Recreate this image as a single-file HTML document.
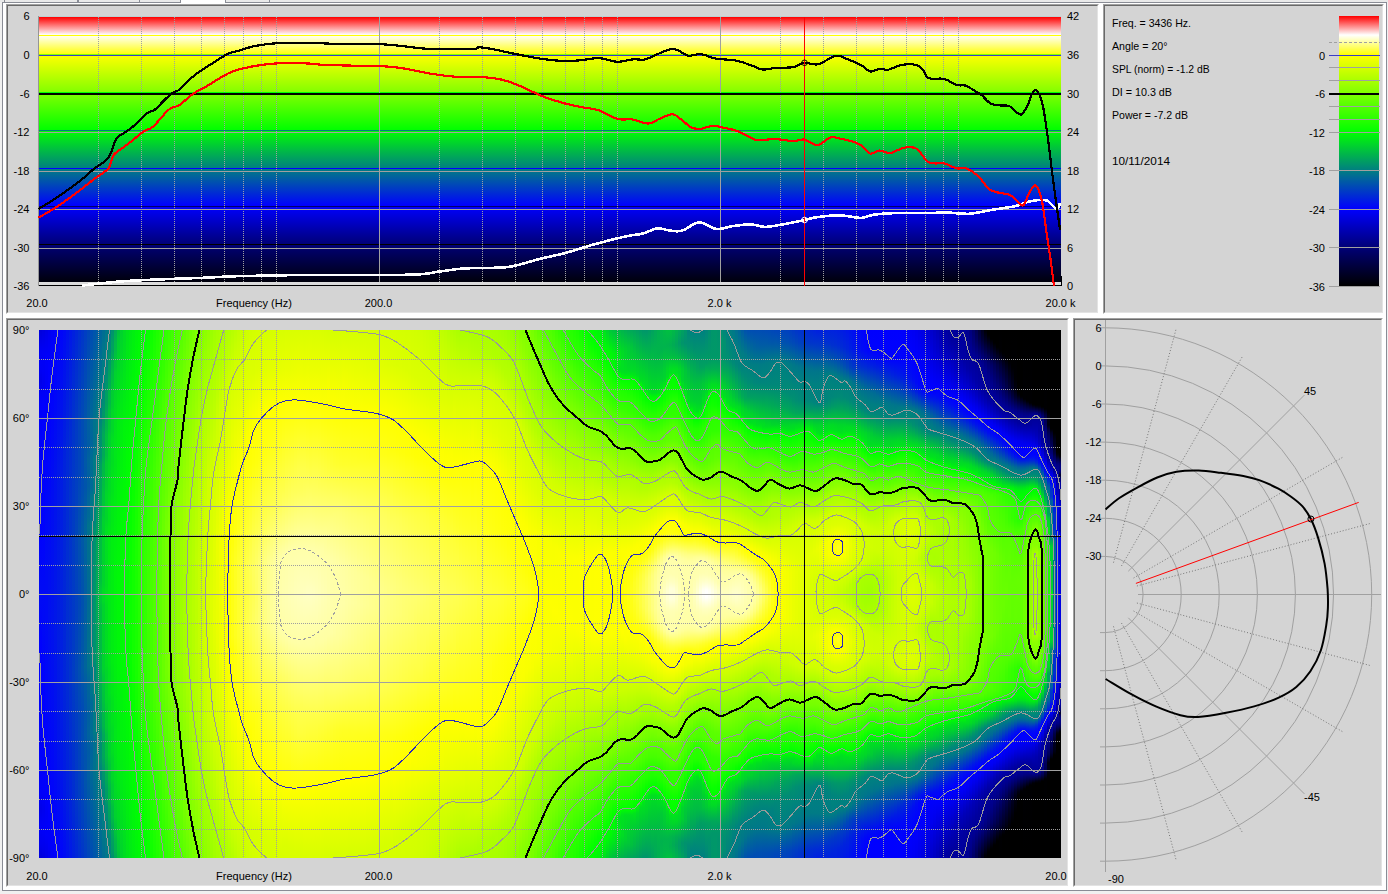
<!DOCTYPE html><html><head><meta charset="utf-8"><style>
*{margin:0;padding:0;box-sizing:border-box}
body{width:1388px;height:894px;background:#f0f0f0;position:relative;overflow:hidden;font-family:"Liberation Sans",sans-serif;font-size:11px;color:#000}
.a{position:absolute}
.pn{position:absolute;background:#d4d4d4;border-style:solid;border-width:1px;border-color:#a0a0a0 #ffffff #ffffff #a0a0a0}
.pn>.in{position:absolute;left:0;top:0;right:0;bottom:0;border-style:solid;border-width:1px;border-color:#696969 #e3e3e3 #e3e3e3 #696969}
.hc{position:absolute;top:330px;height:528px}
svg{position:absolute;left:0;top:0;overflow:visible}
svg text{font-family:"Liberation Sans",sans-serif;font-size:11px;fill:#000}

</style></head><body>
<div class="a" style="left:0;top:0;width:1388px;height:2px;background:#e9e9e9"></div>
<div class="a" style="left:4px;top:0;width:1px;height:2px;background:#898c95"></div>
<div class="a" style="left:77px;top:0;width:1px;height:2px;background:#898c95"></div>
<div class="a" style="left:78px;top:0;width:1px;height:2px;background:#898c95"></div>
<div class="a" style="left:139px;top:0;width:1px;height:2px;background:#898c95"></div>
<div class="a" style="left:269px;top:0;width:1px;height:2px;background:#898c95"></div>
<div class="a" style="left:2px;top:2px;width:1385px;height:889px;border:1px solid #898c95;background:#fff"></div>
<div class="a" style="left:180px;top:0;width:46px;height:3px;background:#fff;border-left:1px solid #898c95;border-right:1px solid #898c95"></div>
<div class="pn" style="left:6px;top:4px;width:1093px;height:310px"><div class="in"></div></div>
<div class="pn" style="left:1103px;top:4px;width:281px;height:310px"><div class="in"></div></div>
<div class="pn" style="left:6px;top:318px;width:1063px;height:569px"><div class="in"></div></div>
<div class="pn" style="left:1073px;top:318px;width:310px;height:569px"><div class="in"></div></div>
<div class="a" style="left:39px;top:17px;width:1022px;height:269px;background:linear-gradient(to bottom,#ff0000 0px,#ffffff 18px,#ffffff 18px,#ffff00 38px,#ffff00 38px,#80ff00 76px,#80ff00 76px,#00ff00 113px,#00ff00 113px,#008080 151px,#008080 151px,#0000ff 189px,#0000ff 189px,#000078 227px,#000078 227px,#000000 269px)"></div>
<div class="hc" style="left:39px;width:3px;background:linear-gradient(#0000dc 0px,#0000f5 21px,#0000f6 37px,#0000e9 51px,#0000fb 69px,#0000fc 115px,#0000f5 121px,#0000ff 135px,#0003fc 211px,#000af5 255px,#000af5 273px,#0005fa 295px,#0001fe 321px,#0000fc 401px,#0000f5 407px,#0000fe 419px,#0000f9 463px,#0000ea 479px,#0000f8 497px,#0000ee 515px,#0000dc 527px)"></div>
<div class="hc" style="left:42px;width:3px;background:linear-gradient(#0000e1 0px,#0000f7 23px,#0000f5 41px,#0000f0 53px,#0000fd 73px,#0004fb 209px,#000af5 257px,#0009f6 291px,#0001fe 365px,#0000fa 463px,#0000ef 479px,#0000f9 499px,#0000ed 517px,#0000e1 527px)"></div>
<div class="hc" style="left:45px;width:3px;background:linear-gradient(#0000e8 0px,#0000fa 27px,#0000f7 53px,#0000fe 85px,#000bf4 235px,#000bf4 293px,#0004fb 403px,#0000fd 461px,#0000f6 483px,#0000f9 505px,#0000e8 527px)"></div>
<div class="hc" style="left:48px;width:3px;background:linear-gradient(#0000f0 0px,#0000fd 35px,#0004fb 107px,#0007f8 133px,#0010ef 285px,#0008f7 401px,#0000fe 473px,#0000f7 515px,#0000f0 527px)"></div>
<div class="hc" style="left:51px;width:3px;background:linear-gradient(#0000f6 0px,#0000ff 41px,#000cf3 141px,#0013ec 289px,#0009f6 417px,#0000fe 499px,#0000f6 527px)"></div>
<div class="hc" style="left:54px;width:3px;background:linear-gradient(#0000fc 0px,#0003fc 39px,#0011ee 139px,#0017e8 295px,#000df2 421px,#0000fe 521px,#0000fc 527px)"></div>
<div class="hc" style="left:57px;width:3px;background:linear-gradient(#0001fe 0px,#0017e9 139px,#001ce3 313px,#0012ed 427px,#0001fe 527px)"></div>
<div class="hc" style="left:60px;width:3px;background:linear-gradient(#0005fa 0px,#001ce3 139px,#0021de 261px,#001ee2 365px,#0016e9 443px,#0005fa 527px)"></div>
<div class="hc" style="left:63px;width:3px;background:linear-gradient(#000af5 0px,#0023dc 131px,#0027d8 241px,#0025da 357px,#0019e6 463px,#000af5 527px)"></div>
<div class="hc" style="left:66px;width:3px;background:linear-gradient(#0011ee 0px,#0029d7 121px,#002ed2 221px,#002fd1 317px,#0020df 465px,#0011ee 527px)"></div>
<div class="hc" style="left:69px;width:3px;background:linear-gradient(#0018e8 0px,#002cd3 101px,#0035ca 185px,#0033cc 291px,#0034cb 347px,#0024db 479px,#0018e8 527px)"></div>
<div class="hc" style="left:72px;width:3px;background:linear-gradient(#001fe0 0px,#0034cc 95px,#003bc5 177px,#003dc2 209px,#0039c7 281px,#003dc3 343px,#0036c9 391px,#002cd3 477px,#001fe0 527px)"></div>
<div class="hc" style="left:75px;width:3px;background:linear-gradient(#0026d9 0px,#003bc4 93px,#0040c0 167px,#0046b9 203px,#0040c0 277px,#0046b9 339px,#003dc3 387px,#0037c9 467px,#0026d9 527px)"></div>
<div class="hc" style="left:78px;width:3px;background:linear-gradient(#002ed2 0px,#0044bc 93px,#0044bc 143px,#0050b0 201px,#0047b8 275px,#004fb1 339px,#0044bc 385px,#0043bc 413px,#003fc1 467px,#002ed2 527px)"></div>
<div class="hc" style="left:81px;width:3px;background:linear-gradient(#0035ca 0px,#004cb4 93px,#004cb3 119px,#004cb4 141px,#0050b0 165px,#005aa5 199px,#0050af 273px,#005aa6 337px,#004bb5 379px,#004db2 407px,#004cb4 433px,#0040c0 491px,#0035ca 527px)"></div>
<div class="hc" style="left:84px;width:3px;background:linear-gradient(#003dc3 0px,#0055ab 93px,#0054ac 117px,#0058a8 133px,#0054ab 157px,#00629e 189px,#00659b 199px,#005ca4 273px,#00649b 337px,#005ba5 353px,#0054ac 385px,#0057a9 405px,#0052ad 427px,#0053ad 453px,#003dc3 527px)"></div>
<div class="hc" style="left:87px;width:3px;background:linear-gradient(#0045bb 0px,#005fa1 93px,#005ba5 115px,#00639d 131px,#005da3 155px,#00669a 171px,#006a96 187px,#00728d 195px,#006996 267px,#00728e 335px,#00669a 349px,#00639c 365px,#005da3 381px,#00629e 403px,#005aa6 423px,#005ea2 445px,#0045bb 527px)"></div>
<div class="hc" style="left:90px;width:3px;background:linear-gradient(#004cb3 0px,#006997 93px,#00649c 113px,#006e92 131px,#006997 157px,#00748c 167px,#007789 189px,#007e82 195px,#007e82 335px,#00748c 343px,#00738d 363px,#006898 373px,#006d93 403px,#00639d 419px,#006997 441px,#004cb3 527px)"></div>
<div class="hc" style="left:93px;width:3px;background:linear-gradient(#0054ac 0px,#006e92 79px,#00738c 93px,#007090 117px,#007b85 129px,#007987 161px,#00837d 167px,#00847c 193px,#008f71 201px,#00946c 275px,#008e72 329px,#00837d 337px,#00827e 363px,#007987 367px,#007b85 401px,#006f91 413px,#00728d 441px,#0054ac 527px)"></div>
<div class="hc" style="left:96px;width:3px;background:linear-gradient(#005ca4 0px,#007090 59px,#007888 75px,#007b85 87px,#007d83 103px,#008080 127px,#008a76 137px,#008c74 163px,#009768 171px,#009f61 195px,#00a758 209px,#00ab55 251px,#00b24e 265px,#00a858 293px,#00a45c 329px,#009c64 339px,#00946b 361px,#008c74 367px,#008779 397px,#007e82 405px,#007e82 439px,#007789 449px,#00768a 459px,#00718f 471px,#005ca4 527px)"></div>
<div class="hc" style="left:99px;width:3px;background:linear-gradient(#00649c 0px,#00748c 43px,#007b85 57px,#007d83 69px,#00837d 89px,#009070 101px,#00916f 127px,#009f61 135px,#00aa56 165px,#00bd42 203px,#00c13e 251px,#00cb35 259px,#00ca35 271px,#00bf40 281px,#00b947 339px,#00af51 355px,#00a15f 387px,#009a66 397px,#009070 403px,#008e72 431px,#00837d 441px,#007d83 459px,#007987 477px,#00649c 527px)"></div>
<div class="hc" style="left:102px;width:3px;background:linear-gradient(#006c94 0px,#00758b 19px,#007b85 35px,#00847c 55px,#008878 67px,#008c74 73px,#00956a 83px,#009867 91px,#00a858 105px,#00a857 125px,#00b748 135px,#00bd42 155px,#00c43c 163px,#00ca36 185px,#00d12e 191px,#00d32c 255px,#00db24 261px,#00d927 271px,#00d22d 275px,#00d12e 339px,#00c739 347px,#00c03f 371px,#00b848 383px,#00b34c 397px,#00a759 405px,#00a55a 427px,#00956b 441px,#009070 453px,#008878 459px,#00867a 471px,#007f81 479px,#007b85 493px,#00758b 509px,#006c94 527px)"></div>
<div class="hc" style="left:105px;width:3px;background:linear-gradient(#00758b 0px,#007a86 9px,#00837d 35px,#008f71 47px,#00946c 55px,#009e62 63px,#00a15e 73px,#00ad53 83px,#00b34d 95px,#00bf41 107px,#00c03f 125px,#00cc33 133px,#00cf30 155px,#00d729 165px,#00d629 189px,#00e020 199px,#00de21 255px,#00e51a 265px,#00de21 277px,#00dd22 335px,#00d629 341px,#00d52b 369px,#00cc33 381px,#00cb34 397px,#00bf41 405px,#00be42 425px,#00ad53 441px,#00a857 451px,#009e62 459px,#009c64 469px,#008f71 477px,#008c74 487px,#00837d 493px,#007d83 509px,#00768a 525px,#00758b 527px)"></div>
<div class="hc" style="left:108px;width:3px;background:linear-gradient(#007e82 0px,#008977 11px,#008a76 21px,#00966a 29px,#009d62 39px,#00a65a 47px,#00ad53 55px,#00b749 63px,#00b947 73px,#00c43b 81px,#00ca35 99px,#00d22e 105px,#00d52b 131px,#00db24 147px,#00dc23 161px,#00e31d 175px,#00e21e 191px,#00e916 205px,#00ea15 259px,#00e619 333px,#00e020 343px,#00e11f 363px,#00d927 371px,#00d926 393px,#00d22e 409px,#00d22e 425px,#00c63a 435px,#00c33c 449px,#00b64a 459px,#00b44b 469px,#00a659 479px,#00a15e 487px,#009769 495px,#00926e 503px,#008977 509px,#00857b 523px,#007e82 527px)"></div>
<div class="hc" style="left:111px;width:3px;background:linear-gradient(#00916f 0px,#009f61 13px,#00a25d 21px,#00af51 31px,#00b848 39px,#00be41 47px,#00c33c 55px,#00cc33 61px,#00d02f 77px,#00d729 81px,#00d729 101px,#00df21 109px,#00de21 133px,#00e41b 147px,#00e31c 161px,#00ea15 175px,#00e916 191px,#00ef10 211px,#00ed12 331px,#00e817 345px,#00e718 363px,#00e11e 373px,#00e21d 391px,#00dc24 399px,#00de21 421px,#00d629 429px,#00d629 449px,#00cd33 455px,#00cc34 469px,#00bf41 477px,#00bc44 487px,#00af50 495px,#00a65a 505px,#009f60 513px,#009a65 521px,#00916f 527px)"></div>
<div class="hc" style="left:114px;width:3px;background:linear-gradient(#00a957 0px,#00b848 13px,#00bc44 21px,#00c53a 27px,#00c936 37px,#00d22e 43px,#00d728 61px,#00de21 79px,#00e21d 93px,#00e51a 105px,#00e719 123px,#00e619 135px,#00ea16 151px,#00ec13 165px,#00f50a 243px,#00f10e 333px,#00ec13 363px,#00ea16 377px,#00e619 393px,#00e719 405px,#00e51a 423px,#00e21d 435px,#00de21 449px,#00db25 461px,#00d22e 481px,#00d22e 487px,#00c639 495px,#00c43b 503px,#00b847 511px,#00b24d 521px,#00a957 527px)"></div>
<div class="hc" style="left:117px;width:3px;background:linear-gradient(#00c03f 0px,#00cd33 11px,#00d12e 23px,#00d629 37px,#00dd22 53px,#00de21 61px,#00ea15 91px,#00ec13 125px,#00f10e 165px,#00f807 247px,#00f60a 333px,#00f010 365px,#00ec13 393px,#00ec13 421px,#00e619 449px,#00de21 467px,#00d926 485px,#00d12e 505px,#00c837 521px,#00c03f 527px)"></div>
<div class="hc" style="left:120px;width:3px;background:linear-gradient(#00d22d 0px,#00d926 21px,#00de21 39px,#00e41b 55px,#00ef10 97px,#00f10e 125px,#00f609 167px,#00fb04 261px,#00f807 341px,#00f30c 367px,#00f20d 407px,#00ea16 459px,#00e41b 475px,#00df20 493px,#00d926 507px,#00d22d 527px)"></div>
<div class="hc" style="left:123px;width:3px;background:linear-gradient(#00dd22 0px,#00dd22 11px,#00f40b 97px,#00f906 167px,#01ff00 285px,#00f807 363px,#00ef10 455px,#00dd22 517px,#00dd22 527px)"></div>
<div class="hc" style="left:126px;width:3px;background:linear-gradient(#00e41b 0px,#00fa05 121px,#00fb04 141px,#05ff00 287px,#00fb04 363px,#00f20d 459px,#00e41b 527px)"></div>
<div class="hc" style="left:129px;width:3px;background:linear-gradient(#00ea15 0px,#00fd02 125px,#04ff00 177px,#09ff00 227px,#0bff00 287px,#04ff00 351px,#00f708 453px,#00ea15 527px)"></div>
<div class="hc" style="left:132px;width:3px;background:linear-gradient(#00ef10 0px,#00ff00 119px,#08ff00 149px,#0cff00 179px,#11ff00 225px,#11ff00 333px,#09ff00 365px,#05ff00 383px,#00fb04 453px,#00ef10 527px)"></div>
<div class="hc" style="left:135px;width:3px;background:linear-gradient(#00f40b 0px,#01ff00 91px,#0aff00 125px,#10ff00 149px,#16ff00 181px,#1aff00 221px,#17ff00 345px,#12ff00 365px,#0fff00 381px,#07ff00 407px,#00fd02 461px,#00f40b 527px)"></div>
<div class="hc" style="left:138px;width:3px;background:linear-gradient(#00f807 0px,#03ff00 71px,#13ff00 125px,#1aff00 149px,#1cff00 163px,#21ff00 183px,#24ff00 209px,#22ff00 343px,#1cff00 363px,#1cff00 377px,#16ff00 391px,#10ff00 407px,#00fe01 481px,#00f807 527px)"></div>
<div class="hc" style="left:141px;width:3px;background:linear-gradient(#00fb04 0px,#06ff00 57px,#1fff00 127px,#23ff00 149px,#26ff00 161px,#2cff00 237px,#29ff00 343px,#25ff00 377px,#20ff00 393px,#01ff00 495px,#00fb04 527px)"></div>
<div class="hc" style="left:144px;width:3px;background:linear-gradient(#00fe01 0px,#16ff00 79px,#29ff00 137px,#2eff00 183px,#34ff00 225px,#32ff00 335px,#2fff00 351px,#27ff00 401px,#03ff00 513px,#00fe01 527px)"></div>
<div class="hc" style="left:147px;width:3px;background:linear-gradient(#05ff00 0px,#27ff00 107px,#32ff00 147px,#37ff00 181px,#3fff00 283px,#38ff00 349px,#32ff00 373px,#2eff00 397px,#1bff00 459px,#05ff00 527px)"></div>
<div class="hc" style="left:150px;width:3px;background:linear-gradient(#0dff00 0px,#29ff00 91px,#3bff00 149px,#40ff00 181px,#48ff00 245px,#45ff00 289px,#41ff00 351px,#37ff00 395px,#2aff00 443px,#0dff00 527px)"></div>
<div class="hc" style="left:153px;width:3px;background:linear-gradient(#16ff00 0px,#27ff00 63px,#3aff00 115px,#45ff00 151px,#4aff00 183px,#4fff00 243px,#4fff00 285px,#4bff00 351px,#40ff00 395px,#2cff00 453px,#16ff00 527px)"></div>
<div class="hc" style="left:156px;width:3px;background:linear-gradient(#1eff00 0px,#32ff00 69px,#49ff00 131px,#4eff00 151px,#51ff00 171px,#55ff00 243px,#5aff00 261px,#58ff00 283px,#54ff00 319px,#51ff00 357px,#4bff00 389px,#3eff00 427px,#2aff00 485px,#1eff00 527px)"></div>
<div class="hc" style="left:159px;width:3px;background:linear-gradient(#25ff00 0px,#34ff00 55px,#4cff00 111px,#51ff00 133px,#5aff00 173px,#5eff00 209px,#5fff00 245px,#62ff00 277px,#5eff00 297px,#5cff00 353px,#57ff00 365px,#4eff00 409px,#35ff00 471px,#2cff00 501px,#25ff00 527px)"></div>
<div class="hc" style="left:162px;width:3px;background:linear-gradient(#2aff00 0px,#36ff00 39px,#4eff00 91px,#54ff00 119px,#5cff00 149px,#6aff00 199px,#6bff00 249px,#68ff00 345px,#59ff00 389px,#52ff00 427px,#40ff00 471px,#2eff00 511px,#2aff00 527px)"></div>
<div class="hc" style="left:165px;width:3px;background:linear-gradient(#30ff00 0px,#56ff00 89px,#5eff00 127px,#63ff00 149px,#75ff00 197px,#73ff00 341px,#60ff00 389px,#4eff00 459px,#30ff00 527px)"></div>
<div class="hc" style="left:168px;width:3px;background:linear-gradient(#37ff00 0px,#54ff00 63px,#68ff00 141px,#79ff00 177px,#7eff00 203px,#7dff00 339px,#6fff00 375px,#69ff00 389px,#4dff00 483px,#37ff00 527px)"></div>
<div class="hc" style="left:171px;width:3px;background:linear-gradient(#3fff00 0px,#56ff00 49px,#63ff00 89px,#71ff00 139px,#7aff00 159px,#81ff00 179px,#85ff00 195px,#86ff00 331px,#81ff00 347px,#7cff00 367px,#71ff00 387px,#6eff00 403px,#5cff00 453px,#4bff00 505px,#3fff00 527px)"></div>
<div class="hc" style="left:174px;width:3px;background:linear-gradient(#47ff00 0px,#55ff00 33px,#74ff00 119px,#79ff00 139px,#84ff00 167px,#88ff00 183px,#8fff00 221px,#8dff00 331px,#89ff00 347px,#82ff00 367px,#79ff00 389px,#76ff00 403px,#65ff00 451px,#4bff00 519px,#47ff00 527px)"></div>
<div class="hc" style="left:177px;width:3px;background:linear-gradient(#4eff00 0px,#77ff00 103px,#86ff00 159px,#90ff00 179px,#96ff00 229px,#96ff00 327px,#90ff00 351px,#81ff00 383px,#72ff00 441px,#4eff00 527px)"></div>
<div class="hc" style="left:180px;width:3px;background:linear-gradient(#54ff00 0px,#75ff00 71px,#7fff00 107px,#91ff00 163px,#97ff00 183px,#9dff00 217px,#9fff00 285px,#99ff00 337px,#93ff00 363px,#84ff00 403px,#77ff00 449px,#64ff00 493px,#54ff00 527px)"></div>
<div class="hc" style="left:183px;width:3px;background:linear-gradient(#5cff00 0px,#7dff00 67px,#86ff00 103px,#9cff00 167px,#a3ff00 213px,#a6ff00 283px,#a1ff00 337px,#99ff00 365px,#81ff00 439px,#73ff00 485px,#5cff00 527px)"></div>
<div class="hc" style="left:186px;width:3px;background:linear-gradient(#65ff00 0px,#7fff00 55px,#91ff00 113px,#a5ff00 177px,#adff00 279px,#a6ff00 339px,#a2ff00 363px,#8aff00 429px,#79ff00 489px,#65ff00 527px)"></div>
<div class="hc" style="left:189px;width:3px;background:linear-gradient(#6eff00 0px,#81ff00 45px,#9bff00 115px,#a7ff00 157px,#b0ff00 235px,#b2ff00 279px,#a4ff00 385px,#80ff00 485px,#6eff00 527px)"></div>
<div class="hc" style="left:192px;width:3px;background:linear-gradient(#76ff00 0px,#90ff00 69px,#a9ff00 135px,#b7ff00 237px,#b8ff00 279px,#b0ff00 355px,#a2ff00 415px,#80ff00 501px,#76ff00 527px)"></div>
<div class="hc" style="left:195px;width:3px;background:linear-gradient(#7cff00 0px,#91ff00 55px,#a8ff00 109px,#bfff00 229px,#bcff00 321px,#adff00 395px,#9dff00 451px,#84ff00 503px,#7cff00 527px)"></div>
<div class="hc" style="left:198px;width:3px;background:linear-gradient(#80ff00 0px,#a9ff00 93px,#baff00 153px,#c6ff00 235px,#c4ff00 313px,#b4ff00 393px,#a0ff00 459px,#80ff00 527px)"></div>
<div class="hc" style="left:201px;width:3px;background:linear-gradient(#85ff00 0px,#abff00 81px,#c6ff00 183px,#cdff00 235px,#cbff00 311px,#baff00 393px,#9eff00 477px,#85ff00 527px)"></div>
<div class="hc" style="left:204px;width:3px;background:linear-gradient(#8cff00 0px,#aaff00 65px,#ccff00 173px,#d4ff00 249px,#d1ff00 311px,#c6ff00 381px,#9fff00 489px,#8cff00 527px)"></div>
<div class="hc" style="left:207px;width:3px;background:linear-gradient(#93ff00 0px,#cfff00 151px,#daff00 267px,#ccff00 383px,#99ff00 511px,#93ff00 527px)"></div>
<div class="hc" style="left:210px;width:3px;background:linear-gradient(#9aff00 0px,#d4ff00 151px,#e0ff00 269px,#d9ff00 333px,#ceff00 397px,#a7ff00 495px,#9aff00 527px)"></div>
<div class="hc" style="left:213px;width:3px;background:linear-gradient(#a1ff00 0px,#b3ff00 55px,#d3ff00 131px,#e2ff00 219px,#e6ff00 287px,#ceff00 415px,#aaff00 499px,#a1ff00 527px)"></div>
<div class="hc" style="left:216px;width:3px;background:linear-gradient(#a6ff00 0px,#b2ff00 43px,#caff00 87px,#eaff00 213px,#eaff00 301px,#e1ff00 357px,#c5ff00 455px,#acff00 501px,#a6ff00 527px)"></div>
<div class="hc" style="left:219px;width:3px;background:linear-gradient(#a9ff00 0px,#b2ff00 33px,#ccff00 75px,#e1ff00 151px,#f1ff00 217px,#efff00 327px,#d9ff00 399px,#c6ff00 467px,#abff00 511px,#a9ff00 527px)"></div>
<div class="hc" style="left:222px;width:3px;background:linear-gradient(#aaff00 0px,#b7ff00 31px,#d1ff00 71px,#deff00 129px,#f4ff00 191px,#f8ff00 271px,#f3ff00 343px,#d6ff00 427px,#cbff00 471px,#acff00 517px,#aaff00 527px)"></div>
<div class="hc" style="left:225px;width:3px;background:linear-gradient(#adff00 0px,#bfff00 33px,#d3ff00 63px,#e1ff00 125px,#faff00 187px,#fcff00 319px,#edff00 379px,#daff00 427px,#cdff00 477px,#aeff00 521px,#adff00 527px)"></div>
<div class="hc" style="left:228px;width:3px;background:linear-gradient(#b1ff00 0px,#c3ff00 31px,#d4ff00 57px,#e7ff00 125px,#fcff00 179px,#ffff03 213px,#ffff08 237px,#ffff05 313px,#feff00 323px,#f6ff00 373px,#dcff00 435px,#ceff00 485px,#b2ff00 523px,#b1ff00 527px)"></div>
<div class="hc" style="left:231px;width:3px;background:linear-gradient(#b6ff00 0px,#c9ff00 31px,#d6ff00 55px,#f0ff00 129px,#ffff02 177px,#ffff05 189px,#ffff09 203px,#ffff0b 213px,#ffff16 227px,#ffff14 307px,#ffff08 319px,#ffff07 337px,#ffff01 345px,#f5ff00 389px,#d8ff00 459px,#cfff00 491px,#b6ff00 525px,#b6ff00 527px)"></div>
<div class="hc" style="left:234px;width:3px;background:linear-gradient(#bbff00 0px,#d0ff00 33px,#f4ff00 127px,#ffff03 167px,#ffff0a 183px,#ffff13 203px,#ffff18 215px,#ffff23 231px,#ffff20 305px,#ffff13 321px,#ffff0e 337px,#ffff0a 347px,#ffff00 371px,#d5ff00 481px,#cbff00 501px,#bbff00 527px)"></div>
<div class="hc" style="left:237px;width:3px;background:linear-gradient(#c1ff00 0px,#d6ff00 45px,#ffff01 147px,#ffff0b 171px,#ffff1d 207px,#ffff2e 233px,#ffff2d 279px,#ffff2a 305px,#ffff1c 323px,#ffff06 363px,#fcff00 395px,#d5ff00 487px,#c1ff00 527px)"></div>
<div class="hc" style="left:240px;width:3px;background:linear-gradient(#c6ff00 0px,#ffff00 137px,#ffff14 175px,#ffff31 221px,#ffff38 243px,#ffff35 273px,#ffff36 301px,#ffff18 347px,#ffff00 391px,#e3ff00 455px,#c9ff00 517px,#c6ff00 527px)"></div>
<div class="hc" style="left:243px;width:3px;background:linear-gradient(#caff00 0px,#e8ff00 75px,#feff00 123px,#ffff07 145px,#ffff42 235px,#ffff3d 271px,#ffff41 297px,#ffff02 391px,#f4ff00 433px,#d5ff00 495px,#caff00 527px)"></div>
<div class="hc" style="left:246px;width:3px;background:linear-gradient(#ceff00 0px,#e2ff00 59px,#fdff00 109px,#ffff06 139px,#ffff4b 235px,#ffff44 269px,#ffff4b 295px,#ffff02 397px,#f7ff00 435px,#d5ff00 497px,#ceff00 527px)"></div>
<div class="hc" style="left:249px;width:3px;background:linear-gradient(#d1ff00 0px,#dfff00 49px,#feff00 103px,#ffff07 135px,#ffff54 235px,#ffff4d 259px,#ffff4f 273px,#ffff54 295px,#ffff03 401px,#f9ff00 437px,#d6ff00 499px,#d1ff00 527px)"></div>
<div class="hc" style="left:252px;width:3px;background:linear-gradient(#d3ff00 0px,#ddff00 43px,#ffff00 99px,#ffff0a 133px,#ffff52 217px,#ffff5e 239px,#ffff55 267px,#ffff5e 289px,#ffff52 311px,#ffff0a 395px,#feff00 431px,#d6ff00 503px,#d3ff00 527px)"></div>
<div class="hc" style="left:255px;width:3px;background:linear-gradient(#d4ff00 0px,#deff00 41px,#ffff00 95px,#ffff0e 133px,#ffff50 207px,#ffff67 235px,#ffff62 257px,#ffff60 269px,#ffff68 291px,#ffff56 315px,#ffff14 387px,#ffff03 421px,#f9ff00 447px,#d7ff00 501px,#d4ff00 527px)"></div>
<div class="hc" style="left:258px;width:3px;background:linear-gradient(#d5ff00 0px,#deff00 39px,#ffff00 89px,#ffff10 131px,#ffff4c 197px,#ffff70 233px,#ffff6e 255px,#ffff6d 271px,#ffff71 293px,#ffff5a 319px,#ffff1d 381px,#ffff05 419px,#faff00 449px,#d8ff00 503px,#d5ff00 527px)"></div>
<div class="hc" style="left:261px;width:3px;background:linear-gradient(#d5ff00 0px,#e0ff00 39px,#ffff00 87px,#ffff16 133px,#ffff50 195px,#ffff79 231px,#ffff7b 253px,#ffff7a 273px,#ffff7a 295px,#ffff58 327px,#ffff1e 385px,#ffff01 433px,#f9ff00 455px,#d9ff00 503px,#d5ff00 527px)"></div>
<div class="hc" style="left:264px;width:3px;background:linear-gradient(#d5ff00 0px,#e2ff00 41px,#ffff00 83px,#ffff13 123px,#ffff4b 185px,#ffff83 231px,#ffff85 255px,#ffff84 295px,#ffff64 323px,#ffff2d 373px,#ffff06 427px,#fbff00 455px,#d9ff00 505px,#d5ff00 527px)"></div>
<div class="hc" style="left:267px;width:3px;background:linear-gradient(#d5ff00 0px,#e4ff00 41px,#ffff00 81px,#ffff17 123px,#ffff4c 181px,#ffff8c 231px,#ffff90 257px,#ffff8d 295px,#ffff70 319px,#ffff3b 363px,#ffff0a 425px,#feff00 451px,#daff00 507px,#d5ff00 527px)"></div>
<div class="hc" style="left:270px;width:3px;background:linear-gradient(#d6ff00 0px,#e5ff00 41px,#ffff00 77px,#ffff11 109px,#ffff46 171px,#ffff7b 211px,#ffff96 233px,#ffff9a 281px,#ffff92 301px,#ffff4a 353px,#ffff15 413px,#ffff00 449px,#e9ff00 481px,#d6ff00 521px,#d6ff00 527px)"></div>
<div class="hc" style="left:273px;width:3px;background:linear-gradient(#d7ff00 0px,#e6ff00 41px,#ffff00 77px,#ffff1c 119px,#ffff4f 175px,#ffff82 211px,#ffff9d 231px,#ffffa2 265px,#ffff9d 297px,#ffff7b 321px,#ffff48 359px,#ffff08 435px,#fcff00 459px,#dbff00 507px,#d7ff00 527px)"></div>
<div class="hc" style="left:276px;width:3px;background:linear-gradient(#d7ff00 0px,#e6ff00 39px,#ffff00 75px,#ffff21 121px,#ffff54 175px,#ffff85 209px,#ffffa3 229px,#ffffa9 271px,#ffffa3 299px,#ffff56 351px,#ffff26 401px,#ffff01 451px,#f2ff00 473px,#d9ff00 515px,#d7ff00 527px)"></div>
<div class="hc" style="left:279px;width:3px;background:linear-gradient(#d8ff00 0px,#e7ff00 39px,#ffff00 73px,#ffff23 119px,#ffff56 173px,#ffff87 207px,#ffffa7 227px,#ffffac 273px,#ffffa5 303px,#ffff60 347px,#ffff34 389px,#ffff01 453px,#edff00 481px,#d9ff00 521px,#d8ff00 527px)"></div>
<div class="hc" style="left:282px;width:3px;background:linear-gradient(#d8ff00 0px,#e8ff00 39px,#ffff01 73px,#ffff4a 159px,#ffff81 201px,#ffffa8 225px,#ffffb0 271px,#ffffa6 305px,#ffff64 347px,#ffff3b 385px,#ffff01 455px,#dbff00 515px,#d8ff00 527px)"></div>
<div class="hc" style="left:285px;width:3px;background:linear-gradient(#d9ff00 0px,#e9ff00 39px,#ffff02 73px,#ffff57 167px,#ffff8c 205px,#ffffa9 223px,#ffffb2 271px,#ffffa7 307px,#ffff68 347px,#ffff40 383px,#ffff00 457px,#dbff00 515px,#d9ff00 527px)"></div>
<div class="hc" style="left:288px;width:3px;background:linear-gradient(#d9ff00 0px,#e9ff00 39px,#ffff02 73px,#ffff5a 167px,#ffff90 205px,#ffffaa 221px,#ffffb5 269px,#ffffa5 311px,#ffff6f 345px,#ffff45 381px,#ffff17 431px,#feff00 459px,#dbff00 517px,#d9ff00 527px)"></div>
<div class="hc" style="left:291px;width:3px;background:linear-gradient(#d9ff00 0px,#ebff00 41px,#ffff02 73px,#ffff44 141px,#ffff60 169px,#ffff93 205px,#ffffa9 219px,#ffffb7 269px,#ffffa7 311px,#ffff73 345px,#ffff48 381px,#ffff30 409px,#feff00 459px,#daff00 519px,#d9ff00 527px)"></div>
<div class="hc" style="left:294px;width:3px;background:linear-gradient(#d9ff00 0px,#edff00 43px,#ffff03 73px,#ffff44 137px,#ffff5b 163px,#ffff99 207px,#ffffaa 219px,#ffffba 267px,#ffffa6 313px,#ffff76 345px,#ffff4b 381px,#ffff37 405px,#feff00 459px,#dbff00 519px,#d9ff00 527px)"></div>
<div class="hc" style="left:297px;width:3px;background:linear-gradient(#d9ff00 0px,#efff00 45px,#ffff03 73px,#ffff47 137px,#ffff5a 161px,#ffff9e 209px,#ffffab 221px,#ffffbc 267px,#ffffa7 313px,#ffff76 347px,#ffff4e 379px,#ffff3c 403px,#feff00 459px,#daff00 521px,#d9ff00 527px)"></div>
<div class="hc" style="left:300px;width:3px;background:linear-gradient(#d9ff00 0px,#efff00 45px,#ffff02 73px,#ffff48 137px,#ffff5c 161px,#ffffaa 219px,#ffffba 253px,#ffffbe 269px,#ffffab 305px,#ffffa2 317px,#ffff53 375px,#ffff3c 403px,#feff00 459px,#daff00 521px,#d9ff00 527px)"></div>
<div class="hc" style="left:303px;width:3px;background:linear-gradient(#d9ff00 0px,#edff00 43px,#ffff02 73px,#ffff48 137px,#ffff60 163px,#ffffaa 219px,#ffffb9 251px,#ffffc1 267px,#ffffab 303px,#ffffa2 317px,#ffff50 379px,#ffff39 405px,#ffff00 457px,#daff00 523px,#d9ff00 527px)"></div>
<div class="hc" style="left:306px;width:3px;background:linear-gradient(#d9ff00 0px,#eeff00 43px,#ffff03 75px,#ffff4a 141px,#ffff69 169px,#ffffaa 219px,#ffffb8 249px,#ffffc3 265px,#ffffab 301px,#ffffa4 315px,#ffff4e 381px,#ffff31 411px,#ffff00 457px,#daff00 523px,#d9ff00 527px)"></div>
<div class="hc" style="left:309px;width:3px;background:linear-gradient(#daff00 0px,#ecff00 41px,#ffff02 75px,#ffff4e 147px,#ffffa9 219px,#ffffb7 249px,#ffffc3 265px,#ffffab 299px,#ffffa4 315px,#ffff4c 383px,#ffff00 457px,#daff00 523px,#daff00 527px)"></div>
<div class="hc" style="left:312px;width:3px;background:linear-gradient(#d9ff00 0px,#ecff00 41px,#ffff02 75px,#ffff63 165px,#ffffa9 219px,#ffffb6 249px,#ffffc1 265px,#ffffab 299px,#ffffa3 315px,#ffff49 385px,#ffff00 457px,#daff00 523px,#d9ff00 527px)"></div>
<div class="hc" style="left:315px;width:3px;background:linear-gradient(#d9ff00 0px,#ecff00 41px,#ffff02 75px,#ffff60 163px,#ffffa9 221px,#ffffb6 251px,#ffffbd 267px,#ffffaa 301px,#ffff9f 317px,#ffff42 391px,#feff00 457px,#daff00 523px,#d9ff00 527px)"></div>
<div class="hc" style="left:318px;width:3px;background:linear-gradient(#d9ff00 0px,#edff00 43px,#ffff02 75px,#ffff55 155px,#ffffa8 221px,#ffffba 267px,#ffffa2 313px,#ffff37 399px,#ffff00 455px,#d9ff00 525px,#d9ff00 527px)"></div>
<div class="hc" style="left:321px;width:3px;background:linear-gradient(#d8ff00 0px,#efff00 45px,#ffff02 77px,#ffff4c 149px,#ffffa5 219px,#ffffb6 267px,#ffffa3 311px,#ffff2f 405px,#ffff00 455px,#d8ff00 525px,#d8ff00 527px)"></div>
<div class="hc" style="left:324px;width:3px;background:linear-gradient(#d7ff00 0px,#f1ff00 49px,#ffff03 79px,#ffff43 143px,#ffff96 207px,#ffffa9 229px,#ffffb3 269px,#ffffa3 309px,#ffff5b 367px,#ffff2a 407px,#ffff00 455px,#d7ff00 525px,#d7ff00 527px)"></div>
<div class="hc" style="left:327px;width:3px;background:linear-gradient(#d6ff00 0px,#f8ff00 59px,#ffff04 81px,#ffff3e 141px,#ffff84 193px,#ffffa8 229px,#ffffaf 271px,#ffffa4 305px,#ffff63 361px,#ffff2c 403px,#ffff00 455px,#d6ff00 527px)"></div>
<div class="hc" style="left:330px;width:3px;background:linear-gradient(#d5ff00 0px,#ffff00 77px,#ffff36 137px,#ffff7e 189px,#ffffa8 231px,#ffffac 275px,#ffffa4 303px,#ffff65 359px,#ffff2b 401px,#ffff00 453px,#d5ff00 527px)"></div>
<div class="hc" style="left:333px;width:3px;background:linear-gradient(#d5ff00 0px,#ffff00 77px,#ffff31 135px,#ffff79 185px,#ffffa7 233px,#ffffaa 279px,#ffffa1 303px,#ffff68 357px,#ffff28 401px,#ffff00 453px,#d5ff00 527px)"></div>
<div class="hc" style="left:336px;width:3px;background:linear-gradient(#d5ff00 0px,#ffff01 79px,#ffff2f 135px,#ffff76 183px,#ffffa6 235px,#ffffa9 281px,#ffff9a 309px,#ffff67 357px,#ffff26 401px,#ffff00 453px,#d5ff00 527px)"></div>
<div class="hc" style="left:339px;width:3px;background:linear-gradient(#d5ff00 0px,#ffff01 79px,#ffff2d 135px,#ffff75 183px,#ffffa4 237px,#ffffa9 275px,#ffff9b 305px,#ffff66 357px,#ffff24 401px,#feff00 453px,#d5ff00 527px)"></div>
<div class="hc" style="left:342px;width:3px;background:linear-gradient(#d5ff00 0px,#f5ff00 57px,#ffff03 83px,#ffff2c 135px,#ffff73 183px,#ffffa2 237px,#ffffa8 273px,#ffff98 305px,#ffff64 357px,#ffff23 401px,#feff00 453px,#d5ff00 527px)"></div>
<div class="hc" style="left:345px;width:3px;background:linear-gradient(#d5ff00 0px,#f2ff00 53px,#ffff02 83px,#ffff2c 135px,#ffff71 183px,#ffffa0 239px,#ffffa5 273px,#ffff94 307px,#ffff62 357px,#ffff23 401px,#ffff00 451px,#d5ff00 527px)"></div>
<div class="hc" style="left:348px;width:3px;background:linear-gradient(#d5ff00 0px,#efff00 49px,#ffff01 81px,#ffff2b 135px,#ffff6f 183px,#ffff9d 239px,#ffffa3 271px,#ffff91 307px,#ffff63 355px,#ffff22 401px,#ffff00 451px,#d5ff00 525px,#d5ff00 527px)"></div>
<div class="hc" style="left:351px;width:3px;background:linear-gradient(#d5ff00 0px,#edff00 47px,#ffff00 81px,#ffff28 133px,#ffff6f 185px,#ffff9b 241px,#ffffa0 273px,#ffff8b 311px,#ffff5f 357px,#ffff22 401px,#ffff00 449px,#d5ff00 525px,#d5ff00 527px)"></div>
<div class="hc" style="left:354px;width:3px;background:linear-gradient(#d5ff00 0px,#ebff00 45px,#ffff01 83px,#ffff28 133px,#ffff6e 185px,#ffff99 241px,#ffff9e 273px,#ffff87 313px,#ffff5d 357px,#ffff20 403px,#ffff00 449px,#d5ff00 525px,#d5ff00 527px)"></div>
<div class="hc" style="left:357px;width:3px;background:linear-gradient(#d5ff00 0px,#ebff00 45px,#ffff01 83px,#ffff25 131px,#ffff6e 187px,#ffff98 245px,#ffff9b 275px,#ffff7f 321px,#ffff59 359px,#ffff1f 403px,#ffff00 449px,#d5ff00 525px,#d5ff00 527px)"></div>
<div class="hc" style="left:360px;width:3px;background:linear-gradient(#d5ff00 0px,#e9ff00 43px,#ffff01 83px,#ffff25 131px,#ffff6c 187px,#ffff95 245px,#ffff98 275px,#ffff79 325px,#ffff55 361px,#ffff1e 403px,#ffff00 449px,#d5ff00 523px,#d5ff00 527px)"></div>
<div class="hc" style="left:363px;width:3px;background:linear-gradient(#d5ff00 0px,#e8ff00 43px,#ffff00 83px,#ffff24 131px,#ffff6a 187px,#ffff93 247px,#ffff95 275px,#ffff74 329px,#ffff54 361px,#ffff1c 405px,#ffff00 449px,#d5ff00 523px,#d5ff00 527px)"></div>
<div class="hc" style="left:366px;width:3px;background:linear-gradient(#d5ff00 0px,#e6ff00 41px,#ffff00 83px,#ffff21 129px,#ffff68 187px,#ffff92 249px,#ffff93 275px,#ffff6d 335px,#ffff4d 365px,#ffff1b 405px,#ffff00 447px,#d5ff00 521px,#d5ff00 527px)"></div>
<div class="hc" style="left:369px;width:3px;background:linear-gradient(#d5ff00 0px,#e5ff00 39px,#ffff00 83px,#ffff1e 127px,#ffff65 185px,#ffff90 251px,#ffff90 277px,#ffff63 345px,#ffff1a 405px,#ffff00 447px,#d5ff00 521px,#d5ff00 527px)"></div>
<div class="hc" style="left:372px;width:3px;background:linear-gradient(#d5ff00 0px,#e4ff00 39px,#ffff01 85px,#ffff1d 127px,#ffff63 185px,#ffff8f 255px,#ffff8d 279px,#ffff5c 351px,#ffff1b 403px,#ffff00 445px,#d5ff00 519px,#d5ff00 527px)"></div>
<div class="hc" style="left:375px;width:3px;background:linear-gradient(#d5ff00 0px,#e2ff00 37px,#ffff00 85px,#ffff1b 127px,#ffff60 183px,#ffff8d 257px,#ffff89 281px,#ffff59 353px,#ffff1a 403px,#ffff00 445px,#d6ff00 517px,#d5ff00 527px)"></div>
<div class="hc" style="left:378px;width:3px;background:linear-gradient(#d5ff00 0px,#e2ff00 37px,#ffff00 85px,#ffff18 125px,#ffff5e 183px,#ffff8c 259px,#ffff84 287px,#ffff57 353px,#ffff18 403px,#ffff00 443px,#d6ff00 517px,#d5ff00 527px)"></div>
<div class="hc" style="left:381px;width:3px;background:linear-gradient(#d5ff00 0px,#e1ff00 37px,#ffff00 87px,#ffff17 125px,#ffff5c 183px,#ffff89 259px,#ffff81 287px,#ffff55 353px,#ffff17 403px,#ffff00 441px,#d5ff00 517px,#d5ff00 527px)"></div>
<div class="hc" style="left:384px;width:3px;background:linear-gradient(#d5ff00 0px,#dfff00 35px,#ffff00 87px,#ffff16 125px,#ffff5c 185px,#ffff86 259px,#ffff7e 289px,#ffff53 353px,#ffff16 403px,#ffff00 441px,#d5ff00 515px,#d5ff00 527px)"></div>
<div class="hc" style="left:387px;width:3px;background:linear-gradient(#d5ff00 0px,#deff00 35px,#ffff00 89px,#ffff14 125px,#ffff59 185px,#ffff83 257px,#ffff7e 283px,#ffff50 353px,#ffff13 405px,#ffff00 439px,#d6ff00 513px,#d5ff00 527px)"></div>
<div class="hc" style="left:390px;width:3px;background:linear-gradient(#d5ff00 0px,#ddff00 35px,#ffff00 89px,#ffff0f 121px,#ffff44 167px,#ffff60 199px,#ffff81 259px,#ffff79 289px,#ffff4e 353px,#ffff11 405px,#ffff01 437px,#e8ff00 475px,#d5ff00 517px,#d5ff00 527px)"></div>
<div class="hc" style="left:393px;width:3px;background:linear-gradient(#d5ff00 0px,#dcff00 35px,#ffff00 91px,#ffff0e 121px,#ffff57 189px,#ffff7e 257px,#ffff78 285px,#ffff4d 351px,#ffff0e 407px,#ffff00 437px,#d6ff00 509px,#d5ff00 527px)"></div>
<div class="hc" style="left:396px;width:3px;background:linear-gradient(#d4ff00 0px,#dbff00 35px,#ffff00 93px,#ffff0c 121px,#ffff55 189px,#ffff7b 257px,#ffff76 285px,#ffff4b 351px,#ffff0c 407px,#ffff00 435px,#d6ff00 507px,#d4ff00 527px)"></div>
<div class="hc" style="left:399px;width:3px;background:linear-gradient(#d4ff00 0px,#dcff00 37px,#ffff00 95px,#ffff0c 123px,#ffff53 189px,#ffff79 257px,#ffff74 285px,#ffff48 351px,#ffff0b 407px,#ffff00 433px,#d5ff00 507px,#d4ff00 527px)"></div>
<div class="hc" style="left:402px;width:3px;background:linear-gradient(#d4ff00 0px,#dbff00 37px,#ffff00 97px,#ffff0b 123px,#ffff50 189px,#ffff77 259px,#ffff6f 289px,#ffff44 353px,#ffff09 407px,#ffff00 433px,#d6ff00 503px,#d4ff00 527px)"></div>
<div class="hc" style="left:405px;width:3px;background:linear-gradient(#d3ff00 0px,#dbff00 39px,#ffff00 99px,#ffff0a 125px,#ffff4e 189px,#ffff75 259px,#ffff6d 289px,#ffff42 353px,#ffff09 405px,#feff00 431px,#d5ff00 503px,#d3ff00 527px)"></div>
<div class="hc" style="left:408px;width:3px;background:linear-gradient(#d3ff00 0px,#dcff00 43px,#ffff00 101px,#ffff09 125px,#ffff4a 187px,#ffff74 261px,#ffff67 295px,#ffff3e 355px,#ffff07 405px,#feff00 431px,#d5ff00 501px,#d3ff00 527px)"></div>
<div class="hc" style="left:411px;width:3px;background:linear-gradient(#d2ff00 0px,#dbff00 45px,#feff00 101px,#ffff07 125px,#ffff48 187px,#ffff72 261px,#ffff65 295px,#ffff3c 355px,#ffff07 403px,#feff00 427px,#d5ff00 499px,#d2ff00 527px)"></div>
<div class="hc" style="left:414px;width:3px;background:linear-gradient(#d1ff00 0px,#dbff00 47px,#feff00 103px,#ffff06 127px,#ffff46 187px,#ffff71 263px,#ffff53 321px,#ffff36 359px,#ffff05 403px,#fbff00 433px,#d6ff00 495px,#d1ff00 527px)"></div>
<div class="hc" style="left:417px;width:3px;background:linear-gradient(#d0ff00 0px,#dbff00 49px,#feff00 105px,#ffff06 129px,#ffff43 185px,#ffff6f 263px,#ffff45 339px,#ffff2a 367px,#ffff03 403px,#f9ff00 435px,#d5ff00 493px,#d0ff00 527px)"></div>
<div class="hc" style="left:420px;width:3px;background:linear-gradient(#cfff00 0px,#dcff00 53px,#fdff00 107px,#ffff06 131px,#ffff40 185px,#ffff6d 263px,#ffff43 339px,#ffff28 367px,#ffff03 401px,#f7ff00 435px,#d5ff00 491px,#cfff00 527px)"></div>
<div class="hc" style="left:423px;width:3px;background:linear-gradient(#cdff00 0px,#dcff00 55px,#fdff00 109px,#ffff04 131px,#ffff3e 185px,#ffff6a 263px,#ffff4c 321px,#ffff2f 359px,#ffff03 399px,#f7ff00 433px,#d5ff00 489px,#cdff00 527px)"></div>
<div class="hc" style="left:426px;width:3px;background:linear-gradient(#cbff00 0px,#dcff00 57px,#fdff00 111px,#ffff04 133px,#ffff3d 187px,#ffff67 261px,#ffff5b 293px,#ffff2f 357px,#ffff01 399px,#f6ff00 433px,#d5ff00 487px,#cbff00 527px)"></div>
<div class="hc" style="left:429px;width:3px;background:linear-gradient(#c9ff00 0px,#dcff00 59px,#fdff00 113px,#ffff04 135px,#ffff3a 187px,#ffff64 261px,#ffff58 293px,#ffff2c 357px,#ffff01 397px,#f5ff00 433px,#d5ff00 485px,#c9ff00 527px)"></div>
<div class="hc" style="left:432px;width:3px;background:linear-gradient(#c7ff00 0px,#deff00 63px,#fdff00 115px,#ffff04 137px,#ffff38 187px,#ffff61 259px,#ffff59 287px,#ffff2c 355px,#ffff02 395px,#f4ff00 433px,#d5ff00 483px,#c7ff00 527px)"></div>
<div class="hc" style="left:435px;width:3px;background:linear-gradient(#c4ff00 0px,#deff00 65px,#fdff00 117px,#ffff04 139px,#ffff35 187px,#ffff5f 259px,#ffff57 287px,#ffff28 357px,#ffff01 395px,#f3ff00 433px,#d5ff00 483px,#c4ff00 527px)"></div>
<div class="hc" style="left:438px;width:3px;background:linear-gradient(#c1ff00 0px,#e0ff00 69px,#fdff00 119px,#ffff03 139px,#ffff34 189px,#ffff5c 259px,#ffff55 287px,#ffff26 357px,#ffff00 393px,#f2ff00 433px,#d4ff00 481px,#c1ff00 527px)"></div>
<div class="hc" style="left:441px;width:3px;background:linear-gradient(#beff00 0px,#dfff00 69px,#fdff00 121px,#ffff04 141px,#ffff32 189px,#ffff5a 259px,#ffff53 287px,#ffff23 357px,#ffff00 393px,#f0ff00 435px,#d3ff00 481px,#beff00 527px)"></div>
<div class="hc" style="left:444px;width:3px;background:linear-gradient(#bbff00 0px,#e1ff00 73px,#fdff00 125px,#ffff05 143px,#ffff31 191px,#ffff59 261px,#ffff4d 293px,#ffff1e 361px,#ffff00 393px,#edff00 437px,#d3ff00 481px,#bbff00 527px)"></div>
<div class="hc" style="left:447px;width:3px;background:linear-gradient(#b7ff00 0px,#fdff00 125px,#ffff04 143px,#ffff30 193px,#ffff57 261px,#ffff4a 293px,#ffff1c 361px,#ffff00 393px,#ecff00 437px,#b7ff00 527px)"></div>
<div class="hc" style="left:450px;width:3px;background:linear-gradient(#b3ff00 0px,#fcff00 123px,#ffff04 143px,#ffff31 197px,#ffff55 263px,#ffff3f 307px,#ffff15 367px,#ffff00 393px,#eaff00 439px,#b3ff00 527px)"></div>
<div class="hc" style="left:453px;width:3px;background:linear-gradient(#b0ff00 0px,#e5ff00 81px,#ffff00 133px,#ffff0c 153px,#ffff33 205px,#ffff54 263px,#ffff36 319px,#ffff0e 373px,#ffff00 393px,#e8ff00 441px,#bbff00 511px,#b0ff00 527px)"></div>
<div class="hc" style="left:456px;width:3px;background:linear-gradient(#acff00 0px,#d8ff00 61px,#ffff00 133px,#ffff0f 157px,#ffff40 229px,#ffff52 265px,#ffff16 363px,#ffff00 393px,#e5ff00 445px,#bcff00 507px,#acff00 527px)"></div>
<div class="hc" style="left:459px;width:3px;background:linear-gradient(#aaff00 0px,#d8ff00 61px,#ffff00 133px,#ffff11 161px,#ffff50 263px,#ffff17 359px,#ffff00 393px,#e2ff00 449px,#beff00 503px,#aaff00 527px)"></div>
<div class="hc" style="left:462px;width:3px;background:linear-gradient(#aaff00 0px,#daff00 65px,#ffff00 135px,#ffff4d 263px,#ffff1c 351px,#ffff00 393px,#deff00 455px,#c0ff00 499px,#aaff00 527px)"></div>
<div class="hc" style="left:465px;width:3px;background:linear-gradient(#aaff00 0px,#bfff00 29px,#daff00 65px,#ffff00 135px,#ffff4a 263px,#ffff30 313px,#ffff00 395px,#c8ff00 489px,#aaff00 525px,#aaff00 527px)"></div>
<div class="hc" style="left:468px;width:3px;background:linear-gradient(#aaff00 0px,#baff00 25px,#d8ff00 61px,#ffff01 135px,#ffff47 263px,#ffff34 303px,#ffff00 395px,#caff00 487px,#abff00 523px,#aaff00 527px)"></div>
<div class="hc" style="left:471px;width:3px;background:linear-gradient(#aaff00 0px,#b7ff00 23px,#d6ff00 59px,#f9ff00 119px,#ffff03 143px,#ffff45 263px,#ffff32 301px,#ffff00 395px,#cbff00 485px,#abff00 523px,#aaff00 527px)"></div>
<div class="hc" style="left:474px;width:3px;background:linear-gradient(#aaff00 0px,#b6ff00 23px,#d5ff00 57px,#f2ff00 111px,#ffff01 135px,#ffff37 239px,#ffff42 267px,#ffff01 393px,#efff00 421px,#cdff00 483px,#abff00 521px,#aaff00 527px)"></div>
<div class="hc" style="left:477px;width:3px;background:linear-gradient(#aaff00 0px,#b5ff00 23px,#d5ff00 57px,#eeff00 107px,#ffff00 133px,#ffff24 211px,#ffff3f 263px,#ffff30 297px,#ffff02 389px,#f9ff00 407px,#d9ff00 459px,#ceff00 481px,#acff00 517px,#aaff00 527px)"></div>
<div class="hc" style="left:480px;width:3px;background:linear-gradient(#aaff00 0px,#b4ff00 23px,#d5ff00 57px,#ecff00 105px,#ffff00 133px,#ffff20 209px,#ffff3d 263px,#ffff2d 297px,#ffff03 383px,#fcff00 403px,#dbff00 453px,#d0ff00 479px,#adff00 515px,#aaff00 527px)"></div>
<div class="hc" style="left:483px;width:3px;background:linear-gradient(#aaff00 0px,#b3ff00 23px,#d5ff00 57px,#e9ff00 103px,#ffff00 135px,#ffff1d 207px,#ffff3b 263px,#ffff2b 297px,#ffff05 375px,#fcff00 401px,#dbff00 449px,#cfff00 479px,#adff00 513px,#aaff00 527px)"></div>
<div class="hc" style="left:486px;width:3px;background:linear-gradient(#aaff00 0px,#b1ff00 23px,#d5ff00 59px,#e8ff00 103px,#ffff00 137px,#ffff1b 209px,#ffff39 263px,#ffff28 297px,#ffff06 369px,#fcff00 399px,#dbff00 447px,#d0ff00 477px,#adff00 511px,#aaff00 527px)"></div>
<div class="hc" style="left:489px;width:3px;background:linear-gradient(#aaff00 0px,#b2ff00 25px,#d5ff00 59px,#e5ff00 101px,#ffff00 139px,#ffff17 207px,#ffff38 263px,#ffff23 301px,#ffff05 369px,#fbff00 399px,#dbff00 445px,#d0ff00 475px,#adff00 509px,#aaff00 527px)"></div>
<div class="hc" style="left:492px;width:3px;background:linear-gradient(#a9ff00 0px,#b0ff00 25px,#d5ff00 61px,#e4ff00 103px,#ffff00 141px,#ffff14 205px,#ffff36 265px,#ffff0b 343px,#fcff00 395px,#dbff00 443px,#d0ff00 473px,#adff00 507px,#a9ff00 527px)"></div>
<div class="hc" style="left:495px;width:3px;background:linear-gradient(#a8ff00 0px,#b1ff00 29px,#d4ff00 63px,#e4ff00 105px,#ffff00 145px,#ffff12 207px,#ffff35 265px,#ffff0c 335px,#fcff00 391px,#daff00 441px,#d0ff00 471px,#afff00 503px,#a8ff00 527px)"></div>
<div class="hc" style="left:498px;width:3px;background:linear-gradient(#a6ff00 0px,#b3ff00 33px,#d5ff00 67px,#e3ff00 107px,#ffff00 149px,#ffff10 207px,#ffff33 265px,#ffff0c 329px,#feff00 383px,#d9ff00 441px,#cfff00 469px,#aeff00 501px,#a6ff00 527px)"></div>
<div class="hc" style="left:501px;width:3px;background:linear-gradient(#a4ff00 0px,#b5ff00 39px,#d4ff00 69px,#e2ff00 109px,#feff00 153px,#ffff0d 207px,#ffff31 265px,#ffff0b 327px,#fdff00 379px,#d8ff00 441px,#d0ff00 465px,#afff00 497px,#a4ff00 527px)"></div>
<div class="hc" style="left:504px;width:3px;background:linear-gradient(#a1ff00 0px,#b7ff00 45px,#d4ff00 73px,#e3ff00 115px,#feff00 157px,#ffff0b 207px,#ffff2d 265px,#ffff09 325px,#fcff00 375px,#d7ff00 439px,#ceff00 463px,#aeff00 495px,#a1ff00 527px)"></div>
<div class="hc" style="left:507px;width:3px;background:linear-gradient(#9dff00 0px,#b9ff00 51px,#d4ff00 79px,#e4ff00 121px,#fdff00 163px,#ffff0b 213px,#ffff2a 265px,#ffff07 323px,#fbff00 371px,#d7ff00 435px,#d0ff00 457px,#aeff00 491px,#9dff00 527px)"></div>
<div class="hc" style="left:510px;width:3px;background:linear-gradient(#98ff00 0px,#abff00 35px,#bfff00 61px,#d5ff00 83px,#e4ff00 125px,#feff00 171px,#ffff0a 217px,#ffff27 265px,#ffff07 319px,#faff00 367px,#d7ff00 431px,#cfff00 453px,#afff00 485px,#a2ff00 511px,#98ff00 527px)"></div>
<div class="hc" style="left:513px;width:3px;background:linear-gradient(#92ff00 0px,#a5ff00 25px,#b7ff00 59px,#d4ff00 87px,#e3ff00 129px,#feff00 177px,#ffff0a 223px,#ffff24 265px,#ffff06 315px,#faff00 361px,#d7ff00 425px,#d0ff00 447px,#afff00 479px,#a5ff00 503px,#92ff00 527px)"></div>
<div class="hc" style="left:516px;width:3px;background:linear-gradient(#8dff00 0px,#9cff00 21px,#aaff00 39px,#b7ff00 65px,#d4ff00 91px,#e2ff00 133px,#fdff00 183px,#ffff09 227px,#ffff21 265px,#ffff05 311px,#faff00 355px,#d7ff00 419px,#cfff00 443px,#afff00 473px,#a3ff00 501px,#8dff00 525px,#8dff00 527px)"></div>
<div class="hc" style="left:519px;width:3px;background:linear-gradient(#87ff00 0px,#96ff00 21px,#aaff00 45px,#b3ff00 67px,#d2ff00 95px,#e2ff00 139px,#fdff00 189px,#ffff08 231px,#ffff1f 265px,#ffff04 305px,#f9ff00 351px,#d6ff00 415px,#ceff00 439px,#aeff00 467px,#a1ff00 497px,#88ff00 523px,#87ff00 527px)"></div>
<div class="hc" style="left:522px;width:3px;background:linear-gradient(#83ff00 0px,#90ff00 21px,#a9ff00 51px,#b3ff00 73px,#d1ff00 101px,#e2ff00 145px,#fdff00 193px,#ffff07 235px,#ffff1d 265px,#ffff04 299px,#faff00 345px,#d6ff00 409px,#cdff00 433px,#adff00 463px,#a2ff00 489px,#83ff00 523px,#83ff00 527px)"></div>
<div class="hc" style="left:525px;width:3px;background:linear-gradient(#80ff00 0px,#8cff00 23px,#a8ff00 57px,#b3ff00 79px,#d2ff00 109px,#e1ff00 149px,#fdff00 197px,#ffff06 239px,#ffff1a 265px,#ffff03 295px,#f9ff00 341px,#d5ff00 405px,#cbff00 427px,#abff00 459px,#a0ff00 485px,#81ff00 521px,#80ff00 527px)"></div>
<div class="hc" style="left:528px;width:3px;background:linear-gradient(#7eff00 0px,#89ff00 27px,#a9ff00 65px,#b3ff00 85px,#d3ff00 117px,#e2ff00 155px,#fcff00 201px,#ffff05 243px,#ffff16 265px,#ffff03 289px,#f9ff00 337px,#d5ff00 399px,#cdff00 419px,#abff00 453px,#9fff00 479px,#80ff00 515px,#7eff00 527px)"></div>
<div class="hc" style="left:531px;width:3px;background:linear-gradient(#77ff00 0px,#8eff00 39px,#a9ff00 73px,#b4ff00 93px,#d3ff00 123px,#e0ff00 157px,#fbff00 203px,#ffff04 249px,#ffff0e 265px,#ffff01 291px,#f7ff00 337px,#d5ff00 393px,#cdff00 413px,#abff00 447px,#9cff00 475px,#81ff00 507px,#77ff00 527px)"></div>
<div class="hc" style="left:534px;width:3px;background:linear-gradient(#6eff00 0px,#80ff00 25px,#95ff00 53px,#aaff00 83px,#b6ff00 101px,#d2ff00 127px,#e1ff00 163px,#fbff00 205px,#ffff04 257px,#faff00 325px,#d5ff00 389px,#ccff00 409px,#acff00 439px,#9eff00 465px,#80ff00 501px,#75ff00 519px,#6eff00 527px)"></div>
<div class="hc" style="left:537px;width:3px;background:linear-gradient(#64ff00 0px,#7fff00 29px,#8dff00 51px,#a9ff00 85px,#b3ff00 103px,#d2ff00 131px,#dfff00 165px,#f9ff00 205px,#ffff00 273px,#f8ff00 327px,#d6ff00 381px,#cbff00 405px,#acff00 433px,#a0ff00 457px,#81ff00 493px,#78ff00 509px,#64ff00 527px)"></div>
<div class="hc" style="left:540px;width:3px;background:linear-gradient(#5bff00 0px,#70ff00 19px,#80ff00 39px,#9aff00 71px,#aaff00 95px,#b5ff00 109px,#d1ff00 135px,#deff00 167px,#f9ff00 207px,#ffff00 269px,#f8ff00 323px,#d5ff00 377px,#cbff00 401px,#abff00 429px,#a0ff00 451px,#80ff00 487px,#76ff00 505px,#5bff00 525px,#5bff00 527px)"></div>
<div class="hc" style="left:543px;width:3px;background:linear-gradient(#55ff00 0px,#60ff00 13px,#7fff00 41px,#8eff00 65px,#a9ff00 95px,#b3ff00 111px,#d1ff00 139px,#dbff00 167px,#f8ff00 209px,#feff00 269px,#f7ff00 321px,#d5ff00 375px,#cbff00 397px,#aaff00 427px,#9dff00 449px,#81ff00 479px,#77ff00 497px,#55ff00 525px,#55ff00 527px)"></div>
<div class="hc" style="left:546px;width:3px;background:linear-gradient(#53ff00 0px,#60ff00 19px,#7eff00 45px,#8dff00 69px,#a9ff00 99px,#b3ff00 115px,#d1ff00 143px,#ddff00 171px,#f8ff00 211px,#feff00 271px,#f6ff00 321px,#d5ff00 371px,#c9ff00 395px,#abff00 423px,#9cff00 445px,#82ff00 473px,#77ff00 491px,#56ff00 519px,#53ff00 527px)"></div>
<div class="hc" style="left:549px;width:3px;background:linear-gradient(#4fff00 0px,#61ff00 27px,#7dff00 51px,#8cff00 73px,#aaff00 103px,#b4ff00 119px,#d1ff00 147px,#ddff00 173px,#f8ff00 213px,#feff00 273px,#f5ff00 321px,#d4ff00 371px,#c5ff00 395px,#abff00 419px,#9eff00 439px,#81ff00 469px,#6fff00 491px,#57ff00 513px,#4fff00 527px)"></div>
<div class="hc" style="left:552px;width:3px;background:linear-gradient(#48ff00 0px,#62ff00 33px,#7fff00 59px,#8bff00 77px,#a9ff00 105px,#b3ff00 121px,#d1ff00 151px,#dfff00 177px,#f8ff00 217px,#feff00 281px,#f2ff00 325px,#d5ff00 367px,#c6ff00 391px,#abff00 417px,#9eff00 435px,#81ff00 463px,#76ff00 479px,#56ff00 507px,#48ff00 527px)"></div>
<div class="hc" style="left:555px;width:3px;background:linear-gradient(#3eff00 0px,#55ff00 23px,#62ff00 39px,#7fff00 63px,#8eff00 83px,#aaff00 109px,#b4ff00 125px,#d2ff00 155px,#dfff00 179px,#f9ff00 219px,#feff00 283px,#f1ff00 325px,#d5ff00 367px,#c0ff00 393px,#aaff00 415px,#9dff00 433px,#81ff00 459px,#76ff00 475px,#56ff00 501px,#4fff00 513px,#3eff00 527px)"></div>
<div class="hc" style="left:558px;width:3px;background:linear-gradient(#35ff00 0px,#4aff00 17px,#57ff00 33px,#6cff00 51px,#80ff00 69px,#8cff00 85px,#a9ff00 111px,#b4ff00 127px,#d2ff00 157px,#e0ff00 181px,#faff00 223px,#fdff00 289px,#eeff00 329px,#d5ff00 365px,#c2ff00 389px,#aaff00 413px,#9cff00 431px,#82ff00 453px,#75ff00 471px,#58ff00 493px,#4dff00 509px,#36ff00 525px,#35ff00 527px)"></div>
<div class="hc" style="left:561px;width:3px;background:linear-gradient(#2dff00 0px,#41ff00 17px,#55ff00 33px,#60ff00 47px,#7eff00 69px,#88ff00 85px,#a9ff00 113px,#b3ff00 129px,#d3ff00 159px,#e2ff00 185px,#fbff00 227px,#fcff00 293px,#eaff00 333px,#d4ff00 365px,#bdff00 391px,#aaff00 411px,#9bff00 429px,#81ff00 451px,#75ff00 467px,#57ff00 489px,#4bff00 505px,#2eff00 525px,#2dff00 527px)"></div>
<div class="hc" style="left:564px;width:3px;background:linear-gradient(#2aff00 0px,#35ff00 15px,#55ff00 37px,#5aff00 47px,#7fff00 75px,#8aff00 89px,#a9ff00 115px,#b3ff00 131px,#d3ff00 161px,#faff00 227px,#fcff00 293px,#e9ff00 333px,#c4ff00 383px,#abff00 407px,#9fff00 423px,#80ff00 449px,#75ff00 463px,#56ff00 485px,#4fff00 497px,#2dff00 521px,#2aff00 527px)"></div>
<div class="hc" style="left:567px;width:3px;background:linear-gradient(#29ff00 0px,#31ff00 17px,#52ff00 39px,#61ff00 55px,#80ff00 79px,#94ff00 99px,#aaff00 119px,#b6ff00 135px,#d3ff00 163px,#fbff00 227px,#fdff00 293px,#e9ff00 333px,#c5ff00 381px,#abff00 405px,#a1ff00 419px,#80ff00 447px,#72ff00 461px,#55ff00 483px,#48ff00 497px,#2dff00 515px,#29ff00 527px)"></div>
<div class="hc" style="left:570px;width:3px;background:linear-gradient(#25ff00 0px,#30ff00 21px,#4fff00 41px,#66ff00 63px,#7fff00 81px,#93ff00 101px,#aaff00 121px,#b7ff00 137px,#d4ff00 165px,#fbff00 227px,#fdff00 293px,#eaff00 331px,#c6ff00 379px,#abff00 403px,#a1ff00 417px,#82ff00 443px,#70ff00 459px,#56ff00 479px,#41ff00 497px,#2bff00 511px,#25ff00 527px)"></div>
<div class="hc" style="left:573px;width:3px;background:linear-gradient(#20ff00 0px,#2fff00 25px,#50ff00 47px,#64ff00 65px,#7eff00 83px,#90ff00 101px,#a9ff00 121px,#b5ff00 137px,#d3ff00 165px,#fcff00 229px,#fcff00 297px,#e3ff00 339px,#c7ff00 377px,#aaff00 403px,#9fff00 417px,#82ff00 439px,#72ff00 455px,#57ff00 473px,#3eff00 495px,#2cff00 507px,#20ff00 527px)"></div>
<div class="hc" style="left:576px;width:3px;background:linear-gradient(#1aff00 0px,#31ff00 29px,#55ff00 55px,#62ff00 67px,#80ff00 87px,#8cff00 101px,#a9ff00 123px,#b6ff00 139px,#d4ff00 167px,#fcff00 229px,#fcff00 299px,#dcff00 347px,#c5ff00 377px,#aaff00 401px,#9fff00 415px,#81ff00 437px,#77ff00 449px,#56ff00 471px,#47ff00 485px,#2bff00 505px,#1aff00 527px)"></div>
<div class="hc" style="left:579px;width:3px;background:linear-gradient(#12ff00 0px,#35ff00 35px,#55ff00 57px,#61ff00 69px,#80ff00 89px,#8cff00 103px,#aaff00 125px,#bdff00 145px,#d5ff00 169px,#fdff00 229px,#fcff00 301px,#c7ff00 375px,#aaff00 401px,#96ff00 419px,#80ff00 437px,#73ff00 449px,#56ff00 467px,#4fff00 477px,#28ff00 503px,#12ff00 527px)"></div>
<div class="hc" style="left:582px;width:3px;background:linear-gradient(#0aff00 0px,#3cff00 43px,#55ff00 59px,#63ff00 73px,#7fff00 91px,#90ff00 107px,#aaff00 127px,#d5ff00 169px,#fdff00 229px,#fcff00 303px,#c8ff00 373px,#aaff00 401px,#80ff00 435px,#72ff00 447px,#56ff00 465px,#4aff00 477px,#29ff00 499px,#0aff00 527px)"></div>
<div class="hc" style="left:585px;width:3px;background:linear-gradient(#03ff00 0px,#3dff00 47px,#54ff00 61px,#63ff00 75px,#7fff00 93px,#90ff00 109px,#aaff00 129px,#d5ff00 169px,#feff00 229px,#fcff00 305px,#caff00 371px,#aaff00 399px,#80ff00 433px,#6eff00 447px,#56ff00 463px,#49ff00 475px,#2cff00 493px,#03ff00 527px)"></div>
<div class="hc" style="left:588px;width:3px;background:linear-gradient(#00ff00 0px,#0cff00 15px,#2bff00 35px,#3bff00 49px,#55ff00 65px,#62ff00 77px,#7fff00 95px,#90ff00 111px,#abff00 131px,#d4ff00 167px,#f0ff00 207px,#ffff00 231px,#fcff00 305px,#d5ff00 359px,#c2ff00 377px,#97ff00 413px,#80ff00 431px,#69ff00 447px,#56ff00 461px,#4eff00 469px,#2dff00 489px,#23ff00 499px,#03ff00 521px,#00ff00 527px)"></div>
<div class="hc" style="left:591px;width:3px;background:linear-gradient(#00fe01 0px,#05ff00 13px,#29ff00 37px,#39ff00 51px,#55ff00 67px,#65ff00 81px,#80ff00 97px,#91ff00 113px,#acff00 133px,#d5ff00 167px,#e9ff00 199px,#feff00 227px,#fcff00 307px,#d6ff00 357px,#c9ff00 371px,#aaff00 397px,#80ff00 429px,#70ff00 441px,#57ff00 457px,#4dff00 467px,#2eff00 485px,#1dff00 499px,#01ff00 519px,#00fe01 527px)"></div>
<div class="hc" style="left:594px;width:3px;background:linear-gradient(#00fa05 0px,#05ff00 17px,#2bff00 41px,#37ff00 53px,#54ff00 69px,#64ff00 83px,#80ff00 99px,#91ff00 115px,#acff00 133px,#c2ff00 153px,#d5ff00 169px,#e9ff00 199px,#ffff00 227px,#fdff00 307px,#d7ff00 353px,#ceff00 367px,#afff00 391px,#9cff00 407px,#82ff00 425px,#78ff00 435px,#58ff00 453px,#4cff00 465px,#2cff00 483px,#1fff00 495px,#05ff00 511px,#00fa05 527px)"></div>
<div class="hc" style="left:597px;width:3px;background:linear-gradient(#00f40b 0px,#01ff00 15px,#0dff00 27px,#2aff00 43px,#35ff00 55px,#55ff00 71px,#60ff00 83px,#80ff00 99px,#8bff00 113px,#acff00 133px,#bdff00 151px,#d5ff00 167px,#e4ff00 195px,#ffff00 225px,#fdff00 307px,#d8ff00 351px,#d1ff00 365px,#afff00 389px,#a5ff00 401px,#84ff00 421px,#7dff00 431px,#57ff00 451px,#52ff00 459px,#2fff00 477px,#24ff00 489px,#04ff00 507px,#00fa05 521px,#00f40b 527px)"></div>
<div class="hc" style="left:600px;width:3px;background:linear-gradient(#00eb14 0px,#00ff00 17px,#09ff00 29px,#2bff00 47px,#32ff00 57px,#54ff00 73px,#5fff00 85px,#7fff00 101px,#8bff00 115px,#a9ff00 131px,#b5ff00 147px,#d5ff00 167px,#e2ff00 193px,#ffff00 225px,#fdff00 307px,#d8ff00 349px,#d0ff00 365px,#afff00 387px,#a7ff00 399px,#84ff00 419px,#79ff00 431px,#59ff00 447px,#51ff00 457px,#2fff00 473px,#26ff00 485px,#04ff00 503px,#00fb04 515px,#00eb14 527px)"></div>
<div class="hc" style="left:603px;width:3px;background:linear-gradient(#00df20 0px,#00fd02 19px,#06ff00 31px,#28ff00 49px,#32ff00 61px,#55ff00 77px,#61ff00 89px,#80ff00 103px,#88ff00 115px,#aaff00 133px,#b3ff00 147px,#d4ff00 167px,#dfff00 191px,#ffff00 225px,#fdff00 307px,#d7ff00 349px,#cfff00 365px,#aeff00 385px,#a4ff00 399px,#83ff00 417px,#7dff00 427px,#5bff00 443px,#4fff00 455px,#2fff00 469px,#23ff00 483px,#03ff00 499px,#00fc03 511px,#00df20 527px)"></div>
<div class="hc" style="left:606px;width:3px;background:linear-gradient(#00d22d 0px,#00f807 19px,#03ff00 33px,#29ff00 55px,#32ff00 65px,#53ff00 79px,#5fff00 91px,#7fff00 105px,#88ff00 117px,#aaff00 135px,#b3ff00 149px,#d4ff00 169px,#deff00 191px,#feff00 225px,#fcff00 307px,#d6ff00 349px,#d0ff00 363px,#acff00 385px,#a5ff00 397px,#83ff00 415px,#7cff00 425px,#59ff00 441px,#4cff00 453px,#2fff00 465px,#21ff00 479px,#01ff00 497px,#00f807 509px,#00d22d 527px)"></div>
<div class="hc" style="left:609px;width:3px;background:linear-gradient(#00c739 0px,#00f50a 21px,#01ff00 35px,#18ff00 49px,#29ff00 59px,#2fff00 67px,#50ff00 81px,#5dff00 93px,#7eff00 107px,#88ff00 119px,#a7ff00 135px,#b1ff00 149px,#d3ff00 169px,#ddff00 191px,#fdff00 223px,#fdff00 305px,#d5ff00 349px,#ceff00 363px,#acff00 383px,#a5ff00 395px,#82ff00 413px,#7bff00 423px,#59ff00 437px,#4dff00 449px,#2cff00 463px,#20ff00 475px,#02ff00 491px,#00f807 505px,#00e01f 517px,#00c739 527px)"></div>
<div class="hc" style="left:612px;width:3px;background:linear-gradient(#00c23e 0px,#00f20d 23px,#01ff00 41px,#14ff00 51px,#28ff00 61px,#31ff00 71px,#52ff00 85px,#5bff00 95px,#7dff00 109px,#88ff00 121px,#a7ff00 137px,#b2ff00 151px,#d3ff00 171px,#ddff00 191px,#fcff00 223px,#fcff00 305px,#d5ff00 347px,#cfff00 361px,#abff00 383px,#a2ff00 395px,#82ff00 411px,#7aff00 421px,#58ff00 435px,#4fff00 445px,#2bff00 461px,#22ff00 471px,#06ff00 483px,#00fc03 495px,#00e818 511px,#00c23e 527px)"></div>
<div class="hc" style="left:615px;width:3px;background:linear-gradient(#00bd42 0px,#00d22d 11px,#00ed12 25px,#00ef10 37px,#00ef10 39px,#00fa05 41px,#02ff00 47px,#25ff00 61px,#30ff00 73px,#52ff00 87px,#5bff00 97px,#7aff00 109px,#89ff00 123px,#a7ff00 139px,#b0ff00 151px,#d1ff00 171px,#dcff00 191px,#fbff00 221px,#ffff00 297px,#f1ff00 319px,#d5ff00 347px,#cdff00 361px,#abff00 381px,#a2ff00 393px,#80ff00 411px,#76ff00 421px,#57ff00 433px,#4eff00 443px,#2cff00 457px,#22ff00 469px,#00ff00 483px,#00fa05 487px,#00ef10 489px,#00ef10 501px,#00dc23 513px,#00bf40 525px,#00bd42 527px)"></div>
<div class="hc" style="left:618px;width:3px;background:linear-gradient(#00b946 0px,#00cd33 11px,#00e31c 23px,#00e619 33px,#00df20 39px,#00e21d 41px,#00f906 45px,#04ff00 49px,#22ff00 61px,#32ff00 75px,#51ff00 89px,#59ff00 97px,#7dff00 113px,#87ff00 123px,#a7ff00 141px,#b3ff00 153px,#d2ff00 173px,#dcff00 191px,#fbff00 221px,#feff00 299px,#efff00 321px,#d5ff00 347px,#cbff00 361px,#aaff00 381px,#9fff00 393px,#80ff00 409px,#76ff00 419px,#55ff00 433px,#4aff00 443px,#2bff00 457px,#1eff00 469px,#00ff00 481px,#00ee12 485px,#00e21d 487px,#00e11e 491px,#00e719 501px,#00d629 513px,#00bb44 525px,#00b946 527px)"></div>
<div class="hc" style="left:621px;width:3px;background:linear-gradient(#00b44b 0px,#00da25 21px,#00df21 33px,#00df20 41px,#00e31c 43px,#00ff00 49px,#1fff00 61px,#38ff00 79px,#53ff00 93px,#72ff00 109px,#95ff00 131px,#aaff00 145px,#bcff00 159px,#d3ff00 175px,#dfff00 193px,#fcff00 221px,#feff00 303px,#e6ff00 329px,#d5ff00 347px,#caff00 361px,#abff00 381px,#9dff00 393px,#80ff00 409px,#6eff00 421px,#53ff00 435px,#2bff00 457px,#1bff00 469px,#00ff00 479px,#00e31c 485px,#00de22 493px,#00dd23 505px,#00c837 517px,#00b44b 527px)"></div>
<div class="hc" style="left:624px;width:3px;background:linear-gradient(#00af51 0px,#00d22d 19px,#00df20 43px,#00ff00 49px,#20ff00 63px,#39ff00 81px,#58ff00 97px,#80ff00 119px,#acff00 147px,#d4ff00 177px,#dfff00 193px,#fcff00 221px,#ffff07 257px,#ffff03 281px,#fbff00 309px,#d5ff00 347px,#ccff00 359px,#acff00 381px,#96ff00 395px,#6bff00 421px,#3eff00 445px,#2bff00 457px,#0cff00 475px,#00ff00 479px,#00df20 485px,#00d22d 509px,#00ba45 521px,#00af51 527px)"></div>
<div class="hc" style="left:627px;width:3px;background:linear-gradient(#00aa56 0px,#00cb35 17px,#00db24 41px,#00e916 45px,#00ff00 49px,#2bff00 71px,#35ff00 81px,#55ff00 95px,#67ff00 107px,#80ff00 119px,#94ff00 133px,#acff00 147px,#c1ff00 163px,#d5ff00 177px,#e0ff00 193px,#fdff00 221px,#ffff05 241px,#ffff10 267px,#ffff00 301px,#efff00 323px,#d5ff00 347px,#cbff00 359px,#adff00 379px,#9cff00 391px,#82ff00 407px,#6cff00 419px,#57ff00 431px,#43ff00 441px,#2dff00 453px,#21ff00 463px,#00ff00 479px,#00df20 485px,#00d62a 495px,#00c837 513px,#00aa56 527px)"></div>
<div class="hc" style="left:630px;width:3px;background:linear-gradient(#00a759 0px,#00c63a 17px,#00db25 41px,#00e817 45px,#00ff00 49px,#2bff00 73px,#35ff00 83px,#55ff00 95px,#5fff00 105px,#80ff00 119px,#8dff00 131px,#aaff00 145px,#b8ff00 159px,#d4ff00 177px,#e1ff00 193px,#fcff00 219px,#ffff05 235px,#ffff1a 259px,#ffff14 279px,#ffff00 301px,#f0ff00 323px,#d5ff00 347px,#caff00 359px,#aeff00 377px,#a3ff00 387px,#84ff00 403px,#7dff00 411px,#5bff00 425px,#51ff00 435px,#31ff00 447px,#26ff00 459px,#00ff00 479px,#00df20 485px,#00d22d 495px,#00c03f 515px,#00a759 527px)"></div>
<div class="hc" style="left:633px;width:3px;background:linear-gradient(#00a45c 0px,#00c53b 21px,#00db24 41px,#00e41b 45px,#00fd02 49px,#07ff00 57px,#28ff00 73px,#31ff00 83px,#55ff00 97px,#5fff00 107px,#7fff00 119px,#8aff00 131px,#a9ff00 145px,#b7ff00 159px,#d3ff00 177px,#e2ff00 193px,#fcff00 217px,#ffff05 231px,#ffff23 253px,#ffff25 271px,#ffff12 289px,#ffff00 303px,#efff00 325px,#d5ff00 347px,#c9ff00 359px,#acff00 377px,#a5ff00 385px,#84ff00 401px,#7bff00 411px,#5bff00 423px,#52ff00 433px,#2eff00 447px,#22ff00 459px,#01ff00 475px,#00fd02 479px,#00e41b 483px,#00d030 495px,#00ba45 515px,#00a45c 527px)"></div>
<div class="hc" style="left:636px;width:3px;background:linear-gradient(#00a060 0px,#00c43b 25px,#00dc24 45px,#00ff00 53px,#0bff00 61px,#29ff00 77px,#30ff00 85px,#54ff00 99px,#5aff00 107px,#7fff00 121px,#86ff00 131px,#aaff00 147px,#b2ff00 157px,#d3ff00 177px,#e3ff00 193px,#fcff00 215px,#ffff02 227px,#ffff2c 249px,#ffff34 267px,#ffff27 283px,#ffff00 303px,#f1ff00 325px,#d5ff00 347px,#c8ff00 359px,#acff00 375px,#a3ff00 385px,#83ff00 399px,#7cff00 409px,#57ff00 423px,#51ff00 431px,#2dff00 445px,#23ff00 455px,#00ff00 473px,#00ff00 475px,#00dc24 483px,#00b14f 517px,#00a060 527px)"></div>
<div class="hc" style="left:639px;width:3px;background:linear-gradient(#009b65 0px,#00c33d 27px,#00df20 51px,#00fb04 55px,#09ff00 63px,#2aff00 81px,#34ff00 89px,#53ff00 101px,#5aff00 109px,#7eff00 123px,#86ff00 133px,#a8ff00 147px,#b0ff00 157px,#d0ff00 175px,#e2ff00 191px,#faff00 211px,#ffff01 225px,#ffff35 245px,#ffff42 259px,#ffff3d 277px,#ffff28 289px,#ffff01 303px,#f5ff00 323px,#d3ff00 349px,#c1ff00 363px,#abff00 375px,#a5ff00 383px,#83ff00 397px,#7bff00 407px,#57ff00 421px,#50ff00 429px,#2cff00 443px,#25ff00 451px,#09ff00 465px,#00fb04 473px,#00df20 477px,#00af50 515px,#009b65 527px)"></div>
<div class="hc" style="left:642px;width:3px;background:linear-gradient(#009769 0px,#00bf40 27px,#00e31c 55px,#00f00f 57px,#01ff00 61px,#0aff00 69px,#2aff00 83px,#32ff00 91px,#52ff00 103px,#60ff00 113px,#7dff00 125px,#84ff00 133px,#a6ff00 147px,#b4ff00 159px,#d1ff00 175px,#e0ff00 189px,#f9ff00 207px,#ffff00 223px,#ffff22 233px,#ffff44 245px,#ffff52 259px,#ffff4d 277px,#ffff36 289px,#ffff00 305px,#f5ff00 325px,#d3ff00 349px,#c5ff00 361px,#aaff00 375px,#9eff00 385px,#80ff00 397px,#76ff00 407px,#57ff00 419px,#4aff00 429px,#2bff00 441px,#23ff00 449px,#04ff00 463px,#01ff00 467px,#00f00f 471px,#00e31c 473px,#00a858 517px,#009769 527px)"></div>
<div class="hc" style="left:645px;width:3px;background:linear-gradient(#00966a 0px,#00bf41 29px,#00df21 55px,#00df20 59px,#00fb04 63px,#03ff00 69px,#27ff00 83px,#32ff00 93px,#52ff00 105px,#5bff00 113px,#7aff00 125px,#88ff00 135px,#a4ff00 147px,#b4ff00 159px,#d2ff00 175px,#dbff00 185px,#faff00 205px,#ffff01 221px,#ffff15 227px,#ffff46 239px,#ffff5c 249px,#ffff62 267px,#ffff59 281px,#ffff40 291px,#ffff05 305px,#ffff00 313px,#f3ff00 329px,#d4ff00 349px,#c6ff00 361px,#aaff00 375px,#9dff00 385px,#80ff00 397px,#72ff00 407px,#57ff00 417px,#4aff00 427px,#2dff00 437px,#23ff00 447px,#03ff00 459px,#00fb04 465px,#00df20 469px,#00d827 479px,#00a35d 519px,#00966a 527px)"></div>
<div class="hc" style="left:648px;width:3px;background:linear-gradient(#009b65 0px,#00de21 59px,#00e31c 63px,#00f40b 65px,#00ff00 69px,#14ff00 77px,#27ff00 85px,#2fff00 93px,#4fff00 105px,#5eff00 115px,#7bff00 127px,#8dff00 137px,#a7ff00 149px,#b6ff00 159px,#d1ff00 173px,#ddff00 185px,#faff00 203px,#ffff02 217px,#ffff11 223px,#ffff52 237px,#ffff6b 247px,#ffff73 261px,#ffff6d 279px,#ffff59 289px,#ffff2f 299px,#ffff0a 307px,#ffff00 313px,#f6ff00 329px,#d5ff00 349px,#cbff00 359px,#aaff00 375px,#9cff00 385px,#80ff00 397px,#6fff00 407px,#55ff00 417px,#46ff00 427px,#2bff00 437px,#1fff00 447px,#02ff00 457px,#00fb04 461px,#00f40b 463px,#00e31c 465px,#009b65 527px)"></div>
<div class="hc" style="left:651px;width:3px;background:linear-gradient(#00a25e 0px,#00c040 33px,#00df20 63px,#00f807 67px,#00ff00 69px,#04ff00 73px,#26ff00 85px,#2eff00 93px,#4eff00 105px,#5eff00 115px,#7bff00 127px,#8dff00 137px,#a8ff00 149px,#b8ff00 159px,#d3ff00 173px,#dcff00 183px,#fbff00 201px,#ffff01 213px,#ffff19 221px,#ffff5f 235px,#ffff7a 245px,#ffff83 257px,#ffff7f 279px,#ffff6d 289px,#ffff4e 297px,#ffff11 309px,#ffff01 315px,#f7ff00 331px,#d6ff00 349px,#caff00 361px,#aaff00 377px,#93ff00 389px,#7dff00 399px,#69ff00 409px,#55ff00 417px,#45ff00 427px,#2bff00 437px,#1dff00 447px,#00ff00 457px,#00ff00 459px,#00ec13 463px,#00df20 465px,#00a45c 523px,#00a25e 527px)"></div>
<div class="hc" style="left:654px;width:3px;background:linear-gradient(#00a957 0px,#00b848 27px,#00df20 63px,#00f906 67px,#00ff00 71px,#26ff00 85px,#2fff00 93px,#4eff00 105px,#5eff00 115px,#7cff00 127px,#89ff00 135px,#a7ff00 147px,#b5ff00 157px,#d2ff00 171px,#dbff00 181px,#fcff00 199px,#ffff03 209px,#ffff11 215px,#ffff44 225px,#ffff75 235px,#ffff8c 245px,#ffff93 257px,#ffff90 279px,#ffff81 289px,#ffff64 297px,#ffff19 311px,#ffff06 317px,#feff00 327px,#e8ff00 341px,#d6ff00 351px,#ccff00 361px,#aaff00 377px,#9aff00 387px,#80ff00 397px,#6fff00 407px,#55ff00 417px,#46ff00 427px,#2bff00 437px,#23ff00 445px,#00ff00 457px,#00f906 461px,#00df20 465px,#00af50 511px,#00a957 527px)"></div>
<div class="hc" style="left:657px;width:3px;background:linear-gradient(#00b050 0px,#00b44b 23px,#00c838 41px,#00d32d 51px,#00dc23 57px,#00e41b 63px,#00f609 65px,#00ff00 67px,#09ff00 73px,#26ff00 83px,#31ff00 93px,#51ff00 105px,#59ff00 113px,#7bff00 125px,#85ff00 133px,#a6ff00 145px,#b3ff00 155px,#d2ff00 169px,#dfff00 181px,#fdff00 197px,#ffff03 205px,#ffff17 213px,#ffff42 221px,#ffff7b 231px,#ffff93 239px,#ffffa3 255px,#ffffa0 277px,#ffff8f 291px,#ffff72 299px,#ffff20 313px,#ffff0a 319px,#ffff00 327px,#f0ff00 339px,#d6ff00 353px,#cbff00 363px,#acff00 377px,#a2ff00 385px,#80ff00 397px,#77ff00 405px,#55ff00 417px,#49ff00 427px,#2dff00 437px,#21ff00 447px,#01ff00 459px,#00ff00 461px,#00f609 463px,#00e41b 465px,#00c937 485px,#00b947 501px,#00af51 519px,#00b050 527px)"></div>
<div class="hc" style="left:660px;width:3px;background:linear-gradient(#00b64a 0px,#00b34d 19px,#00ca35 41px,#00d030 49px,#00df21 55px,#00df20 57px,#00fc03 63px,#06ff00 69px,#29ff00 83px,#30ff00 91px,#51ff00 103px,#5cff00 113px,#7dff00 125px,#88ff00 133px,#a5ff00 143px,#b6ff00 155px,#d1ff00 167px,#deff00 179px,#fbff00 193px,#ffff04 203px,#ffff1b 211px,#ffff49 219px,#ffff7e 227px,#ffff97 233px,#ffffa4 241px,#ffffa9 251px,#ffffb3 261px,#ffffae 275px,#ffffa8 281px,#ffff9c 293px,#ffff88 299px,#ffff57 307px,#ffff25 315px,#ffff08 323px,#ffff00 331px,#f0ff00 341px,#d7ff00 353px,#caff00 365px,#abff00 379px,#a1ff00 387px,#83ff00 397px,#75ff00 407px,#57ff00 417px,#4dff00 427px,#2cff00 439px,#21ff00 449px,#02ff00 461px,#00fc03 465px,#00df20 471px,#00da25 475px,#00cb34 483px,#00c43b 495px,#00b24d 511px,#00b64a 527px)"></div>
<div class="hc" style="left:663px;width:3px;background:linear-gradient(#00bb44 0px,#00b34d 17px,#00c53a 31px,#00d030 41px,#00d22e 47px,#00d927 51px,#00e31c 53px,#00e718 55px,#00ff00 59px,#0eff00 69px,#27ff00 79px,#30ff00 89px,#52ff00 101px,#5bff00 111px,#7dff00 123px,#86ff00 131px,#a8ff00 143px,#b3ff00 153px,#d4ff00 167px,#ddff00 177px,#feff00 193px,#ffff08 203px,#ffff1c 209px,#ffff4c 217px,#ffff93 227px,#ffffa6 233px,#ffffb3 251px,#ffffc4 261px,#ffffbf 271px,#ffffaf 281px,#ffffa6 295px,#ffff93 301px,#ffff31 315px,#ffff14 321px,#ffff05 327px,#fcff00 337px,#d7ff00 355px,#cdff00 365px,#acff00 379px,#a4ff00 387px,#82ff00 399px,#79ff00 407px,#57ff00 419px,#4dff00 429px,#2dff00 441px,#24ff00 451px,#07ff00 463px,#00ff00 469px,#00e718 473px,#00e31c 475px,#00d927 477px,#00d030 485px,#00c937 495px,#00b44c 509px,#00b749 521px,#00bb44 527px)"></div>
<div class="hc" style="left:666px;width:3px;background:linear-gradient(#00bf41 0px,#00b24d 15px,#00bc44 25px,#00d728 39px,#00dd22 47px,#00f708 51px,#02ff00 57px,#12ff00 67px,#2aff00 77px,#30ff00 87px,#55ff00 101px,#5aff00 109px,#7dff00 121px,#89ff00 131px,#a8ff00 141px,#b5ff00 153px,#d3ff00 165px,#deff00 177px,#ffff00 191px,#ffff0c 203px,#ffff22 209px,#ffff48 215px,#ffff97 225px,#ffffa8 229px,#ffffb3 247px,#ffffd3 261px,#ffffd1 269px,#ffffb3 281px,#ffffa8 299px,#ffff97 303px,#ffff3a 315px,#ffff19 321px,#ffff09 327px,#fbff00 339px,#dbff00 353px,#cfff00 365px,#aeff00 379px,#a3ff00 389px,#85ff00 399px,#78ff00 409px,#5aff00 419px,#52ff00 429px,#2dff00 443px,#27ff00 453px,#03ff00 469px,#00fb04 475px,#00f708 477px,#00dd22 481px,#00d12e 493px,#00b44c 509px,#00b64a 519px,#00bf41 527px)"></div>
<div class="hc" style="left:669px;width:3px;background:linear-gradient(#00bf41 0px,#00b050 15px,#00bc44 25px,#00de22 39px,#00e01f 43px,#00ff00 47px,#0aff00 61px,#2bff00 75px,#2fff00 85px,#54ff00 99px,#5cff00 109px,#80ff00 121px,#86ff00 129px,#aaff00 141px,#b2ff00 151px,#d5ff00 165px,#dfff00 177px,#ffff00 191px,#ffff0e 203px,#ffff26 209px,#ffff4e 215px,#ffffa0 225px,#ffffaa 227px,#ffffaf 243px,#ffffbf 251px,#ffffdb 259px,#ffffdb 269px,#ffffb5 281px,#ffffab 293px,#ffffaa 301px,#ffff92 305px,#ffff3f 315px,#ffff1c 321px,#ffff0a 327px,#fcff00 339px,#dbff00 353px,#d1ff00 365px,#b2ff00 377px,#a5ff00 389px,#86ff00 399px,#7bff00 409px,#5cff00 419px,#52ff00 431px,#2fff00 443px,#28ff00 455px,#07ff00 469px,#00ff00 481px,#00e01f 485px,#00d62a 493px,#00b54b 507px,#00b14e 517px,#00bf41 527px)"></div>
<div class="hc" style="left:672px;width:3px;background:linear-gradient(#00b947 0px,#00ab54 15px,#00ba45 25px,#00df20 39px,#00e41b 43px,#00ff00 47px,#0cff00 61px,#2aff00 73px,#30ff00 85px,#47ff00 93px,#55ff00 97px,#5dff00 109px,#80ff00 121px,#8aff00 131px,#a9ff00 141px,#b4ff00 153px,#d5ff00 165px,#deff00 177px,#ffff00 191px,#ffff0d 203px,#ffff25 209px,#ffff61 217px,#ffffa1 225px,#ffffaa 227px,#ffffb1 245px,#ffffc4 253px,#ffffd9 259px,#ffffd9 269px,#ffffb4 281px,#ffffab 293px,#ffffaa 301px,#ffff94 305px,#ffff32 317px,#ffff13 323px,#ffff04 331px,#fcff00 339px,#dbff00 353px,#d1ff00 365px,#b1ff00 377px,#a4ff00 389px,#86ff00 399px,#7cff00 409px,#5dff00 419px,#55ff00 431px,#33ff00 441px,#2bff00 451px,#26ff00 457px,#09ff00 469px,#00ff00 481px,#00e41b 485px,#00d728 493px,#00b24e 507px,#00ab54 515px,#00b947 527px)"></div>
<div class="hc" style="left:675px;width:3px;background:linear-gradient(#00b14f 0px,#00a55b 15px,#00b749 25px,#00de21 39px,#00df20 43px,#00ff00 49px,#0bff00 61px,#2aff00 73px,#31ff00 87px,#55ff00 99px,#5bff00 109px,#72ff00 117px,#80ff00 121px,#87ff00 131px,#a9ff00 143px,#b1ff00 153px,#d4ff00 165px,#dbff00 177px,#ffff00 191px,#ffff05 201px,#ffff17 207px,#ffff3e 213px,#ffff90 223px,#ffffa6 227px,#ffffb1 247px,#ffffce 261px,#ffffcc 269px,#ffffae 283px,#ffffa6 301px,#ffff90 305px,#ffff2f 317px,#ffff0f 323px,#ffff01 331px,#faff00 339px,#dbff00 351px,#d4ff00 363px,#b1ff00 375px,#a5ff00 387px,#84ff00 399px,#80ff00 407px,#5eff00 417px,#56ff00 427px,#52ff00 431px,#31ff00 441px,#2aff00 455px,#07ff00 469px,#00ff00 479px,#00df20 485px,#00da25 491px,#00ad52 507px,#00a45b 515px,#00b14f 527px)"></div>
<div class="hc" style="left:678px;width:3px;background:linear-gradient(#00a957 0px,#009c64 13px,#00ad53 23px,#00d827 39px,#00df20 47px,#00e718 49px,#00e718 51px,#00ff00 55px,#08ff00 63px,#28ff00 77px,#2fff00 89px,#53ff00 101px,#5eff00 113px,#7aff00 121px,#8aff00 135px,#aaff00 147px,#b0ff00 155px,#d3ff00 167px,#dbff00 179px,#fdff00 193px,#ffff04 203px,#ffff11 207px,#ffff3a 213px,#ffff8a 223px,#ffff9f 227px,#ffffa9 233px,#ffffae 249px,#ffffbe 263px,#ffffb7 273px,#ffffaa 285px,#ffffa4 299px,#ffff96 303px,#ffff6c 309px,#ffff1c 319px,#ffff09 323px,#ffff00 331px,#f6ff00 339px,#d8ff00 351px,#cfff00 363px,#b0ff00 373px,#a8ff00 383px,#86ff00 395px,#7aff00 407px,#5eff00 415px,#50ff00 429px,#2fff00 439px,#21ff00 455px,#01ff00 469px,#00ff00 473px,#00e718 477px,#00e718 479px,#00dd22 483px,#00d42b 491px,#00a060 511px,#009d63 517px,#00a957 527px)"></div>
<div class="hc" style="left:681px;width:3px;background:linear-gradient(#00a15f 0px,#00946b 13px,#00ac53 25px,#00cf31 39px,#00d42c 51px,#00dd23 53px,#00df20 57px,#00f708 59px,#00f708 61px,#00ff00 63px,#0fff00 71px,#23ff00 81px,#34ff00 95px,#53ff00 107px,#5fff00 117px,#7bff00 127px,#8bff00 139px,#a7ff00 149px,#b3ff00 159px,#d0ff00 169px,#daff00 181px,#f9ff00 193px,#ffff02 205px,#ffff17 209px,#ffff83 223px,#ffffa0 229px,#ffffaa 237px,#ffffad 273px,#ffffa7 295px,#ffff99 301px,#ffff75 307px,#ffff17 319px,#ffff02 323px,#f9ff00 335px,#d8ff00 349px,#ccff00 361px,#aeff00 371px,#a3ff00 381px,#86ff00 391px,#77ff00 403px,#5aff00 413px,#4fff00 423px,#2dff00 437px,#23ff00 447px,#0fff00 457px,#08ff00 461px,#00ff00 465px,#00f708 467px,#00f708 469px,#00df20 471px,#00dd23 475px,#00d42c 477px,#00cf31 489px,#009669 513px,#009a66 521px,#00a15f 527px)"></div>
<div class="hc" style="left:684px;width:3px;background:linear-gradient(#009769 0px,#009070 13px,#00ab54 27px,#00c738 41px,#00cc33 51px,#00df20 61px,#00e718 63px,#00e718 67px,#00ff00 69px,#03ff00 73px,#0dff00 75px,#14ff00 81px,#27ff00 89px,#31ff00 99px,#53ff00 113px,#5cff00 121px,#7eff00 133px,#85ff00 141px,#a6ff00 153px,#b2ff00 161px,#d1ff00 173px,#daff00 183px,#f9ff00 195px,#ffff00 205px,#ffff13 209px,#ffff7e 223px,#ffff9c 229px,#ffffa9 237px,#ffffa8 293px,#ffff9c 299px,#ffff7e 305px,#ffff13 319px,#ffff00 323px,#f5ff00 335px,#d5ff00 347px,#cdff00 357px,#aaff00 371px,#98ff00 381px,#81ff00 389px,#79ff00 397px,#57ff00 409px,#4bff00 419px,#2dff00 431px,#23ff00 441px,#0fff00 449px,#0dff00 453px,#03ff00 455px,#00ff00 459px,#00e718 461px,#00e718 465px,#00db24 469px,#00ca36 479px,#00c23e 491px,#00926e 513px,#00936d 523px,#009769 527px)"></div>
<div class="hc" style="left:687px;width:3px;background:linear-gradient(#008779 0px,#00926e 17px,#00be42 41px,#00cd32 55px,#00d728 65px,#00dd22 67px,#00dd22 71px,#00f708 75px,#00ff00 79px,#1cff00 89px,#2aff00 99px,#36ff00 107px,#52ff00 117px,#5dff00 125px,#7aff00 135px,#88ff00 145px,#a8ff00 157px,#b6ff00 165px,#cfff00 175px,#ddff00 185px,#f9ff00 197px,#ffff00 205px,#ffff12 209px,#ffff87 225px,#ffffa0 231px,#ffffaa 239px,#ffffa7 293px,#ffff9a 299px,#ffff7b 305px,#ffff12 319px,#ffff00 323px,#f6ff00 333px,#d5ff00 347px,#c7ff00 357px,#acff00 367px,#9aff00 377px,#80ff00 387px,#76ff00 395px,#58ff00 405px,#49ff00 415px,#2dff00 425px,#24ff00 435px,#0dff00 445px,#00ff00 449px,#00f708 453px,#00dd22 457px,#00dd22 461px,#00d52b 465px,#00ca36 475px,#00b14e 495px,#008d73 515px,#008779 527px)"></div>
<div class="hc" style="left:690px;width:3px;background:linear-gradient(#008080 0px,#00966a 21px,#00c738 55px,#00d42c 71px,#00e31c 77px,#00f00f 79px,#02ff00 83px,#27ff00 99px,#30ff00 109px,#54ff00 121px,#5aff00 127px,#7bff00 139px,#8cff00 149px,#a9ff00 159px,#b1ff00 165px,#d2ff00 179px,#fdff00 201px,#ffff02 205px,#ffff1f 211px,#ffff86 225px,#ffffa1 231px,#ffffaa 239px,#ffffb1 267px,#ffffa6 295px,#ffff91 301px,#ffff5b 309px,#ffff13 319px,#ffff02 323px,#f4ff00 333px,#b6ff00 361px,#aaff00 367px,#9fff00 373px,#83ff00 383px,#72ff00 393px,#56ff00 403px,#50ff00 409px,#2cff00 421px,#24ff00 431px,#0aff00 441px,#02ff00 445px,#00f00f 449px,#00e31c 451px,#00d12e 459px,#00c23e 477px,#00867a 519px,#008080 527px)"></div>
<div class="hc" style="left:693px;width:3px;background:linear-gradient(#008080 0px,#00906f 19px,#00c63a 57px,#00d12f 71px,#00df21 77px,#00e51a 81px,#00fe01 85px,#03ff00 89px,#24ff00 99px,#2dff00 111px,#50ff00 121px,#5dff00 131px,#7bff00 141px,#86ff00 149px,#aaff00 161px,#b7ff00 169px,#d7ff00 183px,#ffff00 203px,#ffff15 209px,#ffff4a 217px,#ffff93 227px,#ffffa8 233px,#ffffb2 251px,#ffffc1 265px,#ffffab 285px,#ffffa8 295px,#ffff93 301px,#ffff4a 311px,#ffff15 319px,#ffff00 325px,#c7ff00 353px,#aaff00 365px,#a1ff00 371px,#82ff00 381px,#76ff00 389px,#58ff00 399px,#50ff00 407px,#2dff00 417px,#24ff00 429px,#03ff00 439px,#00fe01 443px,#00e51a 447px,#00cb34 461px,#00bd43 479px,#008977 515px,#008080 527px)"></div>
<div class="hc" style="left:696px;width:3px;background:linear-gradient(#008080 0px,#00966a 25px,#00a759 39px,#00c13e 53px,#00d32d 73px,#00df20 79px,#00df20 81px,#00fa05 85px,#02ff00 89px,#23ff00 99px,#2bff00 111px,#4dff00 121px,#5dff00 133px,#7cff00 143px,#88ff00 151px,#a7ff00 161px,#b9ff00 171px,#d3ff00 181px,#ffff00 203px,#ffff13 209px,#ffff38 215px,#ffff95 227px,#ffffa7 231px,#ffffb2 247px,#ffffd4 263px,#ffffcf 269px,#ffffaf 283px,#ffffa7 297px,#ffff95 301px,#ffff2a 315px,#ffff0c 321px,#ffff00 325px,#c4ff00 353px,#acff00 363px,#9dff00 371px,#82ff00 379px,#77ff00 387px,#58ff00 397px,#4dff00 407px,#2bff00 417px,#23ff00 429px,#02ff00 439px,#00fa05 443px,#00df20 447px,#00d728 453px,#00c936 463px,#00bc44 479px,#009e62 495px,#008080 525px,#008080 527px)"></div>
<div class="hc" style="left:699px;width:3px;background:linear-gradient(#008080 0px,#00a060 37px,#00c33c 53px,#00d32c 73px,#00df20 79px,#00f20d 81px,#00ff00 85px,#06ff00 89px,#25ff00 99px,#2eff00 111px,#50ff00 123px,#5aff00 133px,#7dff00 145px,#85ff00 151px,#a5ff00 161px,#bbff00 173px,#d5ff00 183px,#eeff00 195px,#ffff00 203px,#ffff0f 209px,#ffff33 215px,#ffff96 227px,#ffffaa 231px,#ffffb0 243px,#ffffca 253px,#ffffe6 261px,#ffffe6 267px,#ffffb7 281px,#ffffab 291px,#ffffaa 297px,#ffff96 301px,#ffff25 315px,#ffff08 321px,#fcff00 327px,#d7ff00 343px,#c1ff00 353px,#aaff00 363px,#99ff00 371px,#80ff00 379px,#79ff00 385px,#55ff00 397px,#4dff00 407px,#2eff00 417px,#21ff00 431px,#01ff00 441px,#00f906 445px,#00f20d 447px,#00df20 449px,#00d12e 457px,#00bd43 479px,#009d62 493px,#008080 527px)"></div>
<div class="hc" style="left:702px;width:3px;background:linear-gradient(#008080 0px,#00a15f 37px,#00c837 53px,#00d42c 65px,#00dd22 69px,#00dd22 73px,#00f708 77px,#00f708 79px,#00ff00 81px,#0aff00 87px,#27ff00 97px,#2fff00 109px,#52ff00 123px,#59ff00 133px,#7bff00 145px,#8aff00 153px,#a7ff00 163px,#b2ff00 171px,#d3ff00 183px,#e6ff00 193px,#feff00 203px,#ffff03 207px,#ffff1f 213px,#ffff60 221px,#ffff94 227px,#ffffaa 231px,#ffffb1 243px,#ffffc8 251px,#fffff7 261px,#fffffa 265px,#ffffef 269px,#ffffc1 279px,#ffffae 287px,#ffffaa 297px,#ffff94 301px,#ffff2d 313px,#ffff0a 319px,#ffff00 323px,#f1ff00 331px,#d5ff00 343px,#c4ff00 351px,#abff00 361px,#a3ff00 367px,#80ff00 379px,#72ff00 387px,#55ff00 397px,#4fff00 407px,#2cff00 421px,#23ff00 433px,#05ff00 443px,#00ff00 447px,#00f708 449px,#00f708 451px,#00dd22 455px,#00dd22 459px,#00cd32 467px,#00c53b 477px,#009e62 493px,#008080 527px)"></div>
<div class="hc" style="left:705px;width:3px;background:linear-gradient(#00867a 0px,#009d63 33px,#00ba46 45px,#00d22d 55px,#00d827 63px,#00e41c 65px,#00e718 69px,#00ff00 71px,#02ff00 75px,#0bff00 77px,#13ff00 85px,#29ff00 95px,#31ff00 107px,#53ff00 121px,#5cff00 133px,#7bff00 145px,#89ff00 153px,#a9ff00 165px,#afff00 171px,#d2ff00 183px,#e3ff00 193px,#fcff00 203px,#ffff00 207px,#ffff0d 211px,#ffff36 217px,#ffff8e 227px,#ffffa6 231px,#ffffb5 245px,#ffffd3 253px,#fffffe 261px,#fffffe 267px,#ffffc1 279px,#ffffae 287px,#ffffa6 297px,#ffff8e 301px,#ffff26 313px,#ffff05 319px,#ffff00 323px,#e8ff00 333px,#d6ff00 341px,#c8ff00 349px,#abff00 359px,#a1ff00 367px,#80ff00 379px,#6eff00 389px,#58ff00 397px,#50ff00 409px,#2eff00 423px,#23ff00 437px,#0dff00 447px,#0bff00 451px,#02ff00 453px,#00ff00 457px,#00e718 459px,#00e41c 463px,#00d827 465px,#00cb34 477px,#00a060 493px,#008779 525px,#00867a 527px)"></div>
<div class="hc" style="left:708px;width:3px;background:linear-gradient(#008f71 0px,#009966 29px,#00ab55 39px,#00db24 55px,#00de22 59px,#00f708 63px,#03ff00 69px,#2aff00 91px,#33ff00 105px,#55ff00 119px,#5dff00 131px,#7dff00 145px,#8aff00 153px,#a8ff00 165px,#b3ff00 173px,#d4ff00 185px,#e0ff00 193px,#fdff00 205px,#ffff01 209px,#ffff11 213px,#ffff3e 219px,#ffff86 227px,#ffffa0 231px,#ffffaa 235px,#ffffb2 245px,#ffffcf 253px,#fffff5 261px,#fffff9 265px,#ffffee 269px,#ffffbe 279px,#ffffac 287px,#ffffa7 295px,#ffff95 299px,#ffff51 307px,#ffff1e 313px,#ffff07 317px,#ffff00 321px,#f1ff00 329px,#d7ff00 339px,#ccff00 347px,#aaff00 359px,#a0ff00 367px,#81ff00 379px,#71ff00 389px,#5aff00 399px,#52ff00 411px,#30ff00 425px,#29ff00 439px,#03ff00 459px,#00f708 465px,#00de22 469px,#00d728 475px,#00a25e 493px,#00936d 509px,#008f71 527px)"></div>
<div class="hc" style="left:711px;width:3px;background:linear-gradient(#00966a 0px,#009868 27px,#00ad53 39px,#00df20 55px,#00e01f 57px,#00e916 59px,#00f906 61px,#03ff00 65px,#10ff00 75px,#2bff00 89px,#31ff00 101px,#55ff00 117px,#5dff00 129px,#7fff00 145px,#8aff00 153px,#a7ff00 165px,#b2ff00 173px,#d2ff00 185px,#ddff00 193px,#feff00 207px,#ffff02 211px,#ffff16 215px,#ffff8b 229px,#ffffa0 233px,#ffffaa 239px,#ffffb2 247px,#ffffd8 257px,#ffffea 263px,#ffffe6 267px,#ffffb2 281px,#ffffaa 289px,#ffffa0 295px,#ffff7c 301px,#ffff16 313px,#ffff02 317px,#f7ff00 325px,#d6ff00 339px,#caff00 347px,#aaff00 359px,#9fff00 367px,#82ff00 379px,#74ff00 389px,#5bff00 401px,#52ff00 413px,#31ff00 427px,#26ff00 443px,#06ff00 459px,#01ff00 465px,#00f906 467px,#00e916 469px,#00e01f 471px,#00db25 475px,#00a858 491px,#009769 503px,#00966a 527px)"></div>
<div class="hc" style="left:714px;width:3px;background:linear-gradient(#009769 0px,#009868 27px,#00ad53 39px,#00df20 55px,#00e01f 57px,#00fa05 61px,#03ff00 65px,#0eff00 75px,#2bff00 87px,#32ff00 101px,#55ff00 115px,#61ff00 129px,#7fff00 143px,#8bff00 153px,#aaff00 167px,#b2ff00 173px,#d4ff00 187px,#e0ff00 195px,#fcff00 207px,#ffff04 213px,#ffff1d 217px,#ffff81 229px,#ffff9f 235px,#ffffaa 243px,#ffffb5 251px,#ffffd6 261px,#ffffd6 267px,#ffffb1 279px,#ffff9f 293px,#ffff81 299px,#ffff0f 313px,#ffff04 315px,#fcff00 321px,#d5ff00 339px,#c8ff00 347px,#aaff00 359px,#9fff00 367px,#81ff00 381px,#78ff00 389px,#5bff00 403px,#51ff00 415px,#32ff00 427px,#27ff00 443px,#08ff00 457px,#01ff00 465px,#00fa05 467px,#00e01f 471px,#00db25 475px,#00a858 491px,#009769 503px,#009769 527px)"></div>
<div class="hc" style="left:717px;width:3px;background:linear-gradient(#00946c 0px,#00966a 15px,#009967 29px,#00b14f 41px,#00db24 55px,#00eb14 61px,#00fb04 63px,#0aff00 75px,#2bff00 89px,#33ff00 101px,#55ff00 115px,#5fff00 127px,#7fff00 141px,#87ff00 151px,#aaff00 167px,#bcff00 177px,#d3ff00 187px,#e8ff00 199px,#ffff00 211px,#ffff00 213px,#ffff19 217px,#ffff78 229px,#ffff97 235px,#ffffa7 243px,#ffffb1 253px,#ffffc9 261px,#ffffc9 267px,#ffffad 277px,#ffffa2 289px,#ffff8e 295px,#ffff6a 301px,#ffff0b 313px,#ffff00 315px,#f6ff00 323px,#d5ff00 339px,#c2ff00 349px,#acff00 359px,#9aff00 369px,#82ff00 381px,#7bff00 389px,#5cff00 403px,#51ff00 415px,#30ff00 429px,#28ff00 441px,#07ff00 455px,#00fb04 465px,#00eb14 467px,#00b749 485px,#009b65 497px,#00946c 509px,#00956b 523px,#00946c 527px)"></div>
<div class="hc" style="left:720px;width:3px;background:linear-gradient(#008d73 0px,#00956a 11px,#00946b 27px,#00a857 39px,#00d926 57px,#00e718 65px,#00ff00 69px,#0bff00 79px,#29ff00 89px,#32ff00 101px,#53ff00 115px,#5fff00 127px,#7fff00 141px,#88ff00 151px,#adff00 169px,#d5ff00 189px,#e5ff00 199px,#fdff00 211px,#ffff00 213px,#ffff36 221px,#ffff7c 231px,#ffff97 237px,#ffffa7 245px,#ffffab 253px,#ffffc3 263px,#ffffbc 269px,#ffffab 275px,#ffffa2 287px,#ffff90 293px,#ffff63 301px,#ffff0b 313px,#ffff00 315px,#eaff00 327px,#d6ff00 337px,#c6ff00 347px,#adff00 359px,#90ff00 373px,#81ff00 383px,#7cff00 389px,#59ff00 405px,#50ff00 415px,#2fff00 429px,#29ff00 439px,#08ff00 451px,#00ff00 459px,#00e718 463px,#00cb34 477px,#009f60 493px,#00926e 505px,#00936d 521px,#008d73 527px)"></div>
<div class="hc" style="left:723px;width:3px;background:linear-gradient(#00847c 0px,#009070 11px,#00916f 27px,#00a45c 39px,#00d629 59px,#00de22 67px,#00f708 71px,#02ff00 77px,#0eff00 83px,#27ff00 91px,#34ff00 103px,#54ff00 117px,#5fff00 127px,#7eff00 141px,#8bff00 153px,#acff00 169px,#d4ff00 189px,#deff00 197px,#ffff00 213px,#ffff75 231px,#ffff99 239px,#ffffa8 247px,#ffffaf 255px,#ffffbf 263px,#ffffb9 269px,#ffffaa 277px,#ffff9f 287px,#ffff80 295px,#ffff34 307px,#ffff00 315px,#d5ff00 337px,#c9ff00 345px,#acff00 359px,#82ff00 381px,#7bff00 389px,#58ff00 405px,#4eff00 415px,#2dff00 429px,#27ff00 437px,#03ff00 449px,#00fb04 455px,#00f708 457px,#00de22 461px,#00d22d 471px,#009868 495px,#008e72 509px,#008c74 521px,#00847c 527px)"></div>
<div class="hc" style="left:726px;width:3px;background:linear-gradient(#008080 0px,#008977 17px,#00916f 31px,#00b24d 47px,#00d030 61px,#00e31c 73px,#00f10e 75px,#00ff00 79px,#06ff00 83px,#25ff00 93px,#36ff00 105px,#52ff00 117px,#62ff00 129px,#7fff00 143px,#8aff00 153px,#a9ff00 167px,#bdff00 179px,#d3ff00 189px,#e0ff00 199px,#ffff00 213px,#ffff7b 233px,#ffff9d 241px,#ffffaa 249px,#ffffb1 255px,#ffffc0 263px,#ffffbb 269px,#ffffaa 277px,#ffffa2 285px,#ffff85 293px,#ffff0d 313px,#ffff00 315px,#d6ff00 335px,#ccff00 343px,#abff00 359px,#98ff00 369px,#81ff00 381px,#7aff00 389px,#58ff00 405px,#4bff00 415px,#2bff00 429px,#20ff00 437px,#01ff00 447px,#00ff00 449px,#00f10e 453px,#00e31c 455px,#00bc43 477px,#00946c 495px,#008976 509px,#00837d 523px,#008080 527px)"></div>
<div class="hc" style="left:729px;width:3px;background:linear-gradient(#007d83 0px,#008c74 31px,#00b44c 51px,#00df21 73px,#00df20 75px,#00ff00 81px,#12ff00 89px,#28ff00 99px,#53ff00 119px,#65ff00 131px,#80ff00 145px,#8dff00 155px,#aaff00 169px,#c0ff00 181px,#d4ff00 191px,#deff00 199px,#ffff00 213px,#ffff8b 237px,#ffffa2 243px,#ffffb5 255px,#ffffc5 263px,#ffffbf 269px,#ffffaa 279px,#ffffa2 285px,#ffff81 293px,#ffff00 315px,#d7ff00 333px,#caff00 343px,#acff00 357px,#9bff00 367px,#82ff00 379px,#77ff00 389px,#57ff00 405px,#48ff00 415px,#28ff00 429px,#12ff00 439px,#00ff00 447px,#00df20 453px,#00d729 459px,#008c74 497px,#007d83 527px)"></div>
<div class="hc" style="left:732px;width:3px;background:linear-gradient(#007888 0px,#008a76 33px,#00ca35 67px,#00df20 75px,#00e11e 77px,#00fa05 81px,#03ff00 85px,#2eff00 103px,#54ff00 121px,#6cff00 135px,#80ff00 147px,#8fff00 157px,#aaff00 169px,#b4ff00 177px,#d3ff00 191px,#e0ff00 201px,#ffff00 213px,#ffff64 231px,#ffff9c 241px,#ffffaa 247px,#ffffb9 255px,#ffffcb 263px,#ffffc4 269px,#ffffab 279px,#ffffa3 285px,#ffff7c 293px,#ffff2b 307px,#ffff00 315px,#d8ff00 331px,#ccff00 341px,#adff00 355px,#a3ff00 363px,#84ff00 377px,#74ff00 389px,#56ff00 405px,#44ff00 415px,#17ff00 435px,#00ff00 445px,#00fa05 447px,#00e11e 451px,#00d02f 459px,#00936d 489px,#00837d 503px,#007a86 523px,#007888 527px)"></div>
<div class="hc" style="left:735px;width:3px;background:linear-gradient(#007090 0px,#008080 21px,#008779 35px,#00c13f 67px,#00df20 77px,#00e41b 79px,#00fd02 83px,#05ff00 89px,#2bff00 101px,#3bff00 111px,#55ff00 123px,#6cff00 137px,#80ff00 149px,#91ff00 159px,#a9ff00 169px,#b5ff00 179px,#d4ff00 193px,#deff00 201px,#ffff00 213px,#ffff43 227px,#ffff9b 241px,#ffffaa 245px,#ffffbb 255px,#ffffcd 263px,#ffffc7 269px,#ffffae 279px,#ffffa4 285px,#ffff77 293px,#ffff2e 305px,#ffff00 315px,#d6ff00 331px,#ceff00 339px,#adff00 353px,#a5ff00 361px,#82ff00 377px,#71ff00 389px,#57ff00 403px,#45ff00 413px,#2cff00 425px,#25ff00 429px,#05ff00 439px,#00fd02 445px,#00e41b 449px,#00c738 459px,#00ad53 471px,#00837d 497px,#007a86 517px,#007090 527px)"></div>
<div class="hc" style="left:738px;width:3px;background:linear-gradient(#00669a 0px,#007e82 21px,#00857b 37px,#00b64a 67px,#00dc23 77px,#00e21e 81px,#00ff00 87px,#0aff00 93px,#28ff00 101px,#37ff00 111px,#55ff00 123px,#60ff00 133px,#80ff00 149px,#89ff00 157px,#a9ff00 171px,#b2ff00 179px,#d3ff00 193px,#dbff00 201px,#fdff00 213px,#ffff02 215px,#ffff2e 225px,#ffff99 241px,#ffffaa 245px,#ffffc9 263px,#ffffc3 269px,#ffffa3 285px,#ffff71 293px,#ffff2e 303px,#ffff02 313px,#f3ff00 319px,#d7ff00 329px,#cbff00 339px,#acff00 353px,#a2ff00 361px,#82ff00 375px,#76ff00 385px,#57ff00 401px,#51ff00 407px,#2bff00 423px,#28ff00 427px,#04ff00 437px,#00ff00 441px,#00e21e 447px,#00d62a 453px,#00b64a 461px,#00817f 495px,#007987 513px,#00669a 527px)"></div>
<div class="hc" style="left:741px;width:3px;background:linear-gradient(#005ca4 0px,#007c84 23px,#00867a 41px,#00ab55 67px,#00d827 79px,#00df20 85px,#00fb04 89px,#03ff00 93px,#23ff00 103px,#45ff00 119px,#54ff00 125px,#64ff00 137px,#7eff00 149px,#89ff00 159px,#aaff00 173px,#b3ff00 181px,#d3ff00 195px,#ddff00 203px,#ffff00 215px,#ffff18 223px,#ffff49 231px,#ffffa2 243px,#ffffaa 245px,#ffffc1 263px,#ffffba 271px,#ffffaa 283px,#ffff95 287px,#ffff2e 301px,#ffff10 307px,#ffff00 313px,#d6ff00 329px,#ccff00 337px,#acff00 351px,#a4ff00 359px,#83ff00 373px,#77ff00 383px,#5aff00 397px,#51ff00 405px,#32ff00 417px,#17ff00 429px,#00ff00 437px,#00fb04 439px,#00df20 443px,#00d32c 451px,#00ab55 461px,#00817f 493px,#00768a 511px,#005ca4 527px)"></div>
<div class="hc" style="left:744px;width:3px;background:linear-gradient(#0052ad 0px,#007a86 25px,#008a76 47px,#00a858 69px,#00d02f 79px,#00e31c 89px,#00f00f 91px,#01ff00 95px,#2fff00 113px,#3bff00 119px,#50ff00 127px,#68ff00 141px,#7eff00 151px,#85ff00 159px,#a8ff00 173px,#b4ff00 183px,#d4ff00 197px,#daff00 203px,#fcff00 215px,#ffff05 221px,#ffff22 227px,#ffff6d 237px,#ffff9c 243px,#ffffa6 245px,#ffffb9 263px,#ffffaa 281px,#ffffa6 283px,#ffff7e 289px,#ffff2f 299px,#ffff0d 305px,#ffff01 309px,#f7ff00 315px,#d6ff00 327px,#cdff00 335px,#adff00 349px,#a5ff00 357px,#82ff00 371px,#77ff00 381px,#58ff00 395px,#48ff00 405px,#31ff00 413px,#1dff00 423px,#01ff00 433px,#00f00f 437px,#00e31c 439px,#00d02f 449px,#00a35d 461px,#008080 491px,#00758b 507px,#0052ad 527px)"></div>
<div class="hc" style="left:747px;width:3px;background:linear-gradient(#004eb1 0px,#007d83 31px,#008b75 51px,#00a060 67px,#00d62a 83px,#00df20 91px,#00e817 93px,#00fc03 95px,#07ff00 101px,#2aff00 113px,#32ff00 119px,#4fff00 129px,#64ff00 141px,#7fff00 153px,#86ff00 161px,#a8ff00 175px,#b5ff00 185px,#d4ff00 199px,#dbff00 205px,#fdff00 217px,#ffff00 221px,#ffff16 227px,#ffff4f 235px,#ffff8e 243px,#ffffa1 247px,#ffffb0 259px,#ffffaf 271px,#ffffa1 281px,#ffff8e 285px,#ffff22 299px,#ffff05 305px,#ffff00 309px,#edff00 317px,#d7ff00 325px,#caff00 335px,#adff00 347px,#a1ff00 357px,#82ff00 369px,#78ff00 379px,#57ff00 393px,#46ff00 403px,#2dff00 411px,#26ff00 417px,#02ff00 429px,#00fc03 433px,#00e817 435px,#00df20 437px,#00d62a 445px,#00a060 461px,#00817f 487px,#00768a 503px,#004eb1 527px)"></div>
<div class="hc" style="left:750px;width:3px;background:linear-gradient(#004db3 0px,#007e82 35px,#008a76 53px,#009f61 67px,#00d62a 85px,#00df20 93px,#00fa05 97px,#01ff00 101px,#26ff00 113px,#33ff00 121px,#51ff00 131px,#5bff00 139px,#7dff00 153px,#87ff00 163px,#a6ff00 175px,#b1ff00 185px,#d3ff00 199px,#ddff00 207px,#fdff00 219px,#ffff04 225px,#ffff23 231px,#ffff88 245px,#ffffa0 251px,#ffffab 259px,#ffffa7 273px,#ffff99 279px,#ffff7c 285px,#ffff16 299px,#ffff04 303px,#faff00 311px,#d5ff00 325px,#cbff00 333px,#adff00 345px,#a2ff00 355px,#80ff00 369px,#76ff00 379px,#57ff00 391px,#4cff00 399px,#2dff00 409px,#22ff00 417px,#01ff00 427px,#00fa05 431px,#00df20 435px,#00d12e 445px,#009a66 463px,#00817f 485px,#007887 499px,#004db3 527px)"></div>
<div class="hc" style="left:753px;width:3px;background:linear-gradient(#004cb3 0px,#00649c 19px,#007d83 35px,#008779 53px,#00a35d 69px,#00d62a 87px,#00e41b 95px,#00f906 99px,#05ff00 103px,#27ff00 115px,#30ff00 121px,#50ff00 131px,#5eff00 141px,#7cff00 153px,#85ff00 163px,#a7ff00 177px,#b1ff00 187px,#d3ff00 201px,#d9ff00 207px,#fdff00 221px,#ffff00 225px,#ffff16 231px,#ffff73 245px,#ffff96 253px,#ffffa8 263px,#ffff9b 273px,#ffff7e 281px,#ffff3e 291px,#ffff0c 299px,#ffff00 303px,#f6ff00 311px,#d6ff00 323px,#ccff00 331px,#adff00 343px,#a0ff00 355px,#81ff00 367px,#79ff00 377px,#55ff00 391px,#50ff00 397px,#2bff00 409px,#23ff00 415px,#00ff00 427px,#00ef10 431px,#00e41b 433px,#00c738 447px,#009966 463px,#00827e 481px,#007987 497px,#004db2 525px,#004cb3 527px)"></div>
<div class="hc" style="left:756px;width:3px;background:linear-gradient(#004cb4 0px,#005fa1 17px,#007d83 35px,#00867a 53px,#00a25e 69px,#00d629 89px,#00df20 95px,#00ff00 101px,#3dff00 125px,#53ff00 133px,#5eff00 141px,#7cff00 153px,#84ff00 163px,#a6ff00 177px,#aeff00 187px,#d1ff00 201px,#dcff00 209px,#fdff00 223px,#ffff04 229px,#ffff21 235px,#ffff68 247px,#ffff88 255px,#ffff97 263px,#ffff8d 271px,#ffff72 279px,#ffff2d 291px,#ffff0c 297px,#ffff01 301px,#f7ff00 309px,#d5ff00 323px,#c9ff00 331px,#abff00 343px,#a3ff00 353px,#80ff00 367px,#79ff00 377px,#55ff00 391px,#4fff00 397px,#2bff00 409px,#14ff00 419px,#00ff00 427px,#00df20 433px,#00c43c 447px,#00956b 465px,#00817f 481px,#007888 497px,#004eb1 523px,#004cb4 527px)"></div>
<div class="hc" style="left:759px;width:3px;background:linear-gradient(#004cb4 0px,#005ba5 15px,#007c84 35px,#00857b 53px,#00a15f 69px,#00db24 93px,#00e719 97px,#00fe01 101px,#05ff00 105px,#44ff00 127px,#54ff00 133px,#5aff00 139px,#7aff00 151px,#85ff00 163px,#a6ff00 177px,#adff00 187px,#d2ff00 203px,#deff00 211px,#fbff00 223px,#ffff00 229px,#ffff14 235px,#ffff63 251px,#ffff7b 259px,#ffff80 265px,#ffff71 273px,#ffff48 283px,#ffff0b 295px,#ffff00 299px,#f7ff00 307px,#d6ff00 321px,#c7ff00 331px,#aaff00 343px,#a3ff00 353px,#81ff00 367px,#7aff00 377px,#56ff00 391px,#50ff00 397px,#26ff00 411px,#00ff00 425px,#00fe01 427px,#00df20 433px,#00ab55 455px,#008a76 471px,#008080 483px,#007888 497px,#004eb2 523px,#004cb4 527px)"></div>
<div class="hc" style="left:762px;width:3px;background:linear-gradient(#004bb4 0px,#005ba5 15px,#007d83 35px,#00857b 53px,#00a45b 71px,#00df20 95px,#00e01f 97px,#00ff00 103px,#3dff00 125px,#55ff00 133px,#5cff00 139px,#7dff00 151px,#84ff00 161px,#a5ff00 175px,#adff00 187px,#d1ff00 203px,#e0ff00 213px,#fbff00 225px,#ffff04 233px,#ffff58 255px,#ffff66 263px,#ffff5d 271px,#ffff33 283px,#ffff04 295px,#f8ff00 305px,#d5ff00 321px,#c5ff00 331px,#aaff00 343px,#a2ff00 355px,#81ff00 369px,#79ff00 379px,#58ff00 391px,#51ff00 397px,#26ff00 411px,#00ff00 425px,#00e01f 431px,#00cc34 441px,#009070 467px,#008080 481px,#007888 497px,#004db2 523px,#004bb4 527px)"></div>
<div class="hc" style="left:765px;width:3px;background:linear-gradient(#004ab6 0px,#005ba5 15px,#007c84 33px,#008779 55px,#00ac54 75px,#00df20 97px,#00ff00 103px,#0eff00 109px,#27ff00 117px,#3cff00 125px,#55ff00 133px,#64ff00 141px,#7dff00 149px,#87ff00 161px,#a7ff00 175px,#aeff00 187px,#d3ff00 205px,#ddff00 213px,#fcff00 227px,#ffff02 235px,#ffff49 259px,#ffff4c 267px,#ffff34 277px,#ffff02 293px,#f9ff00 303px,#d6ff00 319px,#c5ff00 331px,#acff00 343px,#a5ff00 355px,#83ff00 369px,#7dff00 379px,#5aff00 391px,#51ff00 397px,#2bff00 409px,#16ff00 417px,#02ff00 423px,#00ff00 425px,#00df20 431px,#009070 467px,#008080 481px,#007987 497px,#004cb3 523px,#004ab6 527px)"></div>
<div class="hc" style="left:768px;width:3px;background:linear-gradient(#0049b7 0px,#0057a9 13px,#007d83 33px,#008779 55px,#00aa56 75px,#00df20 97px,#00ff00 103px,#0fff00 109px,#2aff00 117px,#33ff00 123px,#55ff00 133px,#5fff00 139px,#80ff00 149px,#85ff00 159px,#a8ff00 173px,#b1ff00 187px,#d3ff00 205px,#dcff00 213px,#fbff00 229px,#ffff04 239px,#ffff25 253px,#ffff34 261px,#ffff32 269px,#ffff04 289px,#f9ff00 301px,#d5ff00 319px,#caff00 329px,#aeff00 343px,#a4ff00 357px,#85ff00 369px,#80ff00 379px,#5aff00 391px,#51ff00 397px,#2eff00 407px,#25ff00 413px,#02ff00 423px,#00ff00 425px,#00d827 433px,#00936d 465px,#00817f 481px,#007b85 497px,#004bb5 523px,#0049b7 527px)"></div>
<div class="hc" style="left:771px;width:3px;background:linear-gradient(#0047b9 0px,#0056a9 13px,#007e82 33px,#008779 55px,#00ac53 77px,#00d728 95px,#00ff00 103px,#29ff00 117px,#31ff00 123px,#55ff00 133px,#5dff00 139px,#7eff00 149px,#87ff00 159px,#aaff00 173px,#b3ff00 187px,#d3ff00 205px,#e3ff00 217px,#faff00 231px,#ffff04 245px,#ffff1f 261px,#ffff1a 271px,#ffff00 287px,#f6ff00 301px,#d6ff00 319px,#c7ff00 331px,#aeff00 345px,#a7ff00 357px,#83ff00 371px,#7eff00 379px,#58ff00 391px,#4fff00 397px,#2cff00 407px,#25ff00 413px,#00ff00 425px,#00d728 433px,#009967 461px,#00827e 479px,#007c84 497px,#004ab6 523px,#0047b9 527px)"></div>
<div class="hc" style="left:774px;width:3px;background:linear-gradient(#0045bb 0px,#005aa6 15px,#008080 33px,#008779 55px,#00a65a 75px,#00d728 95px,#00ff00 103px,#27ff00 117px,#34ff00 125px,#50ff00 133px,#60ff00 141px,#7fff00 151px,#87ff00 159px,#aaff00 173px,#b5ff00 187px,#d4ff00 205px,#e2ff00 217px,#faff00 233px,#ffff02 251px,#ffff0d 261px,#ffff09 273px,#ffff01 281px,#f6ff00 299px,#d5ff00 321px,#c4ff00 333px,#aeff00 347px,#a7ff00 357px,#83ff00 371px,#7bff00 379px,#56ff00 391px,#4aff00 397px,#2eff00 405px,#1dff00 415px,#00ff00 425px,#00d728 433px,#00a65a 453px,#008779 473px,#007d83 497px,#0048b8 523px,#0045bb 527px)"></div>
<div class="hc" style="left:777px;width:3px;background:linear-gradient(#0044bc 0px,#0055ab 13px,#008080 33px,#008779 55px,#00a45c 75px,#00d02f 93px,#00ea15 99px,#00ff00 103px,#28ff00 119px,#37ff00 127px,#55ff00 137px,#69ff00 145px,#80ff00 153px,#8bff00 161px,#aaff00 173px,#b7ff00 187px,#d5ff00 205px,#e4ff00 219px,#fbff00 239px,#fdff00 285px,#eeff00 303px,#d5ff00 321px,#c6ff00 333px,#adff00 349px,#a7ff00 357px,#82ff00 371px,#77ff00 379px,#57ff00 389px,#45ff00 397px,#2cff00 405px,#1aff00 415px,#00ff00 425px,#00d728 433px,#00a858 451px,#008977 471px,#00817f 491px,#007a86 499px,#004ab6 521px,#0044bc 527px)"></div>
<div class="hc" style="left:780px;width:3px;background:linear-gradient(#0043bd 0px,#0053ad 13px,#008080 33px,#008878 57px,#00a65a 77px,#00d12e 93px,#00e916 99px,#00ff00 103px,#06ff00 107px,#28ff00 121px,#32ff00 127px,#52ff00 137px,#64ff00 145px,#7dff00 153px,#8fff00 163px,#a9ff00 173px,#b8ff00 187px,#d5ff00 205px,#f9ff00 241px,#f9ff00 287px,#e3ff00 309px,#c7ff00 333px,#acff00 351px,#a6ff00 357px,#82ff00 371px,#72ff00 379px,#58ff00 387px,#47ff00 395px,#2dff00 403px,#1dff00 413px,#01ff00 423px,#00ff00 425px,#00d828 433px,#00aa56 449px,#008a76 469px,#00817f 487px,#007d83 497px,#0048b7 521px,#0043bd 527px)"></div>
<div class="hc" style="left:783px;width:3px;background:linear-gradient(#0042be 0px,#0051ae 13px,#007e82 33px,#008977 59px,#00a35d 77px,#00cb34 91px,#00e31c 99px,#00f906 103px,#05ff00 107px,#28ff00 121px,#2fff00 127px,#55ff00 139px,#59ff00 143px,#7eff00 155px,#8cff00 163px,#a8ff00 173px,#baff00 187px,#d3ff00 203px,#f6ff00 241px,#f6ff00 287px,#ddff00 313px,#c9ff00 333px,#abff00 351px,#9fff00 359px,#83ff00 369px,#75ff00 377px,#55ff00 387px,#50ff00 391px,#2bff00 403px,#1fff00 411px,#00ff00 423px,#00ee11 427px,#00e31c 429px,#00a758 449px,#008b75 467px,#00817f 487px,#007b85 497px,#0047b9 521px,#0042be 527px)"></div>
<div class="hc" style="left:786px;width:3px;background:linear-gradient(#0040c0 0px,#004fb1 13px,#007b85 33px,#008c74 63px,#00a55b 79px,#00dd22 97px,#00df20 99px,#00ff00 105px,#29ff00 123px,#31ff00 129px,#53ff00 139px,#5dff00 145px,#7dff00 155px,#84ff00 161px,#a8ff00 173px,#b7ff00 185px,#d2ff00 201px,#f4ff00 243px,#f2ff00 289px,#caff00 333px,#abff00 351px,#a3ff00 357px,#80ff00 369px,#78ff00 375px,#57ff00 385px,#4eff00 391px,#2dff00 401px,#1eff00 411px,#00ff00 423px,#00df20 429px,#00d22d 435px,#00a55b 449px,#008a76 467px,#007b85 495px,#0044bb 521px,#0040c0 527px)"></div>
<div class="hc" style="left:789px;width:3px;background:linear-gradient(#003dc3 0px,#004cb4 13px,#007b85 35px,#008c74 65px,#00a65a 81px,#00d828 95px,#00df20 99px,#00ff00 105px,#05ff00 109px,#27ff00 121px,#2fff00 129px,#52ff00 139px,#5bff00 145px,#7dff00 155px,#84ff00 161px,#a7ff00 173px,#b9ff00 185px,#d1ff00 199px,#f0ff00 243px,#eeff00 291px,#cdff00 333px,#aaff00 351px,#a3ff00 357px,#80ff00 369px,#78ff00 375px,#56ff00 385px,#4cff00 391px,#2bff00 401px,#23ff00 409px,#00ff00 421px,#00ff00 423px,#00df20 429px,#00ca35 437px,#00a65a 447px,#008c74 463px,#008080 485px,#00758b 497px,#0042be 521px,#003dc3 527px)"></div>
<div class="hc" style="left:792px;width:3px;background:linear-gradient(#0039c6 0px,#0049b7 13px,#007888 35px,#008080 49px,#00916f 71px,#00a858 83px,#00da26 95px,#00df20 99px,#00ff00 105px,#13ff00 113px,#27ff00 121px,#30ff00 129px,#55ff00 141px,#6cff00 149px,#7dff00 155px,#8aff00 163px,#a7ff00 173px,#bbff00 185px,#d1ff00 197px,#ecff00 241px,#e9ff00 295px,#ccff00 335px,#acff00 351px,#9dff00 359px,#81ff00 369px,#79ff00 375px,#59ff00 385px,#45ff00 393px,#2cff00 401px,#24ff00 409px,#02ff00 421px,#00ff00 423px,#00df20 429px,#00da26 433px,#00a858 445px,#00916f 457px,#008080 479px,#007888 493px,#003ec1 521px,#0039c6 527px)"></div>
<div class="hc" style="left:795px;width:3px;background:linear-gradient(#0035ca 0px,#0045ba 13px,#007888 37px,#008e72 71px,#00a55b 83px,#00db24 95px,#00e51b 99px,#00fb04 103px,#0aff00 109px,#29ff00 121px,#32ff00 129px,#55ff00 141px,#7fff00 155px,#8bff00 163px,#a9ff00 173px,#beff00 185px,#d3ff00 197px,#e9ff00 241px,#e6ff00 299px,#cfff00 335px,#abff00 353px,#9fff00 359px,#82ff00 369px,#7bff00 375px,#55ff00 387px,#2eff00 401px,#25ff00 409px,#01ff00 423px,#00fb04 425px,#00e51b 429px,#00d42b 435px,#00a55b 445px,#008e72 457px,#008080 479px,#00758a 493px,#003bc5 521px,#0035ca 527px)"></div>
<div class="hc" style="left:798px;width:3px;background:linear-gradient(#0032ce 0px,#0041be 13px,#00768a 37px,#008080 51px,#008c74 71px,#00a45c 83px,#00de21 95px,#00df20 97px,#00ff00 103px,#2aff00 121px,#30ff00 127px,#53ff00 139px,#67ff00 147px,#80ff00 155px,#87ff00 161px,#aaff00 173px,#c0ff00 185px,#d3ff00 195px,#e6ff00 239px,#e3ff00 303px,#ceff00 337px,#afff00 351px,#9fff00 359px,#83ff00 369px,#7cff00 375px,#55ff00 387px,#42ff00 395px,#2dff00 403px,#27ff00 409px,#00ff00 425px,#00df20 431px,#00de21 433px,#00a45c 445px,#008c74 457px,#008080 479px,#00738d 493px,#0037c8 521px,#0032ce 527px)"></div>
<div class="hc" style="left:801px;width:3px;background:linear-gradient(#002fd1 0px,#003ec2 13px,#00748c 37px,#008080 51px,#008a76 71px,#009e62 81px,#00c13e 89px,#00df20 95px,#00ff00 103px,#2bff00 121px,#37ff00 129px,#55ff00 139px,#5fff00 145px,#80ff00 155px,#86ff00 161px,#aaff00 173px,#bcff00 183px,#d4ff00 193px,#e4ff00 235px,#e1ff00 307px,#d1ff00 337px,#afff00 351px,#9fff00 359px,#82ff00 369px,#7bff00 375px,#5aff00 385px,#51ff00 391px,#2eff00 403px,#22ff00 411px,#00ff00 425px,#00cc33 437px,#00a55b 445px,#008d73 455px,#00817f 473px,#007789 489px,#004bb4 509px,#0031ce 523px,#002fd1 527px)"></div>
<div class="hc" style="left:804px;width:3px;background:linear-gradient(#002cd3 0px,#003ac5 13px,#00758b 39px,#008080 53px,#008878 71px,#009e61 81px,#00df20 95px,#00fe01 101px,#0bff00 109px,#29ff00 121px,#38ff00 129px,#54ff00 139px,#5eff00 145px,#7dff00 155px,#8aff00 163px,#a9ff00 173px,#bbff00 183px,#d5ff00 193px,#e3ff00 231px,#dfff00 281px,#e1ff00 309px,#d1ff00 337px,#aeff00 351px,#a4ff00 357px,#85ff00 367px,#79ff00 375px,#55ff00 387px,#4bff00 393px,#2eff00 403px,#1bff00 413px,#00ff00 425px,#00fe01 427px,#00a65a 445px,#008b75 455px,#00817f 471px,#007a86 485px,#005ca3 501px,#0033cc 519px,#002cd3 527px)"></div>
<div class="hc" style="left:807px;width:3px;background:linear-gradient(#0029d6 0px,#0037c8 13px,#00738c 39px,#008080 53px,#00867a 71px,#009e62 81px,#00ea16 97px,#00ff00 101px,#09ff00 109px,#2bff00 123px,#53ff00 139px,#63ff00 147px,#7eff00 157px,#88ff00 163px,#a7ff00 173px,#b4ff00 181px,#d1ff00 191px,#e3ff00 227px,#dbff00 265px,#e2ff00 309px,#d1ff00 337px,#abff00 351px,#a3ff00 357px,#83ff00 367px,#76ff00 375px,#58ff00 385px,#44ff00 395px,#2bff00 405px,#02ff00 423px,#00ff00 427px,#00a65a 445px,#008977 455px,#008080 471px,#007987 485px,#005aa6 501px,#0030cf 519px,#0029d6 527px)"></div>
<div class="hc" style="left:810px;width:3px;background:linear-gradient(#0026d9 0px,#0035ca 13px,#00738d 39px,#008080 53px,#00847c 71px,#00966a 79px,#00ec13 99px,#00ff00 103px,#06ff00 109px,#2bff00 123px,#3eff00 131px,#53ff00 139px,#61ff00 147px,#7dff00 157px,#85ff00 163px,#a7ff00 173px,#b4ff00 181px,#d0ff00 191px,#e5ff00 223px,#d8ff00 257px,#ddff00 289px,#e4ff00 309px,#d0ff00 337px,#aaff00 351px,#a2ff00 357px,#80ff00 367px,#75ff00 375px,#57ff00 385px,#4aff00 393px,#2dff00 403px,#1cff00 411px,#02ff00 421px,#00ff00 425px,#00ec13 429px,#00966a 449px,#00847c 457px,#007b85 483px,#005da3 499px,#002ed1 519px,#0026d9 527px)"></div>
<div class="hc" style="left:813px;width:3px;background:linear-gradient(#0023dd 0px,#0034cc 13px,#00758b 41px,#008080 55px,#00847c 73px,#009d63 81px,#00d52a 95px,#00e718 101px,#00fd02 105px,#07ff00 111px,#2aff00 123px,#31ff00 127px,#50ff00 137px,#5bff00 145px,#79ff00 155px,#85ff00 163px,#a3ff00 171px,#b5ff00 181px,#d0ff00 191px,#e7ff00 221px,#d6ff00 253px,#daff00 287px,#e7ff00 307px,#d8ff00 325px,#d0ff00 337px,#abff00 351px,#a3ff00 357px,#80ff00 367px,#75ff00 375px,#56ff00 385px,#50ff00 391px,#2bff00 403px,#20ff00 409px,#04ff00 419px,#00fd02 423px,#00df20 429px,#00bf40 439px,#008e72 451px,#00827e 457px,#007b85 483px,#005ca4 499px,#002cd3 519px,#0023dd 527px)"></div>
<div class="hc" style="left:816px;width:3px;background:linear-gradient(#0020df 0px,#0037c9 15px,#00758a 41px,#008080 55px,#00827e 73px,#009c64 81px,#00d42b 95px,#00df20 101px,#00e21e 103px,#00fb04 107px,#09ff00 113px,#2bff00 123px,#55ff00 139px,#5dff00 145px,#7bff00 155px,#88ff00 163px,#a6ff00 171px,#b2ff00 179px,#d2ff00 191px,#ddff00 205px,#eaff00 219px,#e0ff00 235px,#d5ff00 249px,#d7ff00 285px,#eaff00 305px,#e3ff00 319px,#d5ff00 331px,#ceff00 339px,#adff00 351px,#a6ff00 357px,#82ff00 367px,#76ff00 375px,#58ff00 385px,#4dff00 393px,#2bff00 405px,#03ff00 417px,#00fb04 421px,#00e21e 425px,#00da26 431px,#00b649 441px,#00867a 453px,#008080 461px,#007b85 483px,#0060a0 497px,#002bd5 519px,#0020df 527px)"></div>
<div class="hc" style="left:819px;width:3px;background:linear-gradient(#0020df 0px,#0036ca 15px,#00768a 41px,#008080 53px,#00817f 73px,#009d63 81px,#00d52b 95px,#00df21 101px,#00df20 103px,#00f807 107px,#00ff00 109px,#01ff00 111px,#27ff00 121px,#43ff00 131px,#55ff00 139px,#61ff00 145px,#7eff00 155px,#85ff00 161px,#a9ff00 171px,#b5ff00 179px,#d1ff00 189px,#deff00 203px,#eeff00 217px,#e7ff00 231px,#d5ff00 247px,#d6ff00 285px,#eeff00 305px,#e9ff00 317px,#d5ff00 333px,#d1ff00 339px,#acff00 353px,#a4ff00 359px,#81ff00 369px,#79ff00 375px,#57ff00 387px,#4aff00 395px,#2bff00 405px,#19ff00 411px,#01ff00 417px,#00ff00 419px,#00f807 421px,#00df20 425px,#00da26 431px,#00b748 441px,#00867a 453px,#008080 457px,#007c84 483px,#005fa1 497px,#002ad6 519px,#0020df 527px)"></div>
<div class="hc" style="left:822px;width:3px;background:linear-gradient(#0021de 0px,#0031cf 13px,#007a86 43px,#008080 59px,#00847c 73px,#009f61 81px,#00d629 95px,#00e41b 103px,#00fe01 107px,#04ff00 111px,#2aff00 121px,#30ff00 125px,#52ff00 135px,#5fff00 143px,#7cff00 153px,#84ff00 159px,#a8ff00 169px,#b3ff00 177px,#d3ff00 189px,#deff00 201px,#f2ff00 215px,#efff00 227px,#d5ff00 245px,#d5ff00 283px,#f2ff00 305px,#eeff00 317px,#d5ff00 335px,#d0ff00 341px,#abff00 355px,#a2ff00 361px,#84ff00 369px,#72ff00 379px,#55ff00 389px,#4dff00 395px,#2bff00 405px,#24ff00 409px,#04ff00 417px,#00fe01 421px,#00e41b 425px,#00d02f 435px,#008977 453px,#00817f 461px,#007d83 483px,#00639d 495px,#002dd3 517px,#0021de 527px)"></div>
<div class="hc" style="left:825px;width:3px;background:linear-gradient(#0022dd 0px,#0030d0 13px,#006898 35px,#007e82 45px,#00867a 71px,#009a65 79px,#00d827 95px,#00e11f 101px,#00fa05 105px,#03ff00 109px,#2bff00 121px,#3aff00 127px,#54ff00 135px,#5dff00 141px,#7cff00 151px,#89ff00 159px,#a7ff00 167px,#b2ff00 175px,#d2ff00 187px,#dfff00 199px,#f6ff00 213px,#f5ff00 225px,#d5ff00 245px,#d3ff00 273px,#daff00 287px,#f6ff00 305px,#f4ff00 317px,#d5ff00 337px,#cfff00 343px,#adff00 355px,#a7ff00 361px,#84ff00 371px,#77ff00 379px,#58ff00 389px,#50ff00 395px,#2eff00 405px,#1fff00 411px,#03ff00 419px,#00fa05 423px,#00e11f 427px,#00d827 433px,#008d72 453px,#00827e 461px,#007c84 485px,#0030d0 515px,#0022dd 527px)"></div>
<div class="hc" style="left:828px;width:3px;background:linear-gradient(#0022dd 0px,#002fd1 13px,#005aa6 31px,#008080 45px,#008779 69px,#009769 77px,#00db25 95px,#00df20 99px,#00f30c 103px,#00ff00 105px,#0aff00 111px,#28ff00 119px,#35ff00 125px,#53ff00 133px,#5aff00 139px,#7dff00 149px,#89ff00 157px,#aaff00 167px,#b5ff00 175px,#d2ff00 185px,#deff00 197px,#f9ff00 211px,#f9ff00 225px,#d6ff00 245px,#d1ff00 269px,#dbff00 287px,#f9ff00 303px,#f9ff00 317px,#d6ff00 337px,#cdff00 345px,#acff00 357px,#a5ff00 363px,#83ff00 373px,#77ff00 381px,#5aff00 389px,#4dff00 397px,#2fff00 405px,#22ff00 411px,#05ff00 419px,#00ff00 423px,#00e619 427px,#00df20 429px,#00db25 433px,#00926e 453px,#00837d 463px,#007c84 485px,#0036c9 511px,#0023dd 525px,#0022dd 527px)"></div>
<div class="hc" style="left:831px;width:3px;background:linear-gradient(#0022de 0px,#0030cf 15px,#005da3 33px,#007f81 45px,#008779 67px,#009b65 77px,#00db24 95px,#00df20 99px,#00e619 101px,#00ff00 105px,#0bff00 111px,#2bff00 119px,#36ff00 125px,#55ff00 133px,#5dff00 139px,#80ff00 149px,#87ff00 155px,#a9ff00 165px,#b3ff00 173px,#d4ff00 185px,#ddff00 195px,#feff00 211px,#fdff00 225px,#d7ff00 245px,#ceff00 267px,#dcff00 287px,#fdff00 303px,#fcff00 319px,#d7ff00 337px,#d0ff00 345px,#aeff00 357px,#a3ff00 365px,#83ff00 375px,#7aff00 381px,#58ff00 391px,#55ff00 395px,#30ff00 405px,#24ff00 411px,#05ff00 419px,#00ff00 423px,#00e619 427px,#00df20 429px,#00db24 433px,#00956b 453px,#00847c 465px,#007f81 483px,#0038c7 509px,#0023dc 523px,#0022de 527px)"></div>
<div class="hc" style="left:834px;width:3px;background:linear-gradient(#0021df 0px,#002ed2 15px,#0053ad 31px,#007c84 45px,#008977 67px,#009d63 77px,#00d926 95px,#00e11f 101px,#00fb04 105px,#03ff00 109px,#29ff00 119px,#35ff00 125px,#53ff00 133px,#65ff00 141px,#80ff00 149px,#90ff00 157px,#aaff00 165px,#b5ff00 173px,#d5ff00 185px,#deff00 195px,#ffff00 209px,#ffff04 213px,#ffff12 217px,#ffff00 225px,#d9ff00 243px,#caff00 265px,#dcff00 287px,#ffff00 303px,#ffff12 311px,#ffff00 317px,#f7ff00 323px,#d8ff00 337px,#d1ff00 345px,#adff00 359px,#a5ff00 365px,#86ff00 375px,#74ff00 383px,#59ff00 391px,#4dff00 397px,#2eff00 405px,#23ff00 411px,#03ff00 419px,#00fb04 423px,#00e11f 427px,#00d42b 435px,#009769 453px,#00857b 465px,#007c84 483px,#0039c6 507px,#0024dc 521px,#0021df 527px)"></div>
<div class="hc" style="left:837px;width:3px;background:linear-gradient(#001fe0 0px,#002bd5 15px,#004eb2 31px,#007c84 47px,#008a76 67px,#00a35c 79px,#00d728 95px,#00df20 101px,#00fe01 107px,#00ff00 109px,#27ff00 119px,#32ff00 125px,#55ff00 135px,#6cff00 143px,#83ff00 151px,#a8ff00 165px,#bbff00 175px,#d5ff00 185px,#dfff00 195px,#ffff00 209px,#ffff0a 213px,#ffff1f 217px,#ffff00 225px,#d8ff00 243px,#c6ff00 265px,#dfff00 289px,#ffff00 303px,#ffff1f 311px,#ffff02 317px,#f7ff00 323px,#d8ff00 337px,#d2ff00 345px,#adff00 359px,#9eff00 367px,#83ff00 377px,#6cff00 385px,#42ff00 399px,#2cff00 405px,#21ff00 411px,#00ff00 419px,#00fe01 421px,#00df20 427px,#00d22d 435px,#009867 453px,#00847c 467px,#007c84 481px,#003ac6 505px,#0021de 521px,#001fe0 527px)"></div>
<div class="hc" style="left:840px;width:3px;background:linear-gradient(#001ce3 0px,#002ad5 17px,#004db3 33px,#007e82 49px,#008c74 69px,#00a956 81px,#00d629 95px,#00e01f 103px,#00f807 107px,#00ff00 109px,#25ff00 119px,#36ff00 127px,#53ff00 135px,#63ff00 141px,#80ff00 149px,#90ff00 157px,#aaff00 167px,#c6ff00 179px,#d4ff00 185px,#deff00 195px,#ffff00 211px,#ffff04 219px,#f9ff00 227px,#d7ff00 243px,#cbff00 255px,#c2ff00 265px,#e1ff00 291px,#ffff02 305px,#ffff04 313px,#f9ff00 321px,#d8ff00 337px,#d1ff00 345px,#adff00 359px,#96ff00 369px,#82ff00 377px,#73ff00 383px,#56ff00 391px,#46ff00 397px,#2bff00 405px,#1fff00 411px,#00ff00 419px,#00ec13 423px,#00e01f 425px,#00d12e 435px,#009868 453px,#00837c 467px,#007e82 479px,#003ec2 501px,#0022dd 517px,#001ce3 527px)"></div>
<div class="hc" style="left:843px;width:3px;background:linear-gradient(#0019e6 0px,#0026d9 17px,#004bb5 35px,#008080 51px,#008878 67px,#00a15e 79px,#00d62a 95px,#00e41b 103px,#00fb04 107px,#01ff00 109px,#28ff00 121px,#33ff00 127px,#55ff00 137px,#68ff00 143px,#7fff00 149px,#87ff00 155px,#aaff00 167px,#bfff00 177px,#d5ff00 187px,#e0ff00 197px,#faff00 211px,#f7ff00 225px,#d6ff00 243px,#caff00 253px,#beff00 263px,#c7ff00 273px,#d5ff00 283px,#e7ff00 295px,#f9ff00 305px,#f8ff00 319px,#d7ff00 337px,#cfff00 345px,#adff00 359px,#9bff00 367px,#83ff00 375px,#7fff00 379px,#5aff00 389px,#43ff00 397px,#2eff00 403px,#1eff00 411px,#01ff00 419px,#00fb04 421px,#00e41b 425px,#00d02f 435px,#009769 453px,#00847c 465px,#007c84 479px,#0046ba 495px,#0023dc 513px,#0019e6 527px)"></div>
<div class="hc" style="left:846px;width:3px;background:linear-gradient(#0016ea 0px,#0024db 19px,#0048b8 37px,#007e82 51px,#008977 69px,#00a55b 81px,#00db24 97px,#00df20 101px,#00ff00 107px,#2bff00 123px,#30ff00 127px,#55ff00 137px,#5cff00 141px,#7cff00 149px,#85ff00 155px,#aaff00 167px,#b7ff00 175px,#d4ff00 187px,#e0ff00 199px,#f3ff00 211px,#f0ff00 225px,#d6ff00 241px,#c8ff00 251px,#baff00 261px,#bdff00 271px,#d5ff00 285px,#e9ff00 299px,#f3ff00 309px,#eeff00 321px,#d6ff00 337px,#ccff00 345px,#abff00 359px,#a6ff00 363px,#80ff00 375px,#7cff00 379px,#56ff00 389px,#50ff00 393px,#2bff00 403px,#23ff00 409px,#00ff00 421px,#00df20 427px,#00d629 433px,#00946c 453px,#00837d 465px,#007e82 477px,#0048b8 491px,#0024db 509px,#0016ea 527px)"></div>
<div class="hc" style="left:849px;width:3px;background:linear-gradient(#0012ed 0px,#001fe1 19px,#003fc0 37px,#0054ac 43px,#007888 51px,#008080 57px,#008977 71px,#00a15f 81px,#00db24 97px,#00e01f 101px,#00ff00 107px,#29ff00 123px,#35ff00 129px,#53ff00 137px,#60ff00 143px,#7dff00 151px,#90ff00 159px,#a8ff00 167px,#b9ff00 177px,#d4ff00 189px,#e2ff00 203px,#ecff00 215px,#e3ff00 229px,#d0ff00 245px,#b9ff00 255px,#b5ff00 269px,#c5ff00 279px,#d4ff00 285px,#e3ff00 299px,#ecff00 313px,#dfff00 327px,#ceff00 343px,#acff00 357px,#a4ff00 363px,#80ff00 375px,#70ff00 381px,#59ff00 387px,#4dff00 393px,#2fff00 401px,#1cff00 411px,#00ff00 421px,#00e01f 427px,#00d52a 433px,#00956b 451px,#00847c 461px,#007d83 475px,#006898 481px,#0045bb 489px,#0021de 507px,#0012ed 525px,#0012ed 527px)"></div>
<div class="hc" style="left:852px;width:3px;background:linear-gradient(#000ef1 0px,#0019e6 19px,#0038c7 37px,#004db3 43px,#007090 51px,#007f81 59px,#008878 73px,#00a35d 83px,#00d926 97px,#00e51a 103px,#00ff00 107px,#06ff00 111px,#28ff00 123px,#32ff00 129px,#55ff00 139px,#5bff00 143px,#80ff00 153px,#9bff00 163px,#aaff00 169px,#b5ff00 177px,#d3ff00 189px,#e5ff00 217px,#d3ff00 241px,#b3ff00 253px,#afff00 269px,#b7ff00 277px,#d3ff00 287px,#e5ff00 311px,#d9ff00 329px,#cfff00 341px,#adff00 355px,#a7ff00 361px,#83ff00 373px,#73ff00 379px,#56ff00 387px,#50ff00 391px,#2dff00 401px,#19ff00 411px,#01ff00 419px,#00ff00 421px,#00e51a 425px,#00d22d 433px,#00966a 449px,#00837d 459px,#007a86 473px,#006997 479px,#003ec2 489px,#001ce3 507px,#000ef1 525px,#000ef1 527px)"></div>
<div class="hc" style="left:855px;width:3px;background:linear-gradient(#000af6 0px,#0016e9 21px,#0034cc 37px,#0059a6 47px,#00748c 55px,#008080 67px,#008c74 77px,#00b54a 89px,#00db25 99px,#00df20 103px,#00fd02 109px,#2aff00 125px,#34ff00 131px,#52ff00 139px,#5fff00 145px,#7cff00 153px,#a8ff00 169px,#b6ff00 179px,#d3ff00 191px,#dfff00 219px,#d3ff00 239px,#aeff00 251px,#aaff00 269px,#aeff00 277px,#d3ff00 289px,#deff00 315px,#cfff00 339px,#abff00 355px,#a3ff00 361px,#6eff00 379px,#59ff00 385px,#4cff00 391px,#2eff00 399px,#20ff00 407px,#00fd02 419px,#00df20 425px,#00d52b 431px,#00916f 449px,#00817f 459px,#007888 471px,#00629e 479px,#0039c6 489px,#0019e6 505px,#000af5 523px,#000af6 527px)"></div>
<div class="hc" style="left:858px;width:3px;background:linear-gradient(#0006f9 0px,#0011ee 21px,#0030cf 37px,#006e92 55px,#007f81 67px,#008779 77px,#00a759 87px,#00d52a 99px,#00e817 107px,#00ff00 111px,#2bff00 127px,#30ff00 131px,#55ff00 141px,#5aff00 145px,#80ff00 155px,#90ff00 163px,#a9ff00 171px,#b7ff00 181px,#d2ff00 193px,#d9ff00 221px,#d0ff00 237px,#abff00 249px,#a6ff00 269px,#afff00 281px,#d0ff00 291px,#daff00 311px,#d2ff00 335px,#acff00 353px,#a4ff00 359px,#86ff00 369px,#7aff00 375px,#5aff00 383px,#4fff00 389px,#30ff00 397px,#20ff00 405px,#00ff00 417px,#00e11e 423px,#00cf30 431px,#00916f 447px,#00817e 455px,#007789 469px,#005ba4 479px,#0030cf 491px,#0011ee 507px,#0006f9 527px)"></div>
<div class="hc" style="left:861px;width:3px;background:linear-gradient(#0002fd 0px,#000cf3 21px,#002dd2 37px,#006e92 57px,#007f81 69px,#00867a 79px,#00a858 89px,#00d52a 101px,#00e51a 109px,#00fc03 113px,#0fff00 121px,#2bff00 129px,#37ff00 135px,#51ff00 141px,#62ff00 149px,#7fff00 155px,#8aff00 163px,#aaff00 173px,#b2ff00 181px,#d1ff00 195px,#d4ff00 223px,#d1ff00 233px,#bbff00 241px,#aaff00 247px,#a2ff00 267px,#adff00 283px,#ceff00 293px,#d4ff00 303px,#d3ff00 331px,#c1ff00 341px,#abff00 351px,#a5ff00 357px,#85ff00 367px,#7fff00 373px,#5bff00 381px,#51ff00 387px,#30ff00 395px,#27ff00 401px,#09ff00 409px,#00fc03 415px,#00e51a 419px,#00d030 429px,#008b75 447px,#008080 455px,#00768a 467px,#0056aa 479px,#0023dd 495px,#000af5 509px,#0002fd 527px)"></div>
<div class="hc" style="left:864px;width:3px;background:linear-gradient(#0000ff 0px,#0008f8 21px,#002ad6 37px,#006d92 59px,#007f81 71px,#00867a 81px,#00b24d 93px,#00d629 103px,#00e21e 111px,#00ff00 117px,#05ff00 121px,#28ff00 129px,#2fff00 135px,#52ff00 143px,#5aff00 149px,#7dff00 157px,#88ff00 165px,#a5ff00 173px,#b7ff00 185px,#d0ff00 197px,#d3ff00 221px,#cbff00 233px,#aaff00 245px,#a0ff00 267px,#aaff00 283px,#cbff00 295px,#d4ff00 311px,#d0ff00 331px,#acff00 349px,#a5ff00 355px,#83ff00 365px,#7dff00 371px,#5aff00 379px,#52ff00 385px,#2fff00 393px,#28ff00 399px,#05ff00 407px,#00ff00 411px,#00e21e 417px,#00d629 425px,#00a25e 439px,#00867a 447px,#00758b 465px,#0051af 479px,#001ae5 497px,#0005fa 509px,#0000ff 527px)"></div>
<div class="hc" style="left:867px;width:3px;background:linear-gradient(#0000ff 0px,#0004fb 21px,#0026d9 37px,#006e92 61px,#007f81 73px,#00817f 81px,#00a45c 91px,#00d02f 103px,#00df21 113px,#00df20 115px,#00ea15 117px,#00fc03 119px,#03ff00 123px,#27ff00 131px,#2eff00 137px,#52ff00 145px,#59ff00 151px,#7cff00 159px,#82ff00 165px,#a6ff00 175px,#b3ff00 185px,#cdff00 197px,#d3ff00 213px,#caff00 231px,#aaff00 245px,#9eff00 265px,#aeff00 285px,#caff00 297px,#d3ff00 315px,#cdff00 331px,#aaff00 349px,#a0ff00 355px,#82ff00 363px,#7cff00 369px,#59ff00 377px,#52ff00 383px,#2eff00 391px,#27ff00 397px,#03ff00 405px,#00fc03 409px,#00ea15 411px,#00df20 413px,#00d52b 423px,#00ac53 435px,#00867a 445px,#007f80 453px,#00728e 465px,#0046ba 481px,#0012ed 499px,#0002fd 509px,#0000ff 527px)"></div>
<div class="hc" style="left:870px;width:3px;background:linear-gradient(#0000fe 0px,#0002fd 21px,#001ee2 35px,#006e92 63px,#007f81 75px,#00837c 83px,#00ca36 103px,#00e21d 117px,#00fc03 121px,#00ff00 123px,#28ff00 133px,#2bff00 137px,#4dff00 145px,#55ff00 151px,#7dff00 161px,#80ff00 165px,#a4ff00 175px,#b6ff00 187px,#cdff00 199px,#d1ff00 217px,#c6ff00 231px,#aaff00 245px,#9fff00 265px,#adff00 285px,#cbff00 301px,#d1ff00 321px,#c7ff00 333px,#aaff00 347px,#a4ff00 353px,#80ff00 363px,#77ff00 369px,#55ff00 377px,#4dff00 383px,#2bff00 391px,#22ff00 397px,#00ff00 405px,#00fc03 407px,#00e21d 411px,#00ca36 425px,#00837c 445px,#00768a 461px,#004eb1 477px,#0014eb 497px,#0000ff 509px,#0000fe 527px)"></div>
<div class="hc" style="left:873px;width:3px;background:linear-gradient(#0000fe 0px,#0003fc 23px,#0020df 37px,#006b95 63px,#007e82 75px,#00837d 83px,#00aa56 95px,#00ce31 107px,#00df20 115px,#00fd02 121px,#00ff00 123px,#2bff00 135px,#32ff00 139px,#52ff00 147px,#5dff00 153px,#80ff00 163px,#90ff00 169px,#a8ff00 177px,#b6ff00 187px,#ceff00 201px,#cfff00 219px,#c1ff00 233px,#abff00 245px,#a3ff00 267px,#adff00 285px,#cbff00 303px,#d0ff00 323px,#c3ff00 335px,#acff00 347px,#a4ff00 353px,#83ff00 363px,#74ff00 369px,#58ff00 377px,#4cff00 383px,#2bff00 391px,#26ff00 395px,#00ff00 405px,#00fd02 407px,#00df20 413px,#00b847 429px,#008779 443px,#008080 449px,#00738c 461px,#0044bb 479px,#000df3 499px,#0000ff 509px,#0000fe 527px)"></div>
<div class="hc" style="left:876px;width:3px;background:linear-gradient(#0000fe 0px,#0002fd 23px,#0017e8 35px,#00718f 67px,#008080 77px,#00867a 85px,#00cb34 107px,#00df20 115px,#00ff00 121px,#0eff00 127px,#2bff00 135px,#46ff00 143px,#55ff00 149px,#6bff00 157px,#a6ff00 175px,#bbff00 189px,#cfff00 203px,#ceff00 221px,#b9ff00 237px,#aaff00 249px,#a9ff00 271px,#afff00 285px,#ccff00 305px,#d0ff00 323px,#bfff00 337px,#aaff00 349px,#a1ff00 355px,#59ff00 377px,#4dff00 383px,#2fff00 391px,#16ff00 399px,#02ff00 405px,#00ff00 407px,#00df20 413px,#00ad52 431px,#00867a 443px,#00758b 459px,#0040bf 479px,#000af5 499px,#0000ff 509px,#0000fe 527px)"></div>
<div class="hc" style="left:879px;width:3px;background:linear-gradient(#0000fe 0px,#0002fd 25px,#001ae6 37px,#00738d 69px,#008080 77px,#00857b 85px,#00aa55 97px,#00e718 117px,#00fe01 121px,#0eff00 127px,#55ff00 147px,#5dff00 153px,#a8ff00 175px,#bdff00 189px,#cfff00 203px,#ceff00 221px,#adff00 249px,#aeff00 281px,#ceff00 307px,#cfff00 325px,#bdff00 339px,#a3ff00 355px,#5dff00 375px,#4fff00 383px,#07ff00 403px,#00fe01 407px,#00df20 413px,#00aa55 431px,#00857b 443px,#007788 457px,#003cc3 479px,#000bf4 497px,#0000ff 507px,#0000fe 527px)"></div>
<div class="hc" style="left:882px;width:3px;background:linear-gradient(#0000fe 0px,#0002fd 27px,#0021de 41px,#00768a 71px,#008080 79px,#008779 87px,#00d52b 111px,#00e01f 117px,#00ff00 123px,#54ff00 147px,#5cff00 153px,#aaff00 175px,#b8ff00 185px,#ceff00 199px,#d0ff00 217px,#bbff00 239px,#b0ff00 255px,#b4ff00 283px,#cfff00 309px,#cfff00 327px,#bcff00 341px,#aaff00 351px,#a5ff00 355px,#5cff00 375px,#4eff00 383px,#00ff00 405px,#00e01f 411px,#00d52b 417px,#008779 441px,#007a86 455px,#003fc1 477px,#0009f6 497px,#0000ff 507px,#0000fe 527px)"></div>
<div class="hc" style="left:885px;width:3px;background:linear-gradient(#0000fe 0px,#0003fc 29px,#002fd0 47px,#007789 73px,#00857b 87px,#00d52b 111px,#00df20 117px,#00ff00 123px,#09ff00 127px,#2bff00 135px,#33ff00 139px,#52ff00 147px,#5bff00 153px,#a6ff00 173px,#ceff00 197px,#d1ff00 217px,#b6ff00 253px,#b9ff00 283px,#d2ff00 313px,#ccff00 333px,#a6ff00 355px,#56ff00 377px,#4cff00 383px,#2dff00 391px,#24ff00 395px,#03ff00 403px,#00ff00 405px,#00df20 411px,#00ca36 421px,#00857b 441px,#007789 455px,#000af5 495px,#0000ff 503px,#0000fe 527px)"></div>
<div class="hc" style="left:888px;width:3px;background:linear-gradient(#0000fe 0px,#0002fd 29px,#002cd4 47px,#00758b 73px,#007f81 83px,#008977 89px,#00d02f 109px,#00df20 117px,#00ff00 123px,#00ff00 125px,#2bff00 135px,#2bff00 137px,#51ff00 147px,#5cff00 153px,#aaff00 175px,#ceff00 193px,#d3ff00 215px,#bdff00 251px,#c1ff00 287px,#d3ff00 317px,#ceff00 335px,#9fff00 357px,#57ff00 377px,#4bff00 383px,#2bff00 391px,#2bff00 393px,#00ff00 403px,#00ff00 405px,#00df20 411px,#00ca35 421px,#00847c 441px,#00758b 455px,#000df2 493px,#0000ff 501px,#0000fe 527px)"></div>
<div class="hc" style="left:891px;width:3px;background:linear-gradient(#0000fe 0px,#0002fd 29px,#0023dd 45px,#007789 75px,#00847c 87px,#00d629 111px,#00e01f 117px,#00ff00 123px,#14ff00 129px,#2bff00 135px,#3cff00 141px,#52ff00 147px,#60ff00 153px,#7dff00 161px,#90ff00 167px,#aaff00 175px,#cfff00 191px,#d4ff00 211px,#c3ff00 251px,#c7ff00 291px,#d4ff00 319px,#cfff00 337px,#a0ff00 357px,#81ff00 365px,#68ff00 373px,#55ff00 379px,#44ff00 385px,#2eff00 391px,#1dff00 397px,#04ff00 403px,#00ff00 405px,#00e01f 411px,#00d12e 419px,#00847c 441px,#00738d 455px,#0014eb 489px,#0000ff 501px,#0000fe 527px)"></div>
<div class="hc" style="left:894px;width:3px;background:linear-gradient(#0000fe 0px,#0002fd 29px,#001fe0 45px,#00758b 75px,#00847c 87px,#00d728 111px,#00e619 117px,#00fe01 121px,#00ff00 123px,#27ff00 133px,#36ff00 139px,#55ff00 147px,#5bff00 151px,#7cff00 159px,#8bff00 165px,#a8ff00 173px,#c1ff00 183px,#d3ff00 191px,#d2ff00 221px,#c9ff00 249px,#ccff00 295px,#d5ff00 325px,#d0ff00 339px,#9bff00 359px,#80ff00 367px,#6cff00 373px,#55ff00 379px,#4fff00 383px,#2fff00 391px,#21ff00 397px,#00ff00 405px,#00fe01 407px,#00df20 413px,#00c53a 423px,#00847c 441px,#00758b 453px,#001be5 485px,#0002fd 499px,#0000fe 527px)"></div>
<div class="hc" style="left:897px;width:3px;background:linear-gradient(#0000fe 0px,#0002fd 29px,#001ce4 45px,#004fb1 63px,#007987 77px,#008a76 89px,#00d926 111px,#00df20 115px,#00ff00 121px,#2bff00 133px,#30ff00 137px,#55ff00 147px,#65ff00 153px,#80ff00 159px,#87ff00 163px,#aaff00 173px,#b0ff00 177px,#d3ff00 189px,#d5ff00 211px,#ceff00 247px,#d0ff00 301px,#d6ff00 331px,#cfff00 341px,#abff00 353px,#a5ff00 357px,#81ff00 367px,#80ff00 369px,#58ff00 379px,#48ff00 385px,#2bff00 393px,#25ff00 397px,#00ff00 407px,#00df20 413px,#00d42c 419px,#008a76 439px,#008080 445px,#00748c 453px,#0020df 481px,#0004fb 497px,#0000fe 525px,#0000fe 527px)"></div>
<div class="hc" style="left:900px;width:3px;background:linear-gradient(#0000fd 0px,#0003fc 31px,#001ce3 47px,#004ab6 63px,#007987 77px,#008a76 89px,#00c53b 105px,#00df20 113px,#00e01f 115px,#00ff00 121px,#2bff00 133px,#38ff00 139px,#55ff00 147px,#65ff00 153px,#85ff00 161px,#a7ff00 171px,#b8ff00 179px,#d5ff00 189px,#d9ff00 207px,#d0ff00 243px,#d3ff00 275px,#d1ff00 301px,#d9ff00 329px,#d1ff00 341px,#aaff00 355px,#9bff00 361px,#6eff00 373px,#58ff00 379px,#48ff00 385px,#2cff00 393px,#1fff00 399px,#00ff00 407px,#00e01f 413px,#00db25 417px,#008a76 439px,#007987 451px,#0025da 477px,#0008f7 493px,#0000ff 509px,#0000fd 527px)"></div>
<div class="hc" style="left:903px;width:3px;background:linear-gradient(#0000fb 0px,#0002fd 29px,#0014eb 45px,#0036c9 59px,#007d83 79px,#008a76 89px,#00b24e 101px,#00de21 113px,#00df20 115px,#00ff00 121px,#26ff00 131px,#30ff00 137px,#55ff00 147px,#5bff00 151px,#97ff00 165px,#adff00 173px,#d5ff00 189px,#dcff00 205px,#d1ff00 235px,#d7ff00 269px,#d2ff00 301px,#dcff00 329px,#d1ff00 341px,#adff00 355px,#97ff00 363px,#6cff00 373px,#55ff00 379px,#4fff00 383px,#2bff00 393px,#26ff00 397px,#00ff00 407px,#00df20 413px,#00d926 417px,#008f71 437px,#00817f 445px,#007888 451px,#002ad5 473px,#000bf4 489px,#0000ff 505px,#0000fb 527px)"></div>
<div class="hc" style="left:906px;width:3px;background:linear-gradient(#0000f9 0px,#0001fe 29px,#0013ec 47px,#002fd0 59px,#007c84 79px,#008d73 91px,#00b749 103px,#00da25 113px,#00e917 117px,#00ff00 121px,#27ff00 133px,#3eff00 141px,#55ff00 149px,#60ff00 153px,#92ff00 163px,#aeff00 173px,#d7ff00 191px,#deff00 205px,#d1ff00 229px,#d8ff00 257px,#dcff00 267px,#d3ff00 285px,#d4ff00 307px,#dfff00 327px,#d1ff00 341px,#99ff00 363px,#75ff00 371px,#59ff00 377px,#45ff00 385px,#2bff00 393px,#0fff00 403px,#00ff00 407px,#00df20 413px,#00bf41 423px,#00926d 435px,#00817f 445px,#007689 451px,#0029d6 471px,#000df2 485px,#0000ff 503px,#0000f9 527px)"></div>
<div class="hc" style="left:909px;width:3px;background:linear-gradient(#0000f6 0px,#0001fe 29px,#000ef1 47px,#0028d8 59px,#00639d 73px,#008080 81px,#008b75 91px,#00aa56 101px,#00e916 117px,#00ff00 121px,#52ff00 149px,#5bff00 153px,#8aff00 161px,#aaff00 171px,#d7ff00 191px,#deff00 205px,#cfff00 231px,#daff00 257px,#e0ff00 265px,#d5ff00 279px,#d1ff00 303px,#deff00 329px,#d1ff00 341px,#9aff00 363px,#80ff00 369px,#5bff00 375px,#1fff00 397px,#00ff00 407px,#00df20 413px,#00956b 433px,#00827e 443px,#007b85 449px,#0028d8 469px,#000ef1 481px,#0000ff 501px,#0000f6 527px)"></div>
<div class="hc" style="left:912px;width:3px;background:linear-gradient(#0000f3 0px,#0000ff 31px,#000bf4 49px,#001fe0 59px,#0048b7 69px,#007789 79px,#00817f 85px,#009070 95px,#00b54a 105px,#00e619 117px,#00ff00 121px,#06ff00 125px,#2bff00 135px,#55ff00 151px,#56ff00 153px,#80ff00 159px,#a5ff00 169px,#d7ff00 191px,#dcff00 205px,#cdff00 233px,#dcff00 259px,#deff00 267px,#d5ff00 281px,#ceff00 301px,#ddff00 327px,#d1ff00 341px,#aeff00 355px,#91ff00 365px,#80ff00 369px,#56ff00 375px,#4aff00 381px,#1cff00 397px,#01ff00 405px,#00ff00 407px,#00e619 411px,#00966a 431px,#00827e 441px,#007d83 447px,#005da3 455px,#0026da 467px,#000ef1 477px,#0001fe 495px,#0000f8 515px,#0000f3 527px)"></div>
<div class="hc" style="left:915px;width:3px;background:linear-gradient(#0000ee 0px,#0000ff 35px,#000af5 53px,#001ce3 61px,#004ab5 71px,#007a86 81px,#008080 85px,#008b75 95px,#00a65a 103px,#00de21 115px,#00df20 117px,#00ff00 123px,#07ff00 127px,#2bff00 135px,#39ff00 143px,#55ff00 153px,#5fff00 155px,#80ff00 159px,#aaff00 171px,#bcff00 181px,#d5ff00 189px,#d9ff00 207px,#d1ff00 221px,#c8ff00 231px,#d5ff00 245px,#dbff00 267px,#d0ff00 289px,#c8ff00 299px,#d5ff00 313px,#d9ff00 331px,#d5ff00 339px,#b3ff00 351px,#a4ff00 359px,#80ff00 369px,#5fff00 373px,#51ff00 377px,#2fff00 389px,#2bff00 393px,#07ff00 401px,#00ff00 405px,#00df20 411px,#00de21 413px,#009669 429px,#00847c 437px,#007f81 445px,#006a96 451px,#0023dc 465px,#000df2 473px,#0001fe 489px,#0000fa 507px,#0000ee 527px)"></div>
<div class="hc" style="left:918px;width:3px;background:linear-gradient(#0000e9 0px,#0000ff 39px,#0006f9 55px,#0019e6 63px,#00748c 81px,#008080 87px,#00867a 95px,#009f61 103px,#00d828 115px,#00e11e 119px,#00ff00 125px,#01ff00 127px,#27ff00 135px,#34ff00 143px,#57ff00 155px,#80ff00 159px,#8cff00 165px,#a7ff00 171px,#bbff00 183px,#d2ff00 191px,#d5ff00 213px,#c0ff00 229px,#cbff00 239px,#d4ff00 247px,#d6ff00 269px,#cfff00 287px,#c0ff00 297px,#caff00 307px,#d5ff00 317px,#d2ff00 337px,#afff00 351px,#a7ff00 357px,#85ff00 365px,#80ff00 369px,#57ff00 373px,#2bff00 389px,#27ff00 393px,#01ff00 401px,#00ff00 403px,#00e11e 409px,#00d02f 415px,#009769 427px,#00837d 435px,#007b85 445px,#0058a8 453px,#0019e6 465px,#0006f9 473px,#0000ff 491px,#0000e9 527px)"></div>
<div class="hc" style="left:921px;width:3px;background:linear-gradient(#0000e3 0px,#0000f4 25px,#0000ff 47px,#0005fa 59px,#0018e7 65px,#006c94 81px,#007d83 87px,#00847c 97px,#009769 103px,#00d22d 115px,#00df21 119px,#00df20 121px,#00fd02 127px,#14ff00 133px,#2aff00 139px,#3aff00 147px,#5eff00 157px,#72ff00 159px,#7eff00 161px,#89ff00 167px,#a9ff00 175px,#b6ff00 185px,#cdff00 195px,#ceff00 213px,#b8ff00 227px,#bbff00 235px,#d1ff00 249px,#d1ff00 279px,#b8ff00 297px,#c0ff00 307px,#cfff00 317px,#cbff00 335px,#aeff00 347px,#a9ff00 353px,#83ff00 363px,#7eff00 367px,#72ff00 369px,#5eff00 371px,#2fff00 385px,#25ff00 391px,#04ff00 399px,#00fd02 401px,#00df20 407px,#00d926 411px,#00b64a 419px,#008f71 427px,#00817f 433px,#007987 443px,#0059a6 451px,#000ff0 465px,#0002fd 471px,#0000fc 493px,#0000e3 525px,#0000e3 527px)"></div>
<div class="hc" style="left:924px;width:3px;background:linear-gradient(#0000dc 0px,#0000ec 23px,#0000fd 47px,#0001fe 61px,#0025db 69px,#00639d 81px,#007b85 89px,#00837d 99px,#009967 105px,#00d42b 117px,#00df20 123px,#00f40c 127px,#00ff00 129px,#01ff00 131px,#2bff00 141px,#30ff00 145px,#52ff00 155px,#55ff00 157px,#73ff00 161px,#7dff00 163px,#86ff00 169px,#a5ff00 177px,#b1ff00 189px,#c4ff00 197px,#c5ff00 211px,#b0ff00 225px,#b2ff00 235px,#cbff00 249px,#d0ff00 269px,#c6ff00 283px,#b0ff00 295px,#b4ff00 307px,#c7ff00 319px,#c4ff00 331px,#acff00 341px,#a5ff00 351px,#81ff00 361px,#7dff00 365px,#64ff00 369px,#55ff00 371px,#3eff00 379px,#2bff00 385px,#25ff00 389px,#01ff00 397px,#00ff00 399px,#00e718 403px,#00df20 405px,#00d42b 411px,#008878 427px,#008080 433px,#007789 441px,#005aa6 449px,#0007f8 465px,#0000ff 469px,#0000f6 495px,#0000dc 525px,#0000dc 527px)"></div>
<div class="hc" style="left:927px;width:3px;background:linear-gradient(#0000d4 0px,#0000e4 21px,#0000fb 47px,#0000ff 61px,#0014eb 67px,#00629e 83px,#007987 91px,#00827e 101px,#009d63 107px,#00cf30 117px,#00df21 123px,#00df20 125px,#00ff00 131px,#0cff00 135px,#27ff00 141px,#49ff00 153px,#60ff00 159px,#7cff00 165px,#83ff00 171px,#a1ff00 179px,#afff00 191px,#bfff00 201px,#bcff00 211px,#aaff00 223px,#acff00 235px,#c7ff00 251px,#cbff00 271px,#bfff00 283px,#aaff00 295px,#aeff00 309px,#bfff00 321px,#bcff00 331px,#aaff00 339px,#a1ff00 349px,#83ff00 357px,#7cff00 363px,#4fff00 373px,#2bff00 385px,#20ff00 389px,#03ff00 395px,#00ff00 397px,#00df20 403px,#00d629 409px,#00b34d 417px,#008977 425px,#008080 429px,#00758b 439px,#005aa6 447px,#000cf3 463px,#0000ff 467px,#0000f3 493px,#0000d5 523px,#0000d4 527px)"></div>
<div class="hc" style="left:930px;width:3px;background:linear-gradient(#0000cc 0px,#0000dd 21px,#0000fb 51px,#0000ff 61px,#0010ef 67px,#00619f 85px,#007b85 95px,#00857b 103px,#00ca35 117px,#00df20 125px,#00e11e 127px,#00fa05 131px,#00ff00 133px,#2bff00 143px,#55ff00 157px,#7aff00 167px,#86ff00 173px,#a0ff00 181px,#b9ff00 201px,#b2ff00 213px,#aaff00 223px,#aeff00 239px,#c5ff00 255px,#c5ff00 273px,#aeff00 289px,#aaff00 307px,#b9ff00 325px,#a4ff00 345px,#8eff00 353px,#80ff00 357px,#75ff00 363px,#3aff00 379px,#1bff00 389px,#00ff00 395px,#00fa05 397px,#00e11e 401px,#00d728 407px,#00b847 415px,#00857b 425px,#00738d 437px,#0051af 447px,#0009f6 463px,#0000ff 467px,#0000ee 493px,#0000cd 523px,#0000cc 527px)"></div>
<div class="hc" style="left:933px;width:3px;background:linear-gradient(#0000c3 0px,#0000d3 19px,#0000fc 55px,#0003fc 63px,#001ce3 71px,#0060a0 87px,#007a86 97px,#00827e 103px,#00c53a 117px,#00dd23 125px,#00e718 129px,#00fd02 133px,#0dff00 137px,#2bff00 143px,#39ff00 149px,#55ff00 157px,#5fff00 161px,#80ff00 171px,#a3ff00 183px,#b4ff00 203px,#a9ff00 227px,#afff00 241px,#c1ff00 257px,#beff00 275px,#aaff00 293px,#aeff00 315px,#b3ff00 329px,#a3ff00 345px,#67ff00 365px,#58ff00 369px,#48ff00 375px,#2dff00 383px,#23ff00 387px,#04ff00 393px,#00fd02 395px,#00df20 401px,#00cd33 409px,#00966a 421px,#00827e 425px,#00728e 435px,#0048b7 447px,#000df2 461px,#0001fe 467px,#0000ef 487px,#0000c5 523px,#0000c3 527px)"></div>
<div class="hc" style="left:936px;width:3px;background:linear-gradient(#0000ba 0px,#0000cc 19px,#0000ff 59px,#000af5 67px,#006c94 93px,#008080 103px,#00b748 115px,#00db25 125px,#00e01f 129px,#00ff00 135px,#28ff00 143px,#3fff00 151px,#53ff00 157px,#5bff00 161px,#93ff00 177px,#a9ff00 187px,#afff00 207px,#a9ff00 233px,#beff00 263px,#b4ff00 281px,#a9ff00 297px,#afff00 331px,#a7ff00 343px,#79ff00 359px,#55ff00 369px,#47ff00 375px,#2bff00 383px,#1fff00 387px,#00ff00 393px,#00e01f 399px,#00d52a 405px,#00956b 421px,#008080 425px,#006c94 435px,#002fd0 451px,#000af5 461px,#0000ff 469px,#0000bc 523px,#0000ba 527px)"></div>
<div class="hc" style="left:939px;width:3px;background:linear-gradient(#0000b1 0px,#0000c1 17px,#0000ff 59px,#0006f9 67px,#0030cf 79px,#006c93 95px,#008779 105px,#00d629 125px,#00df20 129px,#00ff00 135px,#0dff00 139px,#2bff00 145px,#69ff00 165px,#98ff00 179px,#aaff00 187px,#abff00 213px,#acff00 241px,#baff00 263px,#adff00 285px,#aaff00 313px,#abff00 337px,#a7ff00 343px,#79ff00 359px,#55ff00 369px,#23ff00 385px,#04ff00 391px,#00ff00 393px,#00df20 399px,#00c936 407px,#008080 425px,#005fa0 437px,#000bf4 459px,#0001fe 465px,#0000fa 473px,#0000b3 523px,#0000b1 527px)"></div>
<div class="hc" style="left:942px;width:3px;background:linear-gradient(#0000a8 0px,#0000ba 17px,#0000fe 61px,#0003fc 67px,#0021de 77px,#006e92 97px,#008878 107px,#00d927 127px,#00f10e 133px,#00fb04 135px,#00ff00 137px,#2bff00 145px,#68ff00 165px,#8bff00 175px,#aaff00 187px,#acff00 243px,#b7ff00 265px,#a9ff00 299px,#aaff00 341px,#79ff00 359px,#5aff00 367px,#2bff00 383px,#00ff00 391px,#00fb04 393px,#00df20 399px,#00a15f 415px,#00817f 423px,#00609f 435px,#000df2 457px,#0000ff 463px,#0000f8 473px,#0000aa 523px,#0000a8 527px)"></div>
<div class="hc" style="left:945px;width:3px;background:linear-gradient(#0000a0 0px,#0000b3 17px,#0000fc 61px,#0001fe 67px,#001be4 77px,#007789 101px,#00926e 111px,#00d42b 127px,#00df20 131px,#00ff00 137px,#04ff00 139px,#29ff00 145px,#31ff00 149px,#55ff00 159px,#5eff00 163px,#80ff00 171px,#a8ff00 187px,#a9ff00 219px,#afff00 251px,#b4ff00 269px,#a9ff00 299px,#aaff00 339px,#94ff00 349px,#79ff00 359px,#57ff00 367px,#49ff00 373px,#2bff00 381px,#29ff00 383px,#04ff00 389px,#00ff00 391px,#00df20 397px,#00bd42 407px,#00847c 421px,#006a96 431px,#000ef1 455px,#0001fe 461px,#0000f7 471px,#0000a4 521px,#0000a0 527px)"></div>
<div class="hc" style="left:948px;width:3px;background:linear-gradient(#00009a 0px,#0000aa 15px,#0000ec 53px,#0000ff 67px,#000ff0 75px,#004db3 91px,#007b85 103px,#00857b 109px,#00df20 131px,#00f00f 135px,#00fb04 137px,#00ff00 139px,#23ff00 145px,#53ff00 159px,#5cff00 163px,#80ff00 171px,#8bff00 177px,#a7ff00 189px,#a8ff00 217px,#b0ff00 255px,#b0ff00 273px,#a8ff00 311px,#a7ff00 339px,#81ff00 355px,#80ff00 357px,#55ff00 367px,#48ff00 373px,#23ff00 383px,#00ff00 389px,#00fb04 391px,#00e51a 395px,#00c13f 405px,#00857b 419px,#00758b 427px,#0015ea 451px,#0002fd 459px,#0000f9 467px,#0000a7 515px,#00009a 527px)"></div>
<div class="hc" style="left:951px;width:3px;background:linear-gradient(#00009a 0px,#0000a0 11px,#0000d6 45px,#0000ff 67px,#000bf4 75px,#0034cb 87px,#007987 103px,#008878 111px,#00c639 125px,#00de21 131px,#00df20 133px,#00ff00 139px,#13ff00 143px,#2bff00 147px,#65ff00 165px,#7dff00 171px,#a3ff00 189px,#a8ff00 205px,#a9ff00 235px,#b0ff00 269px,#a6ff00 311px,#a5ff00 337px,#89ff00 351px,#77ff00 359px,#55ff00 367px,#2bff00 381px,#08ff00 387px,#00ff00 389px,#00df20 395px,#00d828 399px,#008878 417px,#007987 425px,#0016e9 449px,#0000ff 459px,#0000ef 471px,#0000b7 501px,#00009a 523px,#00009a 527px)"></div>
<div class="hc" style="left:954px;width:3px;background:linear-gradient(#00009a 0px,#0000a0 13px,#0000c7 41px,#0000fd 67px,#0003fc 73px,#001de2 83px,#00758b 103px,#008080 107px,#00857b 111px,#00a45c 119px,#00d42c 129px,#00e817 135px,#00ff00 139px,#01ff00 141px,#2bff00 147px,#64ff00 165px,#80ff00 173px,#a0ff00 191px,#a3ff00 213px,#afff00 269px,#a3ff00 315px,#a0ff00 337px,#7bff00 357px,#35ff00 377px,#2bff00 381px,#01ff00 387px,#00ff00 389px,#00df20 395px,#00cb34 401px,#008b75 415px,#008080 419px,#007c84 423px,#0048b7 435px,#0016e9 447px,#0003fc 455px,#0000fd 461px,#0000b6 497px,#00009a 521px,#00009a 527px)"></div>
<div class="hc" style="left:957px;width:3px;background:linear-gradient(#00009a 0px,#0000a0 15px,#0000b9 37px,#0000fd 69px,#0006f9 77px,#0025da 87px,#007888 105px,#008d73 115px,#00d926 131px,#00e31c 135px,#00ff00 141px,#29ff00 147px,#32ff00 151px,#80ff00 173px,#9dff00 195px,#a5ff00 233px,#aeff00 269px,#9fff00 317px,#9aff00 337px,#7aff00 357px,#4fff00 369px,#2bff00 379px,#29ff00 381px,#00ff00 387px,#00e31c 393px,#00d12f 399px,#008d73 413px,#007888 423px,#0016e9 445px,#0003fc 453px,#0000fd 459px,#0000b6 493px,#00009b 519px,#00009a 527px)"></div>
<div class="hc" style="left:960px;width:3px;background:linear-gradient(#00009a 0px,#0000a4 25px,#0000be 43px,#0000fe 71px,#0005fa 79px,#001de2 87px,#00738d 105px,#00817f 111px,#008f71 117px,#00d62a 131px,#00df20 135px,#00ff00 141px,#14ff00 145px,#2bff00 149px,#53ff00 161px,#5eff00 165px,#80ff00 173px,#99ff00 199px,#a1ff00 231px,#abff00 249px,#abff00 277px,#a3ff00 295px,#9bff00 321px,#92ff00 339px,#80ff00 355px,#56ff00 365px,#3aff00 375px,#21ff00 381px,#07ff00 385px,#00ff00 387px,#00df20 393px,#00d62a 397px,#008f71 411px,#00817f 417px,#00738d 423px,#0016ea 443px,#0002fd 451px,#0000fe 457px,#0000b6 489px,#0000a2 505px,#00009a 527px)"></div>
<div class="hc" style="left:963px;width:3px;background:linear-gradient(#000098 0px,#0000a4 31px,#0000cb 53px,#0000fd 73px,#0001fe 79px,#0015ea 87px,#0059a7 101px,#007b85 109px,#008a76 117px,#00d926 133px,#00e718 137px,#00fe01 141px,#00ff00 143px,#2bff00 149px,#5dff00 165px,#7fff00 173px,#94ff00 201px,#9eff00 231px,#aaff00 247px,#a8ff00 287px,#97ff00 309px,#8fff00 337px,#7fff00 355px,#55ff00 365px,#2bff00 379px,#00ff00 385px,#00fe01 387px,#00df20 393px,#00c738 399px,#008a76 411px,#00748b 421px,#0015ea 441px,#0001fe 449px,#0000fa 457px,#0000ba 483px,#0000a0 501px,#000098 527px)"></div>
<div class="hc" style="left:966px;width:3px;background:linear-gradient(#00008f 0px,#00009a 23px,#0000a9 39px,#0000d2 59px,#0000fb 75px,#0000ff 81px,#0015ea 89px,#005ba5 103px,#007c84 111px,#00867a 117px,#00aa55 125px,#00d728 133px,#00df20 135px,#00e11f 137px,#00ff00 143px,#08ff00 145px,#24ff00 149px,#4bff00 159px,#62ff00 167px,#7eff00 175px,#90ff00 205px,#9bff00 233px,#a8ff00 251px,#a5ff00 285px,#93ff00 309px,#87ff00 341px,#7aff00 355px,#55ff00 365px,#35ff00 375px,#24ff00 379px,#08ff00 383px,#00ff00 385px,#00e11f 391px,#00df20 393px,#00b64a 401px,#008d73 409px,#00817f 413px,#00768a 419px,#0015ea 439px,#0000ff 447px,#0000f8 455px,#0000bb 479px,#00009d 499px,#000093 521px,#00008f 527px)"></div>
<div class="hc" style="left:969px;width:3px;background:linear-gradient(#00007e 0px,#000099 25px,#0000a4 39px,#0000c3 57px,#0000f9 77px,#0001fe 83px,#0015eb 91px,#007789 111px,#008f71 121px,#00ba46 129px,#00db25 135px,#00e41c 139px,#00fe01 143px,#00ff00 145px,#1bff00 149px,#2bff00 151px,#51ff00 161px,#5dff00 167px,#7dff00 177px,#8bff00 209px,#98ff00 235px,#a3ff00 253px,#9fff00 285px,#8dff00 311px,#7fff00 349px,#6cff00 357px,#58ff00 363px,#4bff00 369px,#2bff00 377px,#0bff00 381px,#00ff00 383px,#00fe01 385px,#00e41c 389px,#00db25 393px,#008f71 407px,#007090 419px,#0015eb 437px,#0001fe 445px,#0000f5 453px,#0000bb 475px,#00009b 497px,#000092 511px,#00007e 527px)"></div>
<div class="hc" style="left:972px;width:3px;background:linear-gradient(#00006a 0px,#00007c 13px,#000098 27px,#0000ab 49px,#0000c9 63px,#0000fc 81px,#0003fc 87px,#0014eb 93px,#00718f 111px,#00817f 117px,#008f71 123px,#00bc44 131px,#00dc24 137px,#00df20 139px,#00ff00 145px,#02ff00 147px,#22ff00 151px,#49ff00 159px,#66ff00 171px,#7eff00 181px,#91ff00 233px,#9bff00 255px,#97ff00 287px,#88ff00 315px,#7eff00 347px,#55ff00 363px,#49ff00 369px,#22ff00 377px,#02ff00 381px,#00ff00 383px,#00df20 389px,#00d42c 393px,#009868 403px,#00837d 409px,#007888 415px,#0047b9 425px,#0014eb 435px,#0003fc 441px,#0000fc 447px,#0000b6 473px,#00009c 493px,#000092 505px,#00006b 525px,#00006a 527px)"></div>
<div class="hc" style="left:975px;width:3px;background:linear-gradient(#000052 0px,#000065 11px,#000096 29px,#0000a9 53px,#0000c3 65px,#0000fc 83px,#0002fd 89px,#0013ec 95px,#00728e 113px,#007f81 117px,#008779 123px,#00a25d 129px,#00d52b 137px,#00ff00 147px,#06ff00 149px,#2bff00 153px,#4eff00 161px,#6eff00 177px,#7dff00 187px,#8eff00 237px,#93ff00 267px,#8cff00 293px,#7bff00 343px,#69ff00 353px,#47ff00 369px,#2bff00 375px,#06ff00 379px,#00ff00 381px,#00ca36 393px,#009769 401px,#00827e 407px,#007a86 413px,#0047b8 423px,#0013ec 433px,#0002fd 439px,#0000fc 445px,#0000b4 469px,#00009f 485px,#000096 499px,#000057 523px,#000052 527px)"></div>
<div class="hc" style="left:978px;width:3px;background:linear-gradient(#000038 0px,#00004a 9px,#000094 31px,#00009a 39px,#0000a7 57px,#0000bd 67px,#0000fa 85px,#0001fe 91px,#001ce3 99px,#00728e 115px,#008080 121px,#00857b 125px,#00a25e 131px,#00d728 139px,#00df20 141px,#00e11e 143px,#00fa05 147px,#00ff00 149px,#0cff00 151px,#21ff00 153px,#44ff00 159px,#55ff00 165px,#60ff00 175px,#78ff00 191px,#83ff00 225px,#8bff00 261px,#86ff00 295px,#78ff00 337px,#60ff00 353px,#52ff00 365px,#3aff00 371px,#21ff00 375px,#0cff00 377px,#00ff00 379px,#00fa05 381px,#00e11e 385px,#00df20 387px,#00be41 393px,#00956a 399px,#00857b 403px,#007987 411px,#0053ad 419px,#0013ec 431px,#0001fe 437px,#0000fa 443px,#0000b2 465px,#00009e 479px,#000098 495px,#00006c 509px,#00003e 523px,#000038 527px)"></div>
<div class="hc" style="left:981px;width:3px;background:linear-gradient(#00001d 0px,#000034 9px,#00008e 33px,#000099 45px,#0000a4 61px,#0000be 71px,#0000f8 87px,#0002fd 93px,#0012ed 99px,#00708f 117px,#007f81 123px,#00837d 127px,#00956b 131px,#00cf30 139px,#00df20 143px,#00e41b 145px,#00fd02 149px,#00ff00 151px,#2bff00 155px,#4aff00 161px,#55ff00 167px,#5cff00 177px,#78ff00 203px,#83ff00 245px,#7eff00 311px,#72ff00 333px,#55ff00 359px,#50ff00 365px,#38ff00 371px,#2bff00 373px,#00ff00 377px,#00fd02 379px,#00e41b 383px,#00da25 387px,#00b24e 393px,#008a76 399px,#008080 403px,#007788 409px,#0052ad 417px,#0012ed 429px,#0002fd 435px,#0000f8 441px,#0000ac 463px,#00009c 475px,#000095 491px,#000082 499px,#000020 525px,#00001d 527px)"></div>
<div class="hc" style="left:984px;width:3px;background:linear-gradient(#000004 0px,#000027 11px,#00007a 31px,#000091 41px,#00009f 63px,#0000ba 73px,#0000f6 89px,#0000ff 93px,#0009f6 99px,#002fd1 107px,#006e92 119px,#007e82 125px,#00817f 129px,#009769 133px,#00d32d 141px,#00dc23 143px,#00e718 147px,#00ff00 151px,#04ff00 153px,#1cff00 155px,#3bff00 159px,#50ff00 165px,#62ff00 191px,#78ff00 213px,#7eff00 239px,#7bff00 309px,#6cff00 329px,#56ff00 351px,#50ff00 363px,#3bff00 369px,#1cff00 373px,#04ff00 375px,#00ff00 377px,#00df20 383px,#00dc23 385px,#00c53a 389px,#008a76 397px,#00817f 399px,#007a86 405px,#005ba4 413px,#0011ee 427px,#0001fe 433px,#0000fb 437px,#0000d1 449px,#0000a7 461px,#00009b 469px,#000091 487px,#00007a 497px,#000008 525px,#000004 527px)"></div>
<div class="hc" style="left:987px;width:3px;background:linear-gradient(#000000 0px,#000000 5px,#000030 17px,#000071 33px,#00008b 45px,#000099 61px,#0000a3 69px,#0000cc 81px,#0000fa 93px,#0000ff 97px,#0010f0 103px,#006b95 121px,#007f81 129px,#008d73 133px,#00d62a 143px,#00de21 145px,#00df20 147px,#00ff00 153px,#0aff00 155px,#2bff00 157px,#47ff00 163px,#53ff00 171px,#5bff00 193px,#75ff00 217px,#79ff00 239px,#77ff00 307px,#65ff00 327px,#55ff00 343px,#4fff00 361px,#40ff00 367px,#2bff00 371px,#0aff00 373px,#00ff00 375px,#00df20 381px,#00de21 383px,#00c936 387px,#008d73 395px,#007f81 399px,#006b95 407px,#0010f0 425px,#0000ff 431px,#0000f4 437px,#0000ae 455px,#00009b 463px,#00008e 481px,#000077 493px,#00004b 505px,#000005 521px,#000000 525px,#000000 527px)"></div>
<div class="hc" style="left:990px;width:3px;background:linear-gradient(#000000 0px,#000000 9px,#000031 21px,#000067 35px,#00008c 53px,#0000a4 73px,#0000c8 83px,#0000f3 93px,#0000ff 99px,#000ff0 105px,#006898 123px,#00857a 133px,#00ae52 139px,#00d828 145px,#00df20 147px,#00e11e 149px,#00f906 153px,#00ff00 155px,#2bff00 157px,#2dff00 159px,#47ff00 165px,#52ff00 175px,#5bff00 199px,#71ff00 219px,#74ff00 247px,#73ff00 307px,#5eff00 327px,#54ff00 341px,#4eff00 359px,#41ff00 365px,#2dff00 369px,#2bff00 371px,#00ff00 373px,#00ed12 377px,#00e11e 379px,#00df20 381px,#00cc34 385px,#009070 393px,#008080 397px,#006898 405px,#000ff0 423px,#0000ff 429px,#0000f3 435px,#0000aa 453px,#00009a 461px,#000089 477px,#000067 493px,#000031 507px,#000000 519px,#000000 527px)"></div>
<div class="hc" style="left:993px;width:3px;background:linear-gradient(#000000 0px,#000000 13px,#000058 35px,#000083 55px,#000099 67px,#0000a0 75px,#0000bc 83px,#0000f1 95px,#0000ff 101px,#000ef2 107px,#007888 129px,#008878 135px,#00d729 147px,#00fd02 155px,#00ff00 157px,#2bff00 159px,#3eff00 163px,#4cff00 171px,#5bff00 203px,#6fff00 223px,#6fff00 305px,#5bff00 325px,#47ff00 361px,#36ff00 367px,#2bff00 369px,#00ff00 371px,#00fd02 373px,#00cc33 383px,#008878 393px,#008080 395px,#007888 399px,#000ef2 421px,#0000ff 427px,#0000f1 433px,#0000a5 451px,#000099 459px,#00008b 469px,#00005d 491px,#000032 503px,#000000 515px,#000000 527px)"></div>
<div class="hc" style="left:996px;width:3px;background:linear-gradient(#000000 0px,#000000 17px,#000048 35px,#000092 67px,#0000a2 79px,#0000cd 89px,#0000f7 99px,#0000ff 103px,#0006f9 107px,#003cc3 119px,#007888 131px,#008a75 137px,#00d32c 149px,#00ff00 157px,#2bff00 159px,#2dff00 161px,#3eff00 165px,#4bff00 177px,#5aff00 205px,#6bff00 225px,#6cff00 299px,#5cff00 321px,#4eff00 343px,#43ff00 361px,#37ff00 365px,#2dff00 367px,#2bff00 369px,#00ff00 371px,#00b04f 385px,#00817f 393px,#007090 399px,#0016ea 417px,#0001fe 423px,#0000fd 427px,#0000e0 435px,#0000a8 447px,#00009a 453px,#00008e 463px,#000048 493px,#000000 511px,#000000 527px)"></div>
<div class="hc" style="left:999px;width:3px;background:linear-gradient(#000000 0px,#000003 21px,#000038 35px,#000087 67px,#000099 75px,#0000a0 81px,#0000f6 101px,#0000fe 105px,#000df2 111px,#0039c6 121px,#007888 133px,#008c74 139px,#00ed12 155px,#00fc03 157px,#00ff00 159px,#2bff00 161px,#3aff00 165px,#48ff00 181px,#67ff00 229px,#6aff00 287px,#5eff00 317px,#3dff00 361px,#35ff00 365px,#2bff00 367px,#00ff00 369px,#00fc03 371px,#00af51 383px,#00847c 391px,#00669a 399px,#001ce4 413px,#0002fd 421px,#0000fb 425px,#0000de 433px,#0000a0 447px,#000092 457px,#00005e 477px,#000032 495px,#000003 507px,#000000 527px)"></div>
<div class="hc" style="left:1002px;width:3px;background:linear-gradient(#000000 0px,#000000 23px,#000033 39px,#00006c 63px,#000094 75px,#0000a0 83px,#0000f3 103px,#0001fe 109px,#0018e7 117px,#005ba5 129px,#007a86 135px,#008c73 141px,#00e21d 155px,#00ff00 159px,#2bff00 161px,#40ff00 175px,#50ff00 197px,#63ff00 229px,#69ff00 275px,#59ff00 321px,#41ff00 351px,#32ff00 363px,#2bff00 367px,#00ff00 369px,#009769 385px,#008080 391px,#006799 397px,#0021de 409px,#0005fa 417px,#0000fc 421px,#0000e5 429px,#0000a0 445px,#00008e 455px,#00005b 471px,#000023 495px,#000000 505px,#000000 527px)"></div>
<div class="hc" style="left:1005px;width:3px;background:linear-gradient(#000000 0px,#000001 27px,#000028 41px,#000054 61px,#000092 77px,#0000a7 87px,#0000f1 105px,#0000ff 111px,#000df2 117px,#0035cb 125px,#00768a 135px,#007f81 137px,#00857b 141px,#00a45b 147px,#00ff00 159px,#1bff00 161px,#2bff00 163px,#3cff00 177px,#47ff00 193px,#58ff00 207px,#68ff00 261px,#60ff00 297px,#53ff00 327px,#3fff00 343px,#37ff00 357px,#2bff00 365px,#1bff00 367px,#00ff00 369px,#00a45b 381px,#00857b 387px,#007f81 391px,#005da2 397px,#001ee1 407px,#0007f9 413px,#0000ff 417px,#0000e3 427px,#0000a7 441px,#00008b 453px,#000054 467px,#000014 495px,#000001 501px,#000000 527px)"></div>
<div class="hc" style="left:1008px;width:3px;background:linear-gradient(#000000 0px,#000001 31px,#000023 47px,#000040 61px,#00006b 71px,#000093 79px,#00009a 83px,#0000a6 89px,#0000f8 109px,#0000ff 113px,#000af5 119px,#0027d9 125px,#007a86 137px,#008779 143px,#00ab55 149px,#00ff00 159px,#05ff00 161px,#1bff00 163px,#2bff00 165px,#37ff00 177px,#3eff00 191px,#57ff00 205px,#64ff00 243px,#64ff00 285px,#55ff00 325px,#3bff00 339px,#33ff00 357px,#2bff00 363px,#1bff00 365px,#05ff00 367px,#00ff00 369px,#009c64 381px,#008779 385px,#007a86 391px,#0043bd 399px,#001be4 405px,#0004fb 411px,#0000fd 417px,#0000da 427px,#0000a6 439px,#00009a 445px,#000093 449px,#000046 465px,#00002a 477px,#000006 495px,#000000 499px,#000000 527px)"></div>
<div class="hc" style="left:1011px;width:3px;background:linear-gradient(#000000 0px,#000002 37px,#00002a 61px,#000042 67px,#000094 81px,#0000a0 89px,#0000c8 99px,#0000f3 109px,#0000ff 115px,#0007f8 121px,#0026da 127px,#00728e 137px,#008080 141px,#008977 145px,#00a45c 149px,#00ec14 157px,#00f906 159px,#00ff00 163px,#0eff00 165px,#2bff00 167px,#32ff00 175px,#35ff00 189px,#55ff00 205px,#5eff00 235px,#64ff00 255px,#60ff00 289px,#57ff00 313px,#53ff00 325px,#35ff00 339px,#31ff00 357px,#2bff00 361px,#0eff00 363px,#00ff00 365px,#00f906 369px,#00da25 373px,#00956b 381px,#00827e 385px,#007c84 389px,#00659b 393px,#0019e6 403px,#0002fd 409px,#0000fd 415px,#0000e4 423px,#0000a6 437px,#00009a 443px,#000094 447px,#000039 463px,#000021 471px,#000000 493px,#000000 527px)"></div>
<div class="hc" style="left:1014px;width:3px;background:linear-gradient(#000000 0px,#000003 49px,#000014 61px,#00002c 67px,#00008b 81px,#000098 85px,#0000a0 91px,#0000c0 99px,#0000f4 111px,#0000ff 119px,#0005fa 123px,#0017e8 127px,#006a96 137px,#007e82 141px,#00847c 145px,#009e62 149px,#00e51a 157px,#00fa05 161px,#00ff00 165px,#0bff00 167px,#2bff00 169px,#31ff00 191px,#51ff00 205px,#5dff00 235px,#64ff00 251px,#62ff00 287px,#56ff00 309px,#51ff00 323px,#2fff00 339px,#2bff00 359px,#0bff00 361px,#00ff00 363px,#00fa05 367px,#00e51a 371px,#008f71 381px,#00847c 383px,#007e82 387px,#006a96 391px,#0017e8 401px,#0005fa 405px,#0000fe 411px,#0000f4 417px,#0000c0 429px,#0000a0 437px,#000093 445px,#000072 451px,#00002c 461px,#000014 467px,#000000 483px,#000000 527px)"></div>
<div class="hc" style="left:1017px;width:3px;background:linear-gradient(#000000 0px,#000000 61px,#00000b 65px,#000044 73px,#000080 81px,#000094 85px,#0000a0 93px,#0000ef 111px,#0000fe 119px,#0003fc 125px,#000bf4 127px,#002ad5 131px,#00629d 137px,#007a86 141px,#008080 145px,#009966 149px,#00e01f 157px,#00f609 161px,#00ff00 167px,#00ff00 169px,#2aff00 177px,#2cff00 191px,#49ff00 201px,#55ff00 217px,#5dff00 233px,#65ff00 251px,#61ff00 289px,#55ff00 309px,#4cff00 325px,#39ff00 333px,#2cff00 337px,#2aff00 351px,#17ff00 355px,#00ff00 359px,#00fc04 365px,#00ed12 369px,#00be41 375px,#008a76 381px,#008080 383px,#007a86 387px,#00629d 391px,#0018e7 399px,#000bf4 401px,#0000ff 405px,#0000f9 413px,#0000df 421px,#0000a0 435px,#000094 443px,#000073 449px,#000016 461px,#000004 465px,#000000 475px,#000000 527px)"></div>
<div class="hc" style="left:1020px;width:3px;background:linear-gradient(#000000 0px,#000000 65px,#000004 67px,#000076 81px,#00008f 85px,#000099 89px,#0000a2 95px,#0000eb 111px,#0000fd 119px,#0001fe 127px,#0022dd 131px,#005fa1 137px,#007888 141px,#008080 145px,#009967 149px,#00df20 157px,#00f50a 161px,#00ff00 167px,#00ff00 171px,#1eff00 175px,#27ff00 177px,#2fff00 191px,#48ff00 199px,#55ff00 219px,#67ff00 243px,#64ff00 291px,#55ff00 311px,#48ff00 329px,#2bff00 339px,#27ff00 351px,#0fff00 355px,#00ff00 357px,#00fb04 365px,#00ec14 369px,#00bd42 375px,#008a76 381px,#008080 383px,#007888 387px,#005fa1 391px,#000ff0 399px,#0001fe 401px,#0000fa 411px,#0000e3 419px,#0000a2 433px,#000096 441px,#000084 445px,#000045 453px,#000004 461px,#000000 467px,#000000 527px)"></div>
<div class="hc" style="left:1023px;width:3px;background:linear-gradient(#000000 0px,#000003 69px,#00004a 77px,#00007e 83px,#000093 87px,#00009f 95px,#0000ee 113px,#0000fe 121px,#0001fe 127px,#000ef1 129px,#0060a0 137px,#007b85 141px,#00817f 145px,#009b65 149px,#00e11e 157px,#00f708 161px,#00ff00 167px,#02ff00 169px,#26ff00 175px,#2cff00 181px,#39ff00 189px,#4fff00 197px,#52ff00 205px,#58ff00 209px,#5dff00 215px,#6cff00 233px,#6eff00 287px,#61ff00 311px,#59ff00 317px,#57ff00 321px,#51ff00 325px,#4fff00 331px,#2dff00 345px,#2bff00 351px,#26ff00 353px,#02ff00 359px,#00fc03 365px,#00ee11 369px,#00c040 375px,#008c74 381px,#00817f 383px,#007b85 387px,#0060a0 391px,#000ef1 399px,#0001fe 401px,#0000f9 411px,#0000df 419px,#00009f 433px,#000093 441px,#00007e 445px,#000003 459px,#000000 527px)"></div>
<div class="hc" style="left:1026px;width:3px;background:linear-gradient(#000000 0px,#000002 71px,#00003d 77px,#00007b 83px,#000094 87px,#00009e 95px,#0000f3 115px,#0000fe 121px,#0000ff 125px,#0006f9 127px,#0026da 131px,#00659b 137px,#007f81 141px,#00867a 145px,#00a060 149px,#00e718 157px,#00fb04 161px,#00ff00 165px,#05ff00 167px,#29ff00 173px,#39ff00 183px,#52ff00 191px,#59ff00 199px,#61ff00 205px,#6dff00 209px,#75ff00 217px,#7cff00 219px,#7cff00 309px,#6fff00 315px,#68ff00 321px,#5dff00 327px,#53ff00 335px,#4dff00 339px,#30ff00 349px,#29ff00 355px,#05ff00 361px,#00ff00 365px,#00f30c 369px,#00d728 373px,#00916f 381px,#008080 385px,#007f81 387px,#00659b 391px,#0013ec 399px,#0006f9 401px,#0000ff 403px,#0000f9 411px,#0000d2 421px,#00009e 433px,#000094 441px,#00007b 445px,#000014 455px,#000002 457px,#000000 527px)"></div>
<div class="hc" style="left:1029px;width:3px;background:linear-gradient(#000000 0px,#000002 73px,#000030 77px,#00007c 83px,#00008e 85px,#000098 87px,#0000a0 95px,#0000d7 109px,#0000f9 117px,#0000ff 123px,#000af5 127px,#0029d6 131px,#006a96 137px,#007987 139px,#008a76 145px,#00a55b 149px,#00ed12 157px,#00f906 159px,#01ff00 163px,#11ff00 167px,#2bff00 171px,#32ff00 177px,#52ff00 187px,#63ff00 197px,#80ff00 209px,#82ff00 217px,#93ff00 223px,#94ff00 297px,#90ff00 307px,#82ff00 311px,#7cff00 321px,#56ff00 337px,#4dff00 343px,#2dff00 353px,#2bff00 357px,#06ff00 363px,#00ff00 367px,#00f906 369px,#00dc23 373px,#00966a 381px,#00837d 385px,#007987 389px,#0056aa 393px,#0017e8 399px,#0003fc 403px,#0000fd 409px,#0000e0 417px,#0000a7 431px,#00009a 437px,#000098 441px,#00008e 443px,#000065 447px,#000017 453px,#000002 455px,#000000 527px)"></div>
<div class="hc" style="left:1032px;width:3px;background:linear-gradient(#000000 0px,#000000 73px,#000005 75px,#00007f 83px,#000094 85px,#00009a 89px,#0000ad 99px,#0000d0 109px,#0000ff 119px,#0004fb 125px,#0017e9 129px,#003dc2 133px,#006e92 137px,#007f81 139px,#00847c 143px,#009769 147px,#00c837 153px,#00f00f 157px,#00fe01 159px,#04ff00 163px,#2bff00 171px,#37ff00 177px,#54ff00 185px,#5bff00 191px,#7eff00 201px,#8aff00 215px,#a8ff00 225px,#a5ff00 305px,#8aff00 313px,#7aff00 329px,#5bff00 337px,#4fff00 345px,#30ff00 353px,#2bff00 357px,#04ff00 365px,#00fe01 369px,#00dd22 373px,#00a45b 379px,#008c74 383px,#008080 387px,#007f81 389px,#006e92 391px,#0028d8 397px,#000bf4 401px,#0001fe 405px,#0000ff 409px,#0000b9 425px,#00009c 437px,#00009a 441px,#000094 443px,#00007f 445px,#000005 453px,#000000 457px,#000000 527px)"></div>
<div class="hc" style="left:1035px;width:3px;background:linear-gradient(#000000 0px,#000000 75px,#000014 77px,#00007c 83px,#000097 85px,#0000a1 93px,#0000b9 105px,#0000d7 113px,#0000fd 119px,#0002fd 125px,#000ff1 129px,#0030d0 133px,#007c84 139px,#008977 145px,#00ab55 151px,#00fb04 159px,#03ff00 163px,#2aff00 171px,#2dff00 175px,#4cff00 181px,#5dff00 191px,#7eff00 199px,#8aff00 215px,#97ff00 219px,#a9ff00 223px,#aaff00 251px,#b2ff00 261px,#b7ff00 265px,#aeff00 271px,#a8ff00 291px,#a9ff00 305px,#8eff00 311px,#80ff00 323px,#7eff00 329px,#58ff00 339px,#4cff00 347px,#2dff00 353px,#2aff00 357px,#03ff00 365px,#00fb04 369px,#00ab55 377px,#008977 383px,#007c84 389px,#0030d0 395px,#000ff1 399px,#0002fd 403px,#0000fd 409px,#0000cd 417px,#0000ae 427px,#00009a 439px,#000097 443px,#00005b 447px,#000014 451px,#000000 453px,#000000 527px)"></div>
<div class="hc" style="left:1038px;width:3px;background:linear-gradient(#000000 0px,#000000 75px,#00000c 77px,#00006a 83px,#000084 85px,#000093 87px,#00009a 89px,#0000a5 97px,#0000a5 101px,#0000c1 113px,#0000f3 121px,#0000ff 125px,#0002fd 129px,#0016e9 133px,#0042be 137px,#00728d 141px,#008080 143px,#00827e 145px,#009070 149px,#00956a 151px,#00c53a 157px,#00eb14 161px,#03ff00 165px,#04ff00 167px,#14ff00 169px,#2bff00 175px,#2dff00 177px,#3fff00 179px,#55ff00 187px,#57ff00 191px,#69ff00 197px,#6eff00 201px,#80ff00 207px,#82ff00 217px,#96ff00 221px,#9bff00 225px,#96ff00 243px,#9cff00 257px,#99ff00 279px,#97ff00 299px,#9aff00 305px,#8eff00 309px,#82ff00 311px,#7cff00 323px,#6eff00 327px,#60ff00 335px,#57ff00 337px,#55ff00 341px,#3fff00 349px,#2dff00 351px,#1dff00 357px,#14ff00 359px,#04ff00 361px,#03ff00 363px,#00eb14 367px,#00a25d 375px,#00956a 377px,#008c74 381px,#00827e 383px,#008080 385px,#00728d 387px,#002ad6 393px,#0016e9 395px,#0002fd 399px,#0000ff 403px,#0000f3 407px,#0000c1 415px,#0000a5 427px,#0000a0 435px,#000093 441px,#000084 443px,#00004c 447px,#00000c 451px,#000000 453px,#000000 527px)"></div>
<div class="hc" style="left:1041px;width:3px;background:linear-gradient(#000000 0px,#000000 77px,#000065 85px,#000086 89px,#000091 91px,#00009a 101px,#0000a3 107px,#0000a6 113px,#0000db 123px,#0000fa 129px,#0000ff 133px,#0014eb 137px,#0055ab 143px,#007888 147px,#008878 153px,#00966a 157px,#00f40b 169px,#00ff00 177px,#20ff00 179px,#20ff00 183px,#3eff00 187px,#47ff00 191px,#4fff00 193px,#51ff00 199px,#55ff00 201px,#66ff00 205px,#6eff00 215px,#75ff00 217px,#75ff00 225px,#7cff00 233px,#7aff00 301px,#75ff00 307px,#75ff00 311px,#6bff00 315px,#66ff00 323px,#55ff00 327px,#4fff00 333px,#4fff00 335px,#40ff00 339px,#3eff00 341px,#20ff00 345px,#20ff00 349px,#00ff00 351px,#00f40b 359px,#00b54a 367px,#00966a 371px,#007c84 379px,#007888 381px,#003fc1 387px,#0014eb 391px,#0000ff 395px,#0000fa 399px,#0000a6 415px,#00009f 425px,#000092 433px,#000091 437px,#000077 441px,#00004f 445px,#000000 451px,#000000 527px)"></div>
<div class="hc" style="left:1044px;width:3px;background:linear-gradient(#000000 0px,#000002 79px,#00003c 85px,#000052 89px,#00005a 95px,#000071 99px,#000080 101px,#00009c 115px,#00009f 119px,#0000c8 127px,#0000ed 133px,#0000ff 137px,#0008f7 141px,#002ad5 145px,#006997 151px,#008080 157px,#008977 163px,#00a957 167px,#00b54b 171px,#00e11f 177px,#00e11e 183px,#00f30c 185px,#0bff00 187px,#0bff00 189px,#1dff00 191px,#1fff00 197px,#35ff00 201px,#35ff00 213px,#45ff00 217px,#4aff00 225px,#5aff00 227px,#5aff00 301px,#4aff00 303px,#45ff00 311px,#35ff00 315px,#35ff00 327px,#1fff00 331px,#1dff00 337px,#0bff00 339px,#0bff00 341px,#00f30c 343px,#00e11e 345px,#00e11f 351px,#00b54b 357px,#00a957 361px,#008977 365px,#008080 371px,#006997 377px,#002ad5 383px,#0008f7 387px,#0000ff 391px,#0000df 397px,#0000bb 403px,#00009f 409px,#00009a 415px,#000089 423px,#000080 427px,#000063 431px,#00005a 433px,#000052 439px,#00003c 443px,#000002 449px,#000000 527px)"></div>
<div class="hc" style="left:1047px;width:3px;background:linear-gradient(#000000 0px,#000000 81px,#000004 83px,#000015 87px,#000015 91px,#000010 95px,#000048 101px,#00005f 105px,#000093 119px,#00009a 125px,#0000af 131px,#0000f8 141px,#0000ff 145px,#000ef1 147px,#0024dc 149px,#005ca4 157px,#007789 163px,#007b85 169px,#008080 171px,#009a66 175px,#00a060 179px,#009f61 183px,#00a55b 185px,#00bd42 187px,#00d926 191px,#00e51a 197px,#00f00f 199px,#00ef10 209px,#00f609 213px,#0bff00 215px,#20ff00 217px,#20ff00 311px,#0bff00 313px,#00f609 315px,#00ef10 321px,#00f00f 329px,#00e51a 331px,#00d926 337px,#00bd42 341px,#00a55b 343px,#009f61 345px,#00a060 351px,#008f71 355px,#008080 357px,#007789 363px,#007789 365px,#005ca4 371px,#0024dc 379px,#000ef1 381px,#0000ff 383px,#0000f8 387px,#0000af 397px,#00009a 403px,#000093 409px,#000056 425px,#000035 429px,#000010 433px,#000017 439px,#00000e 443px,#000004 445px,#000000 451px,#000000 527px)"></div>
<div class="hc" style="left:1050px;width:3px;background:linear-gradient(#000000 0px,#000000 99px,#000025 103px,#000043 109px,#000076 123px,#000083 125px,#00009a 131px,#0000a0 135px,#0000cc 141px,#0000ed 145px,#0004fb 149px,#0008f7 153px,#0028d7 157px,#0038c8 163px,#003ac6 167px,#0060a0 171px,#00619f 179px,#006f91 183px,#008080 185px,#008d73 191px,#009070 209px,#00ab54 211px,#00d22d 217px,#00d42b 257px,#00d827 259px,#00e51b 261px,#00ff00 263px,#00ff00 265px,#00e51b 267px,#00d827 269px,#00d32d 279px,#00d22d 311px,#00ab54 317px,#009070 319px,#008d73 337px,#008080 343px,#006f91 345px,#00619f 349px,#0060a0 357px,#003ac6 361px,#0034cb 367px,#0028d7 371px,#0008f7 375px,#0004fb 379px,#0000ed 383px,#0000ae 391px,#0000a0 393px,#00009a 397px,#000083 403px,#00006d 407px,#000032 423px,#000014 427px,#000000 429px,#000000 527px)"></div>
<div class="hc" style="left:1053px;width:3px;background:linear-gradient(#000000 0px,#000000 103px,#000018 109px,#000027 117px,#00003f 123px,#00006d 129px,#00008d 133px,#000097 135px,#00009a 139px,#0000ae 143px,#0000c7 145px,#0000de 149px,#0000e5 151px,#0000f2 153px,#0000f9 165px,#0000ff 167px,#0012ed 169px,#001de2 171px,#0023dc 181px,#0032ce 185px,#002dd2 199px,#003dc2 201px,#0048b7 207px,#0054ac 209px,#006f91 211px,#006f91 317px,#0054ac 319px,#0048b7 321px,#003dc2 327px,#002dd2 329px,#0032ce 343px,#0020e0 349px,#001de2 357px,#0012ed 359px,#0000ff 361px,#0000f5 367px,#0000f2 375px,#0000e5 377px,#0000d5 381px,#0000c7 383px,#0000ae 385px,#00009a 389px,#000097 393px,#000080 397px,#00004c 403px,#00002e 409px,#00001e 415px,#000013 421px,#000000 425px,#000000 527px)"></div>
<div class="hc" style="left:1056px;width:3px;background:linear-gradient(#000000 0px,#000000 121px,#000005 123px,#000011 125px,#000060 131px,#000086 135px,#000093 139px,#00009a 143px,#0000a3 147px,#0000a6 153px,#0000b7 157px,#0000bf 163px,#0000d6 167px,#0000dc 171px,#0000e7 177px,#0000dd 197px,#0000e4 199px,#0007f8 201px,#000ff0 215px,#000ff0 317px,#0007f8 327px,#0000e4 329px,#0000dd 331px,#0000e5 347px,#0000e5 353px,#0000d7 359px,#0000d6 361px,#0000bf 365px,#0000b2 373px,#0000a6 375px,#0000a0 383px,#000094 387px,#00008e 391px,#000086 393px,#000060 397px,#000011 403px,#000005 405px,#000000 409px,#000000 527px)"></div>
<div class="hc" style="left:1059px;width:2px;background:linear-gradient(#000000 0px,#000000 125px,#00000b 127px,#00004f 131px,#000069 133px,#00007a 135px,#000084 137px,#000083 139px,#000075 141px,#000057 143px,#000028 145px,#000051 147px,#000072 149px,#00009a 153px,#00009a 169px,#0000bd 173px,#0000cd 177px,#0000c8 183px,#0000b6 195px,#0000a5 201px,#0000c7 203px,#0000dc 205px,#0000e4 207px,#0000de 227px,#0000d2 231px,#0000e0 237px,#0000e0 261px,#0000e0 267px,#0000e0 291px,#0000d2 297px,#0000e0 303px,#0000e4 321px,#0000dc 323px,#0000c7 325px,#0000a5 327px,#0000bd 337px,#0000ce 349px,#0000c8 353px,#0000bd 355px,#00009a 359px,#00009a 375px,#000072 379px,#000051 381px,#000028 383px,#000057 385px,#000075 387px,#000083 389px,#000084 391px,#00007a 393px,#000069 395px,#00004f 397px,#00000b 401px,#000000 403px,#000000 527px)"></div>
<div class="a" style="left:1339px;top:16px;width:40px;height:270px;background:linear-gradient(to bottom,#ff0000 0px,#ffffff 19px,#ffffff 19px,#ffff00 39px,#ffff00 39px,#80ff00 77px,#80ff00 77px,#00ff00 116px,#00ff00 116px,#008080 154px,#008080 154px,#0000ff 193px,#0000ff 193px,#000078 231px,#000078 231px,#000000 270px)"></div>
<svg width="1388" height="894" viewBox="0 0 1388 894">
<rect x="39" y="35" width="1022" height="1" fill="#ffff00"/>
<rect x="39" y="54" width="1022" height="1" fill="#80ff00"/>
<rect x="39" y="92" width="1022" height="1" fill="#00ff00"/>
<rect x="39" y="130" width="1022" height="1" fill="#008080"/>
<rect x="39" y="168" width="1022" height="1" fill="#0000ff"/>
<rect x="39" y="206" width="1022" height="1" fill="#00006e"/>
<rect x="39" y="244" width="1022" height="1" fill="#000000"/>
<rect x="39" y="132" width="1022" height="1" fill="#a0a0a0"/>
<rect x="39" y="171" width="1022" height="1" fill="#a0a0a0"/>
<rect x="39" y="209" width="1022" height="1" fill="#a0a0a0"/>
<rect x="39" y="248" width="1022" height="1" fill="#a0a0a0"/>
<line x1="98.5" y1="17" x2="98.5" y2="285" stroke="#a0a0a0" stroke-width="1" stroke-dasharray="1,1"/>
<line x1="141.5" y1="17" x2="141.5" y2="285" stroke="#a0a0a0" stroke-width="1" stroke-dasharray="1,1"/>
<line x1="174.5" y1="17" x2="174.5" y2="285" stroke="#a0a0a0" stroke-width="1" stroke-dasharray="1,1"/>
<line x1="201.5" y1="17" x2="201.5" y2="285" stroke="#a0a0a0" stroke-width="1" stroke-dasharray="1,1"/>
<line x1="224.5" y1="17" x2="224.5" y2="285" stroke="#a0a0a0" stroke-width="1" stroke-dasharray="1,1"/>
<line x1="243.5" y1="17" x2="243.5" y2="285" stroke="#a0a0a0" stroke-width="1" stroke-dasharray="1,1"/>
<line x1="261.5" y1="17" x2="261.5" y2="285" stroke="#a0a0a0" stroke-width="1" stroke-dasharray="1,1"/>
<line x1="276.5" y1="17" x2="276.5" y2="285" stroke="#a0a0a0" stroke-width="1" stroke-dasharray="1,1"/>
<line x1="439.5" y1="17" x2="439.5" y2="285" stroke="#a0a0a0" stroke-width="1" stroke-dasharray="1,1"/>
<line x1="482.5" y1="17" x2="482.5" y2="285" stroke="#a0a0a0" stroke-width="1" stroke-dasharray="1,1"/>
<line x1="515.5" y1="17" x2="515.5" y2="285" stroke="#a0a0a0" stroke-width="1" stroke-dasharray="1,1"/>
<line x1="542.5" y1="17" x2="542.5" y2="285" stroke="#a0a0a0" stroke-width="1" stroke-dasharray="1,1"/>
<line x1="565.5" y1="17" x2="565.5" y2="285" stroke="#a0a0a0" stroke-width="1" stroke-dasharray="1,1"/>
<line x1="584.5" y1="17" x2="584.5" y2="285" stroke="#a0a0a0" stroke-width="1" stroke-dasharray="1,1"/>
<line x1="602.5" y1="17" x2="602.5" y2="285" stroke="#a0a0a0" stroke-width="1" stroke-dasharray="1,1"/>
<line x1="617.5" y1="17" x2="617.5" y2="285" stroke="#a0a0a0" stroke-width="1" stroke-dasharray="1,1"/>
<line x1="780.5" y1="17" x2="780.5" y2="285" stroke="#a0a0a0" stroke-width="1" stroke-dasharray="1,1"/>
<line x1="823.5" y1="17" x2="823.5" y2="285" stroke="#a0a0a0" stroke-width="1" stroke-dasharray="1,1"/>
<line x1="856.5" y1="17" x2="856.5" y2="285" stroke="#a0a0a0" stroke-width="1" stroke-dasharray="1,1"/>
<line x1="883.5" y1="17" x2="883.5" y2="285" stroke="#a0a0a0" stroke-width="1" stroke-dasharray="1,1"/>
<line x1="906.5" y1="17" x2="906.5" y2="285" stroke="#a0a0a0" stroke-width="1" stroke-dasharray="1,1"/>
<line x1="925.5" y1="17" x2="925.5" y2="285" stroke="#a0a0a0" stroke-width="1" stroke-dasharray="1,1"/>
<line x1="943.5" y1="17" x2="943.5" y2="285" stroke="#a0a0a0" stroke-width="1" stroke-dasharray="1,1"/>
<line x1="958.5" y1="17" x2="958.5" y2="285" stroke="#a0a0a0" stroke-width="1" stroke-dasharray="1,1"/>
<line x1="379.5" y1="17" x2="379.5" y2="285" stroke="#a0a0a0" stroke-width="1"/>
<line x1="720.5" y1="17" x2="720.5" y2="285" stroke="#a0a0a0" stroke-width="1"/>
<rect x="39" y="55" width="1022" height="1" fill="#3c3cc8"/>
<rect x="39" y="93" width="1022" height="2" fill="#000"/>
<rect x="38" y="16" width="1" height="270" fill="#959595"/>
<rect x="39" y="16" width="1022" height="1" fill="#bdd0d0"/>
<rect x="39" y="282" width="1022" height="3" fill="#dcdcdc"/>
<rect x="39" y="285" width="1023" height="1" fill="#000"/>
<rect x="1061" y="276" width="1" height="10" fill="#000"/>
<svg x="39" y="17" width="1022" height="269" viewBox="39 17 1022 269" overflow="hidden">
<path d="M82.3,285.5 C86.9,285.0 102.3,283.2 110.0,282.4 C117.7,281.6 120.4,281.4 128.6,280.9 C136.8,280.4 147.1,279.9 159.4,279.4 C171.7,278.9 190.2,278.3 202.6,277.8 C214.9,277.3 222.2,276.7 233.5,276.3 C244.8,275.9 258.4,275.8 270.5,275.6 C282.6,275.4 282.6,275.1 306.0,275.0 C329.4,274.9 389.0,275.3 411.1,274.7 C433.2,274.1 430.1,272.6 438.8,271.6 C447.5,270.6 453.2,269.2 463.5,268.5 C473.8,267.8 491.9,268.1 500.6,267.6 C509.4,267.1 509.3,267.0 516.0,265.5 C522.7,264.0 532.5,260.8 540.7,258.7 C548.9,256.6 555.8,255.6 565.0,253.1 C574.2,250.6 585.6,246.7 595.9,243.9 C606.2,241.1 619.0,237.9 626.7,236.2 C634.4,234.5 637.0,235.0 642.1,233.7 C647.2,232.4 653.0,228.9 657.6,228.4 C662.2,227.9 665.8,230.2 669.9,230.6 C674.0,231.0 677.3,232.0 682.2,230.6 C687.1,229.2 693.5,222.6 699.2,222.3 C704.9,222.0 710.8,228.3 716.2,229.0 C721.6,229.7 726.0,227.1 731.6,226.3 C737.2,225.5 744.4,224.3 750.1,224.4 C755.8,224.5 760.5,226.9 765.6,226.9 C770.8,226.9 774.5,225.8 781.0,224.7 C787.5,223.6 798.2,221.4 804.4,220.1 C810.6,218.8 811.9,217.8 818.0,217.0 C824.1,216.2 833.6,215.2 840.8,215.4 C847.9,215.6 855.5,218.0 860.9,217.9 C866.3,217.8 868.1,215.6 873.2,214.8 C878.4,214.0 883.5,213.5 891.8,213.2 C900.0,212.9 913.4,213.3 922.7,213.2 C932.0,213.1 939.7,212.5 947.4,212.6 C955.1,212.7 961.8,214.2 969.0,213.8 C976.2,213.4 982.9,211.4 990.6,210.1 C998.3,208.8 1008.6,207.6 1015.3,206.1 C1022.0,204.6 1025.6,202.2 1030.8,201.2 C1036.0,200.2 1042.6,199.6 1046.2,200.3 C1049.8,201.0 1050.6,204.0 1052.4,205.5 C1054.2,207.0 1055.7,209.6 1057.0,209.2 C1058.3,208.8 1059.6,204.0 1060.1,203.0" fill="none" stroke="#fff" stroke-width="2.6" stroke-linejoin="round" shape-rendering="crispEdges"/>
<path d="M38.5,217.6 C41.2,216.1 49.2,211.7 54.5,208.4 C59.8,205.1 65.4,200.9 70.0,197.6 C74.6,194.2 77.9,191.7 82.3,188.3 C86.7,185.0 91.8,180.8 96.2,177.5 C100.6,174.2 105.7,171.9 108.5,168.3 C111.3,164.7 111.5,158.7 113.1,155.9 C114.6,153.1 115.2,153.4 117.8,151.3 C120.4,149.2 124.2,146.9 128.6,143.6 C133.0,140.2 139.9,134.0 144.0,131.2 C148.1,128.4 149.1,130.2 153.2,126.6 C157.3,123.0 164.3,113.3 168.7,109.7 C173.1,106.1 175.4,107.7 179.5,105.0 C183.6,102.3 188.5,96.9 193.4,93.6 C198.3,90.3 204.2,87.7 208.8,85.0 C213.4,82.3 217.0,79.6 221.1,77.3 C225.2,75.0 228.3,72.9 233.5,71.1 C238.7,69.3 244.8,67.8 252.0,66.5 C259.2,65.2 267.7,63.9 276.7,63.4 C285.7,62.9 298.0,63.1 306.0,63.4 C314.0,63.6 315.9,64.5 324.7,64.9 C333.5,65.3 348.3,65.5 358.6,65.8 C368.9,66.1 378.7,66.0 386.4,66.5 C394.1,67.0 397.7,67.4 404.9,68.6 C412.1,69.8 421.4,72.2 429.6,73.5 C437.8,74.8 445.1,76.0 454.3,76.6 C463.6,77.2 477.4,76.8 485.1,77.3 C492.8,77.8 495.5,78.2 500.6,79.4 C505.8,80.6 510.4,82.1 516.0,84.3 C521.6,86.5 529.4,90.4 534.5,92.7 C539.6,95.0 541.7,96.1 546.8,97.9 C551.9,99.7 558.9,101.9 565.0,103.5 C571.1,105.1 577.9,106.4 583.5,107.5 C589.1,108.6 593.2,108.4 598.9,110.3 C604.6,112.2 611.8,117.4 617.5,118.9 C623.2,120.4 627.8,118.7 632.9,119.5 C638.0,120.3 643.7,123.7 648.3,123.5 C652.9,123.3 656.5,119.8 660.6,118.3 C664.7,116.8 669.4,113.9 673.0,114.3 C676.6,114.7 679.1,118.2 682.2,120.4 C685.3,122.6 688.4,126.1 691.5,127.5 C694.6,128.9 697.2,129.1 700.8,128.8 C704.4,128.5 709.5,125.9 713.1,125.7 C716.7,125.5 718.3,126.6 722.4,127.5 C726.5,128.4 732.1,129.1 737.8,131.2 C743.4,133.3 750.1,138.6 756.3,139.9 C762.5,141.2 768.6,138.8 774.8,139.0 C781.0,139.2 788.4,141.0 793.3,141.1 C798.2,141.2 800.3,138.9 804.4,139.6 C808.5,140.3 813.7,145.5 818.0,145.1 C822.3,144.7 826.3,138.4 830.4,137.4 C834.5,136.4 838.3,138.3 842.4,139.1 C846.5,139.9 851.4,141.0 854.7,142.2 C858.0,143.4 859.8,144.3 862.4,146.2 C865.0,148.1 867.4,152.9 870.2,153.6 C873.0,154.3 876.1,150.6 879.4,150.5 C882.7,150.4 886.1,153.5 890.2,153.0 C894.3,152.5 899.7,148.4 904.1,147.7 C908.5,147.0 912.4,146.3 916.5,148.7 C920.6,151.1 924.2,159.8 928.8,162.3 C933.4,164.8 939.7,162.5 944.3,163.5 C948.9,164.5 953.0,167.6 956.6,168.4 C960.2,169.2 962.3,167.1 965.9,168.4 C969.5,169.7 974.2,172.6 978.3,176.2 C982.4,179.8 985.5,187.0 990.6,190.1 C995.8,193.2 1005.1,193.2 1009.2,194.7 C1013.3,196.2 1013.0,197.5 1015.3,199.3 C1017.6,201.1 1020.7,206.5 1023.0,205.5 C1025.3,204.5 1027.1,196.4 1029.2,193.1 C1031.3,189.8 1033.3,184.4 1035.4,185.4 C1037.5,186.4 1039.8,191.8 1041.6,199.3 C1043.4,206.8 1044.7,219.9 1046.2,230.2 C1047.7,240.5 1049.5,251.8 1050.8,261.1 C1052.1,270.4 1053.4,281.7 1053.9,285.8" fill="none" stroke="#f00" stroke-width="2.2" stroke-linejoin="round" shape-rendering="crispEdges"/>
<path d="M38.5,209.0 C41.2,207.3 49.2,202.5 54.5,199.1 C59.8,195.7 65.4,191.7 70.0,188.3 C74.6,185.0 78.2,182.3 82.3,179.0 C86.4,175.7 90.2,171.9 94.6,168.3 C99.0,164.7 104.9,162.4 108.5,157.5 C112.1,152.6 113.1,143.4 116.2,139.0 C119.3,134.6 123.9,133.5 127.0,131.2 C130.1,128.9 131.3,128.1 134.7,125.1 C138.0,122.1 143.8,116.0 147.1,113.4 C150.4,110.8 152.2,111.6 154.8,109.7 C157.4,107.8 159.7,104.7 162.5,102.0 C165.3,99.3 169.0,95.4 171.8,93.3 C174.6,91.2 176.4,92.0 179.5,89.6 C182.6,87.2 186.5,82.1 190.3,78.8 C194.2,75.5 198.5,72.3 202.6,69.5 C206.7,66.7 210.9,64.4 215.0,61.8 C219.1,59.2 223.2,56.0 227.3,54.1 C231.4,52.2 235.5,51.6 239.6,50.4 C243.7,49.2 247.9,47.7 252.0,46.7 C256.1,45.7 260.2,45.1 264.3,44.5 C268.4,43.9 269.8,43.6 276.7,43.3 C283.6,43.0 295.9,42.6 306.0,42.7 C316.1,42.8 324.6,43.6 337.0,43.9 C349.4,44.1 368.9,43.8 380.2,44.2 C391.5,44.6 396.7,45.6 404.9,46.4 C413.1,47.2 418.3,48.5 429.6,48.9 C440.9,49.3 464.6,49.2 472.8,48.9 C481.0,48.6 475.9,47.3 479.0,47.3 C482.1,47.3 485.1,47.8 491.3,48.9 C497.5,50.0 507.8,52.5 516.0,54.1 C524.2,55.7 533.0,57.6 540.7,58.7 C548.4,59.8 555.7,60.6 562.3,60.9 C568.9,61.2 574.3,60.8 580.4,60.3 C586.5,59.8 592.8,57.9 599.0,58.1 C605.2,58.4 611.9,61.6 617.5,61.8 C623.1,62.0 628.3,59.8 632.9,59.4 C637.5,59.0 641.1,60.3 645.2,59.4 C649.3,58.5 653.2,55.9 657.6,54.1 C662.0,52.4 667.8,49.4 671.4,48.9 C675.0,48.4 676.4,49.9 679.2,51.0 C682.0,52.1 684.8,55.2 688.4,55.7 C692.0,56.2 696.2,53.6 700.8,54.1 C705.4,54.6 710.6,57.7 716.2,58.7 C721.9,59.7 729.1,59.3 734.7,60.3 C740.4,61.3 745.5,63.4 750.1,64.9 C754.7,66.4 758.4,69.0 762.5,69.5 C766.6,70.0 769.7,68.4 774.8,68.0 C779.9,67.6 788.4,68.0 793.3,67.1 C798.2,66.2 800.3,63.3 804.4,62.8 C808.5,62.3 812.7,65.5 818.0,64.3 C823.3,63.1 831.1,56.5 836.2,55.7 C841.3,54.9 844.4,58.2 848.5,59.7 C852.6,61.2 857.3,63.0 860.9,65.0 C864.5,67.0 867.1,70.8 870.2,71.5 C873.3,72.2 876.3,69.3 879.4,69.0 C882.5,68.7 885.1,70.3 888.7,69.6 C892.3,68.9 896.4,65.8 901.0,65.0 C905.6,64.2 912.9,64.2 916.5,65.0 C920.1,65.8 920.7,67.4 922.7,69.6 C924.8,71.8 925.2,76.7 928.8,78.2 C932.4,79.8 939.7,77.8 944.3,78.9 C948.9,80.0 953.0,83.9 956.6,85.0 C960.2,86.1 962.8,84.7 965.9,85.7 C969.0,86.7 972.6,89.7 975.2,91.2 C977.8,92.7 978.8,92.8 981.4,94.9 C984.0,97.0 987.5,101.8 990.6,103.6 C993.7,105.3 996.8,105.0 999.9,105.4 C1003.0,105.8 1006.6,105.0 1009.2,106.0 C1011.8,107.0 1013.2,109.9 1015.3,111.3 C1017.3,112.7 1019.4,115.4 1021.5,114.4 C1023.6,113.4 1026.0,108.3 1027.7,105.1 C1029.4,101.9 1030.2,97.6 1031.5,95.0 C1032.8,92.4 1034.1,89.7 1035.4,89.7 C1036.7,89.7 1038.2,92.2 1039.5,95.0 C1040.8,97.8 1041.7,99.6 1043.1,106.7 C1044.5,113.8 1046.2,126.3 1047.8,137.6 C1049.3,148.9 1050.9,162.8 1052.4,174.6 C1053.9,186.4 1055.7,199.3 1057.0,208.6 C1058.3,217.9 1059.6,226.6 1060.1,230.2" fill="none" stroke="#000" stroke-width="2.2" stroke-linejoin="round" shape-rendering="crispEdges"/>
<rect x="804" y="17" width="1" height="269" fill="#f00"/>
<circle cx="804.5" cy="62.8" r="2.8" fill="none" stroke="#000" stroke-width="1"/>
<circle cx="804.5" cy="220" r="2.8" fill="none" stroke="#fff" stroke-width="1"/>
</svg>
<text x="29.5" y="19.9" text-anchor="end">6</text>
<text x="29.5" y="59.3" text-anchor="end">0</text>
<text x="29.5" y="97.8" text-anchor="end">-6</text>
<text x="29.5" y="136.3" text-anchor="end">-12</text>
<text x="29.5" y="174.8" text-anchor="end">-18</text>
<text x="29.5" y="213.3" text-anchor="end">-24</text>
<text x="29.5" y="251.8" text-anchor="end">-30</text>
<text x="29.5" y="290.3" text-anchor="end">-36</text>
<text x="1067" y="19.9">42</text>
<text x="1067" y="59.3">36</text>
<text x="1067" y="97.8">30</text>
<text x="1067" y="136.3">24</text>
<text x="1067" y="174.8">18</text>
<text x="1067" y="213.3">12</text>
<text x="1067" y="251.8">6</text>
<text x="1067" y="290.3">0</text>
<text x="37" y="307.3" text-anchor="middle">20.0</text>
<text x="254" y="307.3" text-anchor="middle">Frequency (Hz)</text>
<text x="378.5" y="307.3" text-anchor="middle">200.0</text>
<text x="719.5" y="307.3" text-anchor="middle">2.0 k</text>
<text x="1060.5" y="307.3" text-anchor="middle">20.0 k</text>
<text x="1112" y="27" textLength="79" lengthAdjust="spacingAndGlyphs">Freq. = 3436 Hz.</text>
<text x="1112" y="50" textLength="55.5" lengthAdjust="spacingAndGlyphs">Angle = 20°</text>
<text x="1112" y="73" textLength="97.6" lengthAdjust="spacingAndGlyphs">SPL (norm) = -1.2 dB</text>
<text x="1112" y="96" textLength="60" lengthAdjust="spacingAndGlyphs">DI = 10.3 dB</text>
<text x="1112" y="119" textLength="76" lengthAdjust="spacingAndGlyphs">Power = -7.2 dB</text>
<text x="1112" y="164.7" textLength="58" lengthAdjust="spacingAndGlyphs">10/11/2014</text>
<line x1="1329" y1="42.5" x2="1380" y2="42.5" stroke="#a0a0a0" stroke-dasharray="3,2"/>
<rect x="1329" y="55" width="51" height="1" fill="#3c3cc8"/>
<rect x="1329" y="67" width="51" height="1" fill="#a0a0a0"/>
<rect x="1329" y="80" width="51" height="1" fill="#a0a0a0"/>
<rect x="1329" y="106" width="51" height="1" fill="#a0a0a0"/>
<rect x="1329" y="119" width="51" height="1" fill="#a0a0a0"/>
<rect x="1329" y="132" width="51" height="1" fill="#a0a0a0"/>
<rect x="1329" y="170" width="51" height="1" fill="#a0a0a0"/>
<rect x="1329" y="209" width="51" height="1" fill="#a0a0a0"/>
<rect x="1329" y="247" width="51" height="1" fill="#a0a0a0"/>
<rect x="1329" y="286" width="51" height="1" fill="#a0a0a0"/>
<rect x="1329" y="93" width="50" height="2" fill="#000"/>
<text x="1325" y="59.5" text-anchor="end">0</text>
<text x="1325" y="98.0" text-anchor="end">-6</text>
<text x="1325" y="136.5" text-anchor="end">-12</text>
<text x="1325" y="175.0" text-anchor="end">-18</text>
<text x="1325" y="213.5" text-anchor="end">-24</text>
<text x="1325" y="252.0" text-anchor="end">-30</text>
<text x="1325" y="290.5" text-anchor="end">-36</text>
<svg x="39" y="330" width="1022" height="528" viewBox="39 330 1022 528" overflow="hidden">
<line x1="39" y1="829.5" x2="1061" y2="829.5" stroke="#a0a0a0" stroke-dasharray="1,1"/>
<line x1="39" y1="799.5" x2="1061" y2="799.5" stroke="#a0a0a0" stroke-dasharray="1,1"/>
<line x1="39" y1="770.5" x2="1061" y2="770.5" stroke="#a0a0a0"/>
<line x1="39" y1="741.5" x2="1061" y2="741.5" stroke="#a0a0a0" stroke-dasharray="1,1"/>
<line x1="39" y1="711.5" x2="1061" y2="711.5" stroke="#a0a0a0" stroke-dasharray="1,1"/>
<line x1="39" y1="682.5" x2="1061" y2="682.5" stroke="#a0a0a0"/>
<line x1="39" y1="653.5" x2="1061" y2="653.5" stroke="#a0a0a0" stroke-dasharray="1,1"/>
<line x1="39" y1="623.5" x2="1061" y2="623.5" stroke="#a0a0a0" stroke-dasharray="1,1"/>
<line x1="39" y1="594.5" x2="1061" y2="594.5" stroke="#a0a0a0"/>
<line x1="39" y1="565.5" x2="1061" y2="565.5" stroke="#a0a0a0" stroke-dasharray="1,1"/>
<line x1="39" y1="535.5" x2="1061" y2="535.5" stroke="#a0a0a0" stroke-dasharray="1,1"/>
<line x1="39" y1="506.5" x2="1061" y2="506.5" stroke="#a0a0a0"/>
<line x1="39" y1="477.5" x2="1061" y2="477.5" stroke="#a0a0a0" stroke-dasharray="1,1"/>
<line x1="39" y1="447.5" x2="1061" y2="447.5" stroke="#a0a0a0" stroke-dasharray="1,1"/>
<line x1="39" y1="418.5" x2="1061" y2="418.5" stroke="#a0a0a0"/>
<line x1="39" y1="389.5" x2="1061" y2="389.5" stroke="#a0a0a0" stroke-dasharray="1,1"/>
<line x1="39" y1="359.5" x2="1061" y2="359.5" stroke="#a0a0a0" stroke-dasharray="1,1"/>
<line x1="98.5" y1="330" x2="98.5" y2="858" stroke="#a0a0a0" stroke-dasharray="1,1"/>
<line x1="141.5" y1="330" x2="141.5" y2="858" stroke="#a0a0a0" stroke-dasharray="1,1"/>
<line x1="174.5" y1="330" x2="174.5" y2="858" stroke="#a0a0a0" stroke-dasharray="1,1"/>
<line x1="201.5" y1="330" x2="201.5" y2="858" stroke="#a0a0a0" stroke-dasharray="1,1"/>
<line x1="224.5" y1="330" x2="224.5" y2="858" stroke="#a0a0a0" stroke-dasharray="1,1"/>
<line x1="243.5" y1="330" x2="243.5" y2="858" stroke="#a0a0a0" stroke-dasharray="1,1"/>
<line x1="261.5" y1="330" x2="261.5" y2="858" stroke="#a0a0a0" stroke-dasharray="1,1"/>
<line x1="276.5" y1="330" x2="276.5" y2="858" stroke="#a0a0a0" stroke-dasharray="1,1"/>
<line x1="439.5" y1="330" x2="439.5" y2="858" stroke="#a0a0a0" stroke-dasharray="1,1"/>
<line x1="482.5" y1="330" x2="482.5" y2="858" stroke="#a0a0a0" stroke-dasharray="1,1"/>
<line x1="515.5" y1="330" x2="515.5" y2="858" stroke="#a0a0a0" stroke-dasharray="1,1"/>
<line x1="542.5" y1="330" x2="542.5" y2="858" stroke="#a0a0a0" stroke-dasharray="1,1"/>
<line x1="565.5" y1="330" x2="565.5" y2="858" stroke="#a0a0a0" stroke-dasharray="1,1"/>
<line x1="584.5" y1="330" x2="584.5" y2="858" stroke="#a0a0a0" stroke-dasharray="1,1"/>
<line x1="602.5" y1="330" x2="602.5" y2="858" stroke="#a0a0a0" stroke-dasharray="1,1"/>
<line x1="617.5" y1="330" x2="617.5" y2="858" stroke="#a0a0a0" stroke-dasharray="1,1"/>
<line x1="780.5" y1="330" x2="780.5" y2="858" stroke="#a0a0a0" stroke-dasharray="1,1"/>
<line x1="823.5" y1="330" x2="823.5" y2="858" stroke="#a0a0a0" stroke-dasharray="1,1"/>
<line x1="856.5" y1="330" x2="856.5" y2="858" stroke="#a0a0a0" stroke-dasharray="1,1"/>
<line x1="883.5" y1="330" x2="883.5" y2="858" stroke="#a0a0a0" stroke-dasharray="1,1"/>
<line x1="906.5" y1="330" x2="906.5" y2="858" stroke="#a0a0a0" stroke-dasharray="1,1"/>
<line x1="925.5" y1="330" x2="925.5" y2="858" stroke="#a0a0a0" stroke-dasharray="1,1"/>
<line x1="943.5" y1="330" x2="943.5" y2="858" stroke="#a0a0a0" stroke-dasharray="1,1"/>
<line x1="958.5" y1="330" x2="958.5" y2="858" stroke="#a0a0a0" stroke-dasharray="1,1"/>
<line x1="379.5" y1="330" x2="379.5" y2="858" stroke="#a0a0a0"/>
<line x1="720.5" y1="330" x2="720.5" y2="858" stroke="#a0a0a0"/>
<g fill="none" stroke-linejoin="round" shape-rendering="crispEdges">
<path d="M57.9,330.0 C56.9,337.5 53.8,360.2 52.0,375.0 C50.2,389.8 48.9,404.3 47.4,418.5 C45.9,432.7 44.0,449.2 43.0,460.0 C42.0,470.8 41.9,475.7 41.5,483.5 C41.1,491.3 40.7,499.4 40.4,507.0 C40.1,514.6 40.1,524.5 39.9,529.0 C39.7,533.5 39.3,533.2 39.2,534.0" stroke="#999" stroke-width="1"/>
<path d="M109.5,330.0 C108.6,337.5 105.8,360.2 104.0,375.0 C102.2,389.8 100.2,404.3 99.0,418.5 C97.8,432.7 97.4,447.9 96.8,460.0 C96.2,472.1 95.7,483.5 95.2,491.3 C94.7,499.1 94.5,500.2 94.0,507.0 C93.5,513.8 92.8,524.2 92.4,532.0 C92.0,539.8 91.8,543.7 91.6,554.0 C91.4,564.3 91.3,587.3 91.2,594.0" stroke="#999" stroke-width="1"/>
<path d="M145.5,330.0 C144.6,337.5 141.6,360.2 140.0,375.0 C138.4,389.8 137.2,404.3 135.8,418.5 C134.5,432.7 133.0,446.6 131.9,460.0 C130.8,473.4 130.0,488.6 129.2,499.0 C128.4,509.4 127.6,514.6 126.9,522.7 C126.2,530.8 125.7,535.8 125.3,547.7 C124.9,559.6 124.6,586.3 124.5,594.0" stroke="#999" stroke-width="1"/>
<path d="M164.0,330.0 C163.0,337.5 159.9,360.2 158.0,375.0 C156.1,389.8 154.3,403.2 152.3,418.5 C150.3,433.8 147.5,452.4 146.0,467.0 C144.5,481.6 144.2,493.8 143.5,506.0 C142.8,518.2 142.4,525.3 142.0,540.0 C141.6,554.7 141.2,585.0 141.0,594.0" stroke="#999" stroke-width="1"/>
<path d="M182.3,330.0 C181.1,335.7 177.7,349.6 175.0,364.3 C172.3,379.1 168.6,401.4 166.4,418.5 C164.2,435.6 162.7,456.8 161.7,467.0 C160.7,477.2 161.0,473.5 160.5,480.0 C160.0,486.5 159.2,496.0 158.7,506.0 C158.2,516.0 157.8,525.3 157.5,540.0 C157.2,554.7 156.8,585.0 156.7,594.0" stroke="#999" stroke-width="1"/>
<path d="M199.5,330.0 C198.4,334.7 195.0,348.5 193.1,358.2 C191.2,367.9 189.3,378.6 187.8,388.4 C186.3,398.2 185.6,404.8 184.1,417.2 C182.6,429.6 179.9,452.5 178.8,463.0 C177.7,473.5 178.6,473.8 177.5,480.0 C176.4,486.2 173.5,495.7 172.5,500.0 C171.5,504.3 171.8,500.0 171.5,506.0 C171.2,512.0 170.8,521.3 170.5,536.0 C170.2,550.7 170.0,584.3 169.9,594.0" stroke="#000" stroke-width="2"/>
<path d="M223.7,330.0 C222.4,334.7 218.5,348.5 215.8,358.2 C213.1,367.9 209.9,378.6 207.5,388.4 C205.1,398.2 203.6,404.8 201.4,417.2 C199.2,429.6 196.1,452.5 194.6,463.0 C193.1,473.5 193.4,472.8 192.7,480.0 C192.0,487.2 191.1,496.0 190.3,506.0 C189.5,516.0 188.6,525.3 188.0,540.0 C187.4,554.7 186.8,585.0 186.5,594.0" stroke="#999" stroke-width="1"/>
<path d="M266.4,330.0 C264.3,332.2 257.2,338.2 253.6,343.1 C249.9,348.1 247.3,355.4 244.5,359.7 C241.7,364.0 239.5,364.0 237.0,368.8 C234.5,373.6 231.4,381.1 229.4,388.4 C227.4,395.7 226.4,403.8 224.9,412.6 C223.4,421.4 221.9,432.9 220.3,441.3 C218.7,449.7 216.8,456.6 215.5,463.0 C214.2,469.4 213.5,472.8 212.7,480.0 C211.8,487.2 211.3,496.0 210.4,506.0 C209.5,516.0 208.3,525.3 207.5,540.0 C206.7,554.7 205.8,585.0 205.4,594.0" stroke="#999" stroke-width="1"/>
<path d="M227.6,594.0 C227.8,585.0 228.3,554.7 229.0,540.0 C229.7,525.3 230.5,516.0 232.0,506.0 C233.5,496.0 236.2,487.0 237.9,480.0 C239.6,473.0 240.5,469.4 242.3,464.0 C244.2,458.6 247.1,452.9 249.0,447.4 C250.9,441.8 251.6,435.5 253.6,430.7 C255.6,425.9 257.8,422.7 261.1,418.7 C264.4,414.7 269.3,409.6 273.2,406.6 C277.1,403.7 280.7,402.1 284.6,401.0 C288.5,399.9 290.6,399.6 296.7,400.0 C302.8,400.4 312.8,402.0 320.9,403.5 C328.9,405.0 335.9,407.4 345.0,409.0 C354.1,410.6 367.2,411.4 375.3,413.2 C383.4,415.0 387.4,416.1 393.4,420.0 C399.4,423.9 406.9,432.2 411.5,436.8 C416.1,441.4 416.6,442.9 421.2,447.4 C425.8,451.9 434.5,460.6 439.3,464.0 C444.1,467.4 445.4,467.6 449.9,467.6 C454.4,467.6 461.5,465.1 466.5,464.0 C471.5,462.9 476.5,460.8 480.0,461.0 C483.5,461.2 484.8,463.0 487.6,465.5 C490.4,468.0 493.7,470.7 496.7,476.0 C499.7,481.3 502.8,490.1 505.8,497.2 C508.8,504.3 511.8,511.3 514.8,518.4 C517.8,525.4 520.9,532.0 523.9,539.5 C526.9,547.0 530.8,557.0 533.0,563.7 C535.2,570.5 536.0,575.0 537.0,580.0 C538.0,585.0 538.7,591.7 539.0,594.0" stroke="#2828c0" stroke-width="1"/>
<path d="M278.0,594.0 C278.2,590.8 278.9,580.5 279.5,575.0 C280.1,569.5 280.0,564.6 281.6,560.7 C283.2,556.8 286.0,553.6 289.0,551.6 C292.0,549.6 295.9,548.6 299.7,548.6 C303.5,548.6 307.2,549.1 311.8,551.6 C316.4,554.1 323.0,559.2 327.0,563.7 C331.0,568.2 333.8,573.8 336.0,578.8 C338.2,583.8 339.8,591.5 340.5,594.0" stroke="#a0a0a0" stroke-width="1" stroke-dasharray="3,2"/>
<path d="M333.0,330.0 C337.2,330.3 350.0,331.2 358.0,332.0 C366.0,332.8 374.6,333.3 381.0,335.0 C387.4,336.7 390.2,338.1 396.4,342.0 C402.6,345.9 409.9,351.2 418.0,358.2 C426.1,365.2 438.2,379.5 445.3,384.0 C452.4,388.5 454.3,385.1 460.4,385.4 C466.4,385.7 476.1,385.0 481.6,386.0 C487.2,387.0 489.7,388.3 493.7,391.5 C497.7,394.7 502.0,400.0 505.8,405.0 C509.6,410.0 512.8,414.4 516.3,421.7 C519.8,429.0 523.2,440.4 527.0,449.0 C530.8,457.6 535.5,466.5 539.0,473.0 C542.5,479.5 544.0,484.2 548.0,488.0 C552.0,491.8 556.9,493.7 563.0,495.7 C569.1,497.7 578.4,499.6 584.4,499.8 C590.4,500.0 595.6,496.9 598.8,496.6 C602.0,496.3 600.4,495.5 603.6,498.2 C606.8,500.9 614.0,511.0 618.0,512.6 C622.0,514.2 623.3,507.9 627.6,507.8 C631.9,507.7 638.8,512.3 643.6,511.8 C648.4,511.3 651.8,507.4 656.3,504.6 C660.8,501.8 667.4,496.5 670.7,495.0 C674.0,493.5 673.6,493.3 676.3,495.8 C679.0,498.3 682.8,507.4 686.7,510.2 C690.7,513.0 696.0,511.4 700.0,512.6 C704.0,513.8 706.5,516.1 711.0,517.4 C715.5,518.7 721.7,519.0 727.0,520.6 C732.3,522.2 738.2,524.7 743.0,527.0 C747.8,529.3 751.8,532.4 755.8,534.2 C759.8,536.1 763.0,537.9 767.0,538.1 C771.0,538.4 775.7,536.2 779.7,535.7 C783.7,535.2 788.0,535.9 790.9,535.0 C793.8,534.1 794.9,532.1 797.3,530.2 C799.6,528.3 802.1,523.8 805.0,523.5 C807.9,523.2 811.7,529.1 814.9,528.6 C818.1,528.1 820.9,522.9 824.4,520.6 C827.9,518.3 832.1,515.5 835.6,515.0 C839.1,514.5 842.0,516.2 845.2,517.4 C848.4,518.6 851.9,519.8 854.7,522.2 C857.5,524.6 860.3,528.1 861.9,531.8 C863.5,535.5 864.3,540.0 864.3,544.5 C864.3,549.0 863.5,554.9 861.9,558.9 C860.3,562.9 857.8,565.6 854.7,568.5 C851.7,571.4 846.8,574.5 843.6,576.5 C840.4,578.5 838.5,580.5 835.6,580.5 C832.7,580.5 828.7,577.4 826.0,576.5 C823.3,575.6 821.2,573.3 819.6,574.9 C818.0,576.5 817.0,582.9 816.4,586.1 C815.8,589.3 816.1,592.7 816.0,594.0" stroke="#999" stroke-width="1"/>
<path d="M460.4,330.0 C464.9,331.2 480.6,333.8 487.6,337.0 C494.7,340.2 498.4,345.0 502.7,349.0 C507.0,353.0 510.3,355.9 513.3,361.0 C516.3,366.1 518.1,372.3 520.9,379.4 C523.7,386.5 526.5,395.4 530.0,403.5 C533.5,411.6 537.5,421.1 542.0,427.7 C546.5,434.2 551.5,438.2 557.0,442.8 C562.5,447.4 570.2,452.2 575.3,455.0 C580.4,457.8 583.1,458.6 587.6,459.8 C592.1,461.0 598.3,460.5 602.0,462.2 C605.7,463.9 607.3,467.8 610.0,470.2 C612.7,472.6 614.8,475.9 618.0,476.6 C621.2,477.3 626.3,474.1 629.2,474.2 C632.1,474.3 632.9,475.8 635.6,477.4 C638.3,479.0 641.8,483.3 645.2,483.8 C648.7,484.3 652.0,482.6 656.3,480.6 C660.5,478.6 667.4,473.1 670.7,471.8 C674.0,470.5 673.9,470.1 676.3,472.6 C678.7,475.1 682.0,483.7 685.1,487.0 C688.2,490.3 692.2,491.4 694.7,492.6 C697.2,493.9 697.3,493.4 700.0,494.5 C702.7,495.6 707.3,498.6 711.0,499.0 C714.7,499.4 718.2,496.3 722.2,496.6 C726.2,496.9 730.7,498.9 735.0,500.6 C739.3,502.3 743.8,504.6 747.8,507.0 C751.8,509.4 756.3,513.8 759.0,515.0 C761.7,516.2 761.4,516.2 763.8,514.2 C766.2,512.2 770.6,504.7 773.3,503.0 C775.9,501.3 776.8,503.1 779.7,503.8 C782.6,504.5 787.4,507.3 790.9,507.0 C794.4,506.7 796.8,502.2 800.5,502.2 C804.2,502.2 809.3,507.3 813.3,507.0 C817.3,506.7 820.9,502.5 824.4,500.6 C827.9,498.7 830.3,496.3 834.0,495.8 C837.7,495.3 842.3,496.2 846.8,497.4 C851.3,498.6 857.1,500.7 861.1,503.0 C865.1,505.3 867.2,510.5 870.7,511.0 C874.2,511.5 877.6,507.2 881.9,506.2 C886.1,505.2 892.6,505.6 896.2,504.8 C899.8,504.1 900.0,502.3 903.5,501.7 C907.0,501.1 914.0,500.6 917.1,501.1 C920.2,501.6 920.8,503.4 922.0,504.8 C923.2,506.2 923.8,508.1 924.4,509.7 C925.0,511.3 924.9,513.1 925.7,514.6 C926.5,516.1 927.8,518.1 929.4,518.9 C931.0,519.7 933.5,519.7 935.5,519.5 C937.5,519.3 939.9,517.7 941.7,517.7 C943.6,517.7 945.4,518.2 946.6,519.5 C947.8,520.8 948.5,523.9 949.0,525.7 C949.5,527.6 949.9,528.6 949.7,530.6 C949.5,532.6 948.7,535.8 947.8,538.0 C946.9,540.2 946.1,542.7 944.1,544.1 C942.1,545.5 937.8,545.8 935.5,546.6 C933.2,547.4 931.9,547.4 930.6,549.0 C929.3,550.6 927.9,554.1 927.5,556.4 C927.1,558.7 927.4,561.0 928.1,562.6 C928.8,564.2 929.3,565.6 931.8,566.3 C934.3,567.0 940.2,566.3 942.9,566.9 C945.6,567.5 946.1,568.3 947.8,570.0 C949.5,571.7 951.4,576.9 953.3,577.3 C955.1,577.7 957.1,573.0 958.9,572.4 C960.6,571.8 962.7,571.8 963.8,573.6 C964.9,575.5 965.2,580.1 965.6,583.5 C966.0,586.9 966.2,592.2 966.3,594.0" stroke="#999" stroke-width="1"/>
<path d="M525.4,330.0 C527.2,334.2 532.2,346.5 536.0,355.2 C539.8,363.9 544.5,375.3 548.0,382.4 C551.5,389.4 554.1,393.2 557.1,397.5 C560.1,401.8 562.7,404.5 566.2,408.0 C569.7,411.5 574.8,415.7 578.3,418.7 C581.8,421.7 583.9,424.2 587.4,426.2 C590.9,428.2 596.4,429.2 599.5,430.7 C602.6,432.2 603.4,432.8 606.0,435.3 C608.6,437.8 612.6,443.6 615.1,445.9 C617.6,448.2 618.7,448.5 621.2,448.9 C623.7,449.3 627.7,447.6 630.2,448.1 C632.7,448.6 633.8,449.8 636.3,451.9 C638.8,454.0 642.8,459.4 645.3,461.0 C647.8,462.6 648.9,461.9 651.4,461.7 C653.9,461.4 657.1,461.3 660.4,459.5 C663.7,457.7 668.2,452.4 671.0,451.1 C673.8,449.8 675.2,450.2 677.1,451.9 C679.0,453.5 680.6,458.0 682.4,461.0 C684.1,464.0 685.5,467.5 687.6,470.0 C689.7,472.5 692.4,474.2 695.0,475.8 C697.6,477.4 700.3,479.5 703.0,479.8 C705.7,480.1 708.1,478.7 711.0,477.4 C713.9,476.1 717.1,471.9 720.6,471.8 C724.1,471.7 728.3,475.1 731.8,476.6 C735.3,478.1 738.5,478.9 741.4,480.6 C744.3,482.3 746.7,485.3 749.4,487.0 C752.1,488.7 755.0,491.1 757.4,491.0 C759.8,490.9 761.7,488.1 763.8,486.2 C765.9,484.3 767.8,480.2 770.2,479.8 C772.6,479.4 774.9,482.3 778.1,483.8 C781.3,485.3 785.6,488.3 789.3,488.6 C793.0,488.9 796.1,485.0 800.4,485.4 C804.6,485.8 811.1,490.7 814.8,491.0 C818.5,491.3 819.6,489.1 822.8,487.0 C826.0,484.9 830.5,479.9 834.0,478.7 C837.5,477.5 840.4,478.9 843.6,479.8 C846.8,480.7 850.2,483.0 853.1,483.8 C856.0,484.6 858.2,482.9 861.1,484.6 C864.0,486.3 867.5,492.9 870.7,494.2 C873.9,495.4 877.4,492.2 880.3,492.1 C883.2,492.0 885.6,493.6 888.3,493.4 C891.0,493.2 893.9,491.9 896.3,491.0 C898.7,490.1 899.1,488.7 902.7,488.2 C906.3,487.7 913.4,486.2 917.9,488.2 C922.4,490.2 926.2,498.3 929.9,500.3 C933.6,502.3 937.0,500.1 940.0,500.1 C943.0,500.2 945.9,500.1 948.0,500.6 C950.1,501.1 950.1,502.5 952.8,503.0 C955.5,503.5 961.3,503.0 964.0,503.8 C966.7,504.6 967.1,505.8 968.8,507.8 C970.5,509.8 972.9,512.6 974.4,515.8 C975.9,519.0 976.8,523.3 977.6,527.0 C978.4,530.7 978.5,534.2 979.2,538.2 C979.9,542.2 980.9,547.3 981.6,551.0 C982.3,554.7 982.9,553.4 983.2,560.6 C983.5,567.8 983.2,588.4 983.2,594.0" stroke="#000" stroke-width="2"/>
<path d="M1028.0,594.0 C1028.0,587.4 1027.6,563.2 1028.0,554.2 C1028.4,545.2 1029.1,543.9 1030.4,539.8 C1031.7,535.7 1034.2,529.7 1035.7,529.4 C1037.2,529.1 1038.2,534.9 1039.2,538.2 C1040.2,541.5 1041.1,540.1 1041.6,549.4 C1042.1,558.7 1042.3,586.6 1042.4,594.0" stroke="#000" stroke-width="2"/>
<path d="M1033.2,594.0 C1033.2,589.7 1033.2,574.8 1033.5,568.0 C1033.8,561.2 1034.7,553.0 1035.2,553.0 C1035.8,553.0 1036.5,561.2 1036.8,568.0 C1037.1,574.8 1037.1,589.7 1037.2,594.0" stroke="#999" stroke-width="1"/>
<path d="M543.5,330.0 C545.8,334.2 552.7,347.3 557.0,355.0 C561.3,362.7 564.7,370.3 569.2,376.4 C573.8,382.5 579.2,387.0 584.3,391.5 C589.3,396.0 595.4,399.7 599.5,403.5 C603.6,407.3 606.0,410.7 609.1,414.1 C612.2,417.5 614.6,422.2 618.1,424.0 C621.6,425.8 626.7,423.1 630.2,424.7 C633.7,426.3 636.3,431.1 639.3,433.8 C642.3,436.5 645.1,439.5 648.4,440.6 C651.7,441.7 655.9,441.7 658.9,440.6 C661.9,439.5 664.0,436.0 666.5,433.8 C669.0,431.6 672.2,428.6 674.0,427.7 C675.8,426.8 675.1,425.2 677.1,428.5 C679.1,431.8 683.1,442.5 686.1,447.4 C689.1,452.3 692.4,455.7 695.2,458.0 C698.0,460.3 700.1,462.5 702.7,461.0 C705.3,459.5 708.6,451.7 711.0,448.9 C713.4,446.1 715.1,444.3 717.1,444.3 C719.1,444.3 720.1,447.5 723.1,448.9 C726.1,450.3 732.4,451.8 735.2,452.7 C738.0,453.6 737.9,452.4 740.0,454.2 C742.1,456.0 745.2,461.2 748.1,463.4 C751.0,465.6 754.0,467.7 757.3,467.5 C760.6,467.3 763.9,462.1 767.7,462.3 C771.5,462.5 776.6,467.0 780.3,468.6 C783.9,470.2 786.0,471.9 789.6,472.1 C793.2,472.3 798.2,469.8 802.2,469.8 C806.2,469.8 810.3,472.4 813.8,472.1 C817.3,471.8 819.7,469.4 823.0,468.0 C826.3,466.6 829.9,463.6 833.4,463.4 C836.9,463.2 839.9,465.6 843.7,466.9 C847.5,468.1 852.9,469.8 856.4,470.9 C859.9,472.0 862.0,472.2 864.5,473.8 C867.0,475.4 868.7,480.1 871.4,480.7 C874.1,481.3 877.7,477.4 880.6,477.3 C883.5,477.2 885.5,480.2 888.7,480.1 C891.9,480.0 893.8,475.4 900.0,476.5 C906.2,477.6 917.7,484.4 926.2,486.7 C934.7,489.0 943.1,489.1 950.9,490.3 C958.6,491.5 967.9,493.1 972.7,494.0 C977.5,494.9 977.5,493.2 979.9,495.4 C982.3,497.6 985.5,502.9 987.2,507.0 C988.9,511.1 988.2,516.0 990.1,520.1 C992.0,524.2 995.4,529.5 998.8,531.7 C1002.2,533.9 1007.6,531.2 1010.5,533.2 C1013.4,535.2 1014.6,540.0 1016.3,543.4 C1018.0,546.8 1019.2,554.4 1020.6,553.5 C1022.0,552.6 1023.3,543.2 1024.5,538.0 C1025.7,532.8 1026.4,525.8 1028.0,522.0 C1029.6,518.2 1032.0,515.7 1034.0,515.0 C1036.0,514.3 1038.3,514.7 1040.0,518.0 C1041.7,521.3 1043.1,528.0 1044.0,535.0 C1044.9,542.0 1045.0,550.2 1045.2,560.0 C1045.5,569.8 1045.5,588.3 1045.5,594.0" stroke="#999" stroke-width="1"/>
<path d="M563.2,330.0 C565.7,334.2 573.3,348.5 578.3,355.2 C583.3,361.9 589.8,366.9 593.4,370.3 C597.0,373.7 597.6,372.6 600.0,375.6 C602.4,378.6 604.6,384.2 607.6,388.4 C610.6,392.5 614.3,398.2 618.1,400.5 C621.9,402.8 626.7,400.2 630.2,402.0 C633.7,403.8 636.0,408.0 639.3,411.1 C642.6,414.2 646.6,419.5 649.9,420.9 C653.2,422.3 656.4,420.8 658.9,419.4 C661.4,418.0 663.0,415.1 665.0,412.6 C667.0,410.1 669.2,405.8 671.0,404.3 C672.8,402.8 673.5,401.2 675.5,403.6 C677.5,406.0 680.6,413.6 683.1,418.7 C685.6,423.8 688.4,430.9 690.7,434.5 C693.0,438.1 694.7,440.2 696.7,440.6 C698.7,441.0 700.3,440.5 702.7,436.8 C705.1,433.1 708.9,422.0 711.0,418.7 C713.1,415.4 714.1,416.9 715.6,417.2 C717.1,417.4 717.8,418.1 720.1,420.2 C722.4,422.3 726.4,428.1 729.2,430.0 C732.0,431.9 734.9,430.7 736.7,431.5 C738.5,432.3 737.5,432.0 740.0,434.6 C742.5,437.2 748.4,444.9 751.5,447.3 C754.6,449.7 755.3,448.9 758.4,449.0 C761.5,449.1 766.4,447.3 770.0,447.9 C773.6,448.5 776.8,451.1 780.3,452.5 C783.8,453.9 787.1,456.7 790.7,456.5 C794.4,456.3 798.4,451.7 802.2,451.3 C806.1,450.9 810.3,454.0 813.8,454.2 C817.3,454.4 819.9,453.3 823.0,452.5 C826.1,451.7 828.8,449.5 832.2,449.6 C835.7,449.7 839.9,452.1 843.7,453.1 C847.6,454.2 852.2,454.9 855.3,455.9 C858.4,456.8 859.5,457.0 862.2,458.8 C864.9,460.6 868.5,466.0 871.4,466.9 C874.3,467.8 876.6,464.1 879.5,464.0 C882.4,463.9 885.3,466.4 888.7,466.3 C892.1,466.2 895.2,463.5 900.0,463.4 C904.8,463.3 913.0,464.1 917.4,465.6 C921.8,467.1 920.9,470.4 926.2,472.2 C931.5,474.0 942.9,475.3 949.4,476.5 C955.9,477.7 959.1,477.7 965.4,479.4 C971.7,481.1 981.2,484.8 987.2,486.7 C993.2,488.6 997.1,489.1 1001.7,491.0 C1006.3,492.9 1011.6,493.5 1014.8,498.3 C1017.9,503.1 1018.7,518.9 1020.6,520.0 C1022.5,521.1 1023.9,508.3 1026.0,505.0 C1028.1,501.7 1030.7,500.0 1033.0,500.0 C1035.3,500.0 1038.0,501.7 1040.0,505.0 C1042.0,508.3 1043.8,512.5 1045.0,520.0 C1046.2,527.5 1047.0,537.7 1047.5,550.0 C1048.0,562.3 1047.9,586.7 1048.0,594.0" stroke="#999" stroke-width="1"/>
<path d="M587.4,330.0 C589.5,332.6 596.4,340.3 600.0,345.4 C603.6,350.5 606.1,355.3 609.1,360.5 C612.1,365.7 615.6,373.2 618.1,376.4 C620.6,379.5 621.6,378.9 624.2,379.4 C626.9,379.9 631.2,378.1 634.0,379.4 C636.8,380.7 638.1,383.6 640.8,387.0 C643.4,390.4 647.4,397.6 649.9,399.8 C652.4,402.1 653.6,401.9 655.9,400.5 C658.2,399.1 661.0,395.4 663.5,391.5 C666.0,387.6 669.0,379.6 671.0,377.1 C673.0,374.6 673.7,374.2 675.5,376.4 C677.3,378.5 679.3,384.5 681.6,390.0 C683.9,395.5 686.7,404.9 689.2,409.6 C691.7,414.3 694.7,417.0 696.7,418.0 C698.7,419.0 699.4,418.5 701.2,415.6 C703.0,412.7 705.7,404.3 707.3,400.5 C708.9,396.7 709.9,394.5 711.0,393.0 C712.1,391.5 712.8,391.2 714.1,391.5 C715.4,391.8 716.3,391.5 718.6,394.5 C720.9,397.5 724.7,406.3 727.7,409.6 C730.7,412.9 733.9,411.8 736.7,414.1 C739.5,416.4 741.8,420.6 744.3,423.2 C746.8,425.8 747.4,428.2 751.5,430.0 C755.6,431.8 764.0,433.4 768.8,434.0 C773.6,434.6 776.6,433.1 780.3,433.5 C783.9,433.9 787.1,436.5 790.7,436.3 C794.4,436.1 799.1,433.1 802.2,432.3 C805.3,431.5 806.3,430.4 809.2,431.7 C812.1,433.0 815.9,439.9 819.5,440.4 C823.1,440.9 827.5,434.8 831.1,434.6 C834.8,434.4 838.1,438.9 841.4,439.2 C844.7,439.5 847.2,435.7 850.7,436.3 C854.2,436.9 858.9,439.9 862.2,442.7 C865.5,445.5 867.6,451.7 870.3,453.1 C873.0,454.5 875.2,451.1 878.3,451.3 C881.4,451.5 885.1,454.3 888.7,454.2 C892.3,454.1 895.7,451.1 900.0,450.7 C904.3,450.3 910.4,450.4 914.5,451.8 C918.6,453.2 921.6,457.2 924.7,459.1 C927.9,461.0 929.3,461.8 933.4,463.4 C937.5,465.0 943.3,466.8 949.4,468.5 C955.5,470.2 964.5,471.8 969.8,473.6 C975.1,475.4 977.3,477.2 981.4,479.4 C985.5,481.6 989.6,484.9 994.5,486.7 C999.4,488.5 1006.1,487.9 1010.5,490.3 C1014.9,492.7 1017.7,500.6 1020.6,501.2 C1023.5,501.8 1025.4,496.2 1027.9,494.0 C1030.5,491.8 1033.7,487.4 1035.9,488.1 C1038.1,488.8 1039.3,493.0 1041.0,498.3 C1042.7,503.6 1044.6,511.4 1046.0,520.0 C1047.4,528.6 1048.7,537.7 1049.5,550.0 C1050.3,562.3 1050.8,586.7 1051.0,594.0" stroke="#999" stroke-width="1"/>
<path d="M690.0,330.0 C691.1,330.5 694.5,333.0 696.7,333.0 C698.9,333.0 702.0,330.5 703.0,330.0" stroke="#999" stroke-width="1"/>
<path d="M726.9,330.0 C728.0,332.2 731.3,337.8 733.7,343.1 C736.1,348.4 739.0,358.0 741.3,362.0 C743.6,366.0 745.3,365.8 747.3,367.3 C749.3,368.8 750.8,369.3 753.4,371.1 C756.0,372.9 760.4,377.8 763.2,377.9 C766.0,378.0 767.9,374.3 770.0,371.8 C772.1,369.3 774.0,364.6 776.0,363.1 C778.0,361.7 779.6,361.5 782.1,363.1 C784.6,364.7 788.2,369.5 791.1,372.6 C794.0,375.7 797.1,380.1 799.4,381.6 C801.7,383.1 803.1,381.1 804.7,381.6 C806.4,382.1 807.6,382.3 809.3,384.7 C811.0,387.1 813.2,393.0 815.0,396.0 C816.8,399.0 818.8,404.0 820.1,402.7 C821.5,401.4 821.5,392.9 823.1,388.4 C824.7,383.9 826.9,376.6 829.9,375.6 C832.9,374.6 838.7,381.5 841.2,382.4 C843.7,383.3 843.5,380.1 845.0,380.8 C846.5,381.6 848.5,384.2 850.3,386.9 C852.1,389.5 853.1,393.7 855.6,396.7 C858.1,399.7 862.8,402.5 865.4,405.0 C868.0,407.5 868.6,411.4 871.4,411.8 C874.2,412.2 879.2,406.9 882.0,407.3 C884.8,407.7 886.0,412.9 888.0,414.1 C890.0,415.4 891.1,415.4 894.1,414.8 C897.1,414.2 902.4,410.4 906.2,410.3 C910.0,410.2 913.4,411.5 916.7,414.1 C920.0,416.7 923.5,423.5 925.8,426.1 C928.1,428.8 925.1,427.9 930.5,430.0 C935.9,432.1 950.6,435.8 958.1,438.7 C965.6,441.6 970.8,444.0 975.6,447.4 C980.5,450.8 982.9,456.0 987.2,459.1 C991.6,462.2 996.1,463.6 1001.7,466.3 C1007.3,469.0 1014.9,474.6 1020.6,475.1 C1026.3,475.6 1032.4,469.0 1035.9,469.2 C1039.4,469.4 1040.0,473.0 1041.7,476.5 C1043.4,480.0 1044.7,485.6 1046.0,490.0 C1047.3,494.4 1048.6,496.0 1049.7,502.7 C1050.8,509.4 1051.8,520.5 1052.5,530.0 C1053.2,539.5 1053.7,549.3 1054.0,560.0 C1054.3,570.7 1054.2,588.3 1054.3,594.0" stroke="#999" stroke-width="1"/>
<path d="M866.2,330.0 C867.0,333.2 868.6,345.8 870.7,349.1 C872.8,352.4 876.9,349.4 879.0,349.9 C881.1,350.4 881.7,350.9 883.5,352.2 C885.3,353.4 888.1,356.5 889.6,357.4 C891.1,358.3 890.5,359.5 892.6,357.4 C894.7,355.3 899.9,346.0 902.4,344.6 C904.9,343.2 905.3,346.1 907.7,349.1 C910.1,352.1 913.7,355.9 916.7,362.7 C919.7,369.5 923.8,385.1 925.8,389.9 C927.8,394.7 927.3,391.5 928.8,391.4 C930.3,391.3 933.5,389.7 935.0,389.2 C936.5,388.7 936.0,387.3 938.0,388.4 C940.0,389.5 943.7,394.0 947.1,396.0 C950.5,398.0 954.9,398.2 958.4,400.5 C961.9,402.8 964.8,406.6 968.2,409.6 C971.6,412.6 975.3,415.6 978.8,418.6 C982.3,421.6 986.1,425.2 989.4,427.7 C992.7,430.2 995.0,430.8 998.5,433.7 C1002.0,436.6 1006.5,441.1 1010.5,445.0 C1014.5,448.9 1019.6,455.7 1022.6,457.1 C1025.6,458.5 1026.5,454.9 1028.7,453.4 C1030.9,451.9 1033.5,447.4 1035.5,448.1 C1037.5,448.9 1038.8,454.1 1040.7,457.9 C1042.6,461.7 1044.8,466.9 1046.8,470.7 C1048.8,474.5 1051.1,476.0 1052.6,480.9 C1054.0,485.8 1054.8,491.8 1055.5,500.0 C1056.2,508.2 1056.7,520.0 1057.0,530.0 C1057.3,540.0 1057.4,549.3 1057.5,560.0 C1057.6,570.7 1057.6,588.3 1057.6,594.0" stroke="#999" stroke-width="1"/>
<path d="M950.1,330.0 C950.7,331.2 952.5,335.9 953.9,337.1 C955.3,338.3 956.8,337.7 958.4,337.1 C960.0,336.5 962.1,331.0 963.7,333.3 C965.3,335.6 966.8,346.3 968.2,350.7 C969.6,355.1 970.2,357.4 972.0,359.7 C973.8,361.9 976.1,358.9 978.8,364.2 C981.4,369.5 983.9,383.8 987.9,391.4 C991.9,399.0 999.5,406.2 1003.0,409.6 C1006.5,413.0 1006.5,410.3 1009.0,411.8 C1011.5,413.3 1015.3,416.7 1018.1,418.6 C1020.9,420.5 1022.7,423.7 1025.6,423.2 C1028.5,422.7 1033.0,416.1 1035.5,415.6 C1038.0,415.1 1039.5,417.6 1040.7,420.1 C1042.0,422.6 1042.2,426.6 1043.0,430.7 C1043.8,434.8 1043.9,439.3 1045.3,444.5 C1046.7,449.7 1049.2,457.1 1051.2,462.0 C1053.2,466.9 1055.5,469.2 1057.0,473.6 C1058.5,478.0 1059.2,483.7 1059.9,488.1 C1060.6,492.5 1060.8,497.9 1061.0,499.8" stroke="#999" stroke-width="1"/>
<path d="M583.6,594.0 C583.6,593.2 583.5,591.9 583.6,589.3 C583.7,586.6 583.2,582.1 584.4,578.1 C585.6,574.1 588.4,569.2 590.8,565.3 C593.2,561.4 596.5,555.8 598.8,554.5 C601.1,553.2 602.7,554.7 604.4,557.3 C606.1,559.9 607.9,565.0 609.2,570.1 C610.5,575.2 611.9,583.7 612.4,587.7 C612.9,591.7 612.5,593.0 612.5,594.0" stroke="#2828c0" stroke-width="1"/>
<path d="M620.4,594.0 C620.5,592.1 620.4,587.4 621.2,582.9 C622.0,578.4 623.6,571.3 625.2,566.9 C626.8,562.5 629.1,558.6 630.8,556.5 C632.5,554.4 634.0,554.5 635.6,554.1 C637.2,553.7 638.8,554.6 640.4,554.1 C642.0,553.6 643.6,552.6 645.2,551.0 C646.8,549.4 648.5,546.8 650.0,544.5 C651.5,542.2 652.4,539.7 654.0,537.3 C655.6,534.9 657.5,532.6 659.5,530.2 C661.5,527.8 664.0,524.7 665.9,523.0 C667.8,521.3 669.1,520.5 670.7,520.2 C672.3,519.9 673.9,520.0 675.5,521.4 C677.1,522.8 678.8,526.3 680.3,528.6 C681.8,530.9 681.9,534.2 684.3,535.0 C686.7,535.8 692.1,533.6 694.7,533.3 C697.3,533.0 697.6,532.8 699.8,533.3 C702.0,533.8 704.6,535.0 707.8,536.5 C711.0,538.0 714.2,541.5 719.0,542.6 C723.8,543.7 732.6,542.4 736.6,543.0 C740.6,543.6 739.8,544.1 743.0,546.1 C746.2,548.1 752.3,552.6 755.8,554.9 C759.3,557.2 761.4,557.7 763.8,559.7 C766.2,561.7 768.3,564.5 770.2,567.0 C772.1,569.5 773.8,572.2 775.0,574.9 C776.2,577.5 776.8,579.7 777.3,582.9 C777.8,586.1 778.0,592.1 778.1,594.0" stroke="#2828c0" stroke-width="1"/>
<path d="M832.6,547.4 C832.6,545.4 832.6,542.8 833.5,541.5 C834.4,540.2 836.3,539.4 837.7,539.4 C839.1,539.4 841.1,540.2 842.0,541.5 C842.9,542.8 842.9,545.4 842.9,547.4 C842.9,549.4 842.9,552.0 842.0,553.3 C841.1,554.6 839.1,555.4 837.7,555.4 C836.3,555.4 834.4,554.6 833.5,553.3 C832.6,552.0 832.6,549.4 832.6,547.4Z" stroke="#2828c0" stroke-width="1"/>
<path d="M659.5,594.0 C659.8,591.9 660.0,586.3 661.1,581.3 C662.2,576.2 664.3,567.7 665.9,563.7 C667.5,559.7 669.1,558.1 670.7,557.3 C672.3,556.4 673.9,556.5 675.5,558.6 C677.1,560.7 679.0,566.3 680.3,570.1 C681.6,573.9 682.8,577.3 683.5,581.3 C684.2,585.3 684.2,591.9 684.3,594.0" stroke="#a0a0a0" stroke-width="1" stroke-dasharray="3,2"/>
<path d="M688.3,594.0 C688.8,590.5 689.9,578.3 691.5,573.3 C693.1,568.2 696.0,565.8 697.9,563.7 C699.8,561.6 700.8,560.0 703.0,560.5 C705.2,561.0 708.6,564.3 711.0,567.0 C713.4,569.7 715.5,574.0 717.4,576.5 C719.3,579.0 720.3,581.6 722.2,582.1 C724.1,582.6 725.9,581.0 728.6,579.7 C731.3,578.4 735.5,574.6 738.2,574.1 C740.9,573.6 742.5,574.5 744.6,576.5 C746.7,578.5 749.5,583.2 751.0,586.1 C752.5,589.0 753.0,592.7 753.4,594.0" stroke="#a0a0a0" stroke-width="1" stroke-dasharray="3,2"/>
<path d="M856.0,594.0 C856.2,592.1 855.9,585.9 857.1,582.9 C858.3,579.9 860.7,577.5 863.0,576.0 C865.3,574.5 868.5,573.9 870.7,574.1 C872.9,574.3 874.7,575.5 876.0,577.0 C877.3,578.5 878.0,580.1 878.7,582.9 C879.4,585.7 880.0,592.1 880.3,594.0" stroke="#999" stroke-width="1"/>
<path d="M901.1,594.0 C901.3,592.6 901.4,588.1 902.3,585.9 C903.2,583.7 905.0,582.8 906.6,581.0 C908.2,579.2 910.4,576.1 912.1,574.9 C913.9,573.7 915.9,572.6 917.1,573.6 C918.3,574.6 918.8,578.5 919.5,581.0 C920.2,583.5 921.0,586.2 921.4,588.4 C921.8,590.6 921.9,593.1 922.0,594.0" stroke="#999" stroke-width="1"/>
<path d="M893.7,530.6 C893.9,527.7 894.8,525.2 896.2,523.2 C897.6,521.2 899.8,519.6 902.3,518.9 C904.8,518.2 908.3,518.9 910.9,518.9 C913.5,518.9 916.2,517.6 917.7,518.9 C919.2,520.2 919.7,524.1 920.1,526.9 C920.5,529.7 920.3,532.6 920.1,535.5 C919.9,538.4 919.5,542.0 918.9,544.1 C918.3,546.2 918.1,548.0 916.4,548.4 C914.7,548.8 911.0,546.8 908.5,546.6 C906.0,546.4 903.4,548.2 901.1,547.2 C898.8,546.2 896.1,543.2 894.9,540.4 C893.7,537.6 893.5,533.5 893.7,530.6Z" stroke="#999" stroke-width="1"/>
</g>
<g fill="none" stroke-linejoin="round" shape-rendering="crispEdges" transform="matrix(1 0 0 -1 0 1188)">
<path d="M57.9,330.0 C56.9,337.5 53.8,360.2 52.0,375.0 C50.2,389.8 48.9,404.3 47.4,418.5 C45.9,432.7 44.0,449.2 43.0,460.0 C42.0,470.8 41.9,475.7 41.5,483.5 C41.1,491.3 40.7,499.4 40.4,507.0 C40.1,514.6 40.1,524.5 39.9,529.0 C39.7,533.5 39.3,533.2 39.2,534.0" stroke="#999" stroke-width="1"/>
<path d="M109.5,330.0 C108.6,337.5 105.8,360.2 104.0,375.0 C102.2,389.8 100.2,404.3 99.0,418.5 C97.8,432.7 97.4,447.9 96.8,460.0 C96.2,472.1 95.7,483.5 95.2,491.3 C94.7,499.1 94.5,500.2 94.0,507.0 C93.5,513.8 92.8,524.2 92.4,532.0 C92.0,539.8 91.8,543.7 91.6,554.0 C91.4,564.3 91.3,587.3 91.2,594.0" stroke="#999" stroke-width="1"/>
<path d="M145.5,330.0 C144.6,337.5 141.6,360.2 140.0,375.0 C138.4,389.8 137.2,404.3 135.8,418.5 C134.5,432.7 133.0,446.6 131.9,460.0 C130.8,473.4 130.0,488.6 129.2,499.0 C128.4,509.4 127.6,514.6 126.9,522.7 C126.2,530.8 125.7,535.8 125.3,547.7 C124.9,559.6 124.6,586.3 124.5,594.0" stroke="#999" stroke-width="1"/>
<path d="M164.0,330.0 C163.0,337.5 159.9,360.2 158.0,375.0 C156.1,389.8 154.3,403.2 152.3,418.5 C150.3,433.8 147.5,452.4 146.0,467.0 C144.5,481.6 144.2,493.8 143.5,506.0 C142.8,518.2 142.4,525.3 142.0,540.0 C141.6,554.7 141.2,585.0 141.0,594.0" stroke="#999" stroke-width="1"/>
<path d="M182.3,330.0 C181.1,335.7 177.7,349.6 175.0,364.3 C172.3,379.1 168.6,401.4 166.4,418.5 C164.2,435.6 162.7,456.8 161.7,467.0 C160.7,477.2 161.0,473.5 160.5,480.0 C160.0,486.5 159.2,496.0 158.7,506.0 C158.2,516.0 157.8,525.3 157.5,540.0 C157.2,554.7 156.8,585.0 156.7,594.0" stroke="#999" stroke-width="1"/>
<path d="M199.5,330.0 C198.4,334.7 195.0,348.5 193.1,358.2 C191.2,367.9 189.3,378.6 187.8,388.4 C186.3,398.2 185.6,404.8 184.1,417.2 C182.6,429.6 179.9,452.5 178.8,463.0 C177.7,473.5 178.6,473.8 177.5,480.0 C176.4,486.2 173.5,495.7 172.5,500.0 C171.5,504.3 171.8,500.0 171.5,506.0 C171.2,512.0 170.8,521.3 170.5,536.0 C170.2,550.7 170.0,584.3 169.9,594.0" stroke="#000" stroke-width="2"/>
<path d="M223.7,330.0 C222.4,334.7 218.5,348.5 215.8,358.2 C213.1,367.9 209.9,378.6 207.5,388.4 C205.1,398.2 203.6,404.8 201.4,417.2 C199.2,429.6 196.1,452.5 194.6,463.0 C193.1,473.5 193.4,472.8 192.7,480.0 C192.0,487.2 191.1,496.0 190.3,506.0 C189.5,516.0 188.6,525.3 188.0,540.0 C187.4,554.7 186.8,585.0 186.5,594.0" stroke="#999" stroke-width="1"/>
<path d="M266.4,330.0 C264.3,332.2 257.2,338.2 253.6,343.1 C249.9,348.1 247.3,355.4 244.5,359.7 C241.7,364.0 239.5,364.0 237.0,368.8 C234.5,373.6 231.4,381.1 229.4,388.4 C227.4,395.7 226.4,403.8 224.9,412.6 C223.4,421.4 221.9,432.9 220.3,441.3 C218.7,449.7 216.8,456.6 215.5,463.0 C214.2,469.4 213.5,472.8 212.7,480.0 C211.8,487.2 211.3,496.0 210.4,506.0 C209.5,516.0 208.3,525.3 207.5,540.0 C206.7,554.7 205.8,585.0 205.4,594.0" stroke="#999" stroke-width="1"/>
<path d="M227.6,594.0 C227.8,585.0 228.3,554.7 229.0,540.0 C229.7,525.3 230.5,516.0 232.0,506.0 C233.5,496.0 236.2,487.0 237.9,480.0 C239.6,473.0 240.5,469.4 242.3,464.0 C244.2,458.6 247.1,452.9 249.0,447.4 C250.9,441.8 251.6,435.5 253.6,430.7 C255.6,425.9 257.8,422.7 261.1,418.7 C264.4,414.7 269.3,409.6 273.2,406.6 C277.1,403.7 280.7,402.1 284.6,401.0 C288.5,399.9 290.6,399.6 296.7,400.0 C302.8,400.4 312.8,402.0 320.9,403.5 C328.9,405.0 335.9,407.4 345.0,409.0 C354.1,410.6 367.2,411.4 375.3,413.2 C383.4,415.0 387.4,416.1 393.4,420.0 C399.4,423.9 406.9,432.2 411.5,436.8 C416.1,441.4 416.6,442.9 421.2,447.4 C425.8,451.9 434.5,460.6 439.3,464.0 C444.1,467.4 445.4,467.6 449.9,467.6 C454.4,467.6 461.5,465.1 466.5,464.0 C471.5,462.9 476.5,460.8 480.0,461.0 C483.5,461.2 484.8,463.0 487.6,465.5 C490.4,468.0 493.7,470.7 496.7,476.0 C499.7,481.3 502.8,490.1 505.8,497.2 C508.8,504.3 511.8,511.3 514.8,518.4 C517.8,525.4 520.9,532.0 523.9,539.5 C526.9,547.0 530.8,557.0 533.0,563.7 C535.2,570.5 536.0,575.0 537.0,580.0 C538.0,585.0 538.7,591.7 539.0,594.0" stroke="#2828c0" stroke-width="1"/>
<path d="M278.0,594.0 C278.2,590.8 278.9,580.5 279.5,575.0 C280.1,569.5 280.0,564.6 281.6,560.7 C283.2,556.8 286.0,553.6 289.0,551.6 C292.0,549.6 295.9,548.6 299.7,548.6 C303.5,548.6 307.2,549.1 311.8,551.6 C316.4,554.1 323.0,559.2 327.0,563.7 C331.0,568.2 333.8,573.8 336.0,578.8 C338.2,583.8 339.8,591.5 340.5,594.0" stroke="#a0a0a0" stroke-width="1" stroke-dasharray="3,2"/>
<path d="M333.0,330.0 C337.2,330.3 350.0,331.2 358.0,332.0 C366.0,332.8 374.6,333.3 381.0,335.0 C387.4,336.7 390.2,338.1 396.4,342.0 C402.6,345.9 409.9,351.2 418.0,358.2 C426.1,365.2 438.2,379.5 445.3,384.0 C452.4,388.5 454.3,385.1 460.4,385.4 C466.4,385.7 476.1,385.0 481.6,386.0 C487.2,387.0 489.7,388.3 493.7,391.5 C497.7,394.7 502.0,400.0 505.8,405.0 C509.6,410.0 512.8,414.4 516.3,421.7 C519.8,429.0 523.2,440.4 527.0,449.0 C530.8,457.6 535.5,466.5 539.0,473.0 C542.5,479.5 544.0,484.2 548.0,488.0 C552.0,491.8 556.9,493.7 563.0,495.7 C569.1,497.7 578.4,499.6 584.4,499.8 C590.4,500.0 595.6,496.9 598.8,496.6 C602.0,496.3 600.4,495.5 603.6,498.2 C606.8,500.9 614.0,511.0 618.0,512.6 C622.0,514.2 623.3,507.9 627.6,507.8 C631.9,507.7 638.8,512.3 643.6,511.8 C648.4,511.3 651.8,507.4 656.3,504.6 C660.8,501.8 667.4,496.5 670.7,495.0 C674.0,493.5 673.6,493.3 676.3,495.8 C679.0,498.3 682.8,507.4 686.7,510.2 C690.7,513.0 696.0,511.4 700.0,512.6 C704.0,513.8 706.5,516.1 711.0,517.4 C715.5,518.7 721.7,519.0 727.0,520.6 C732.3,522.2 738.2,524.7 743.0,527.0 C747.8,529.3 751.8,532.4 755.8,534.2 C759.8,536.1 763.0,537.9 767.0,538.1 C771.0,538.4 775.7,536.2 779.7,535.7 C783.7,535.2 788.0,535.9 790.9,535.0 C793.8,534.1 794.9,532.1 797.3,530.2 C799.6,528.3 802.1,523.8 805.0,523.5 C807.9,523.2 811.7,529.1 814.9,528.6 C818.1,528.1 820.9,522.9 824.4,520.6 C827.9,518.3 832.1,515.5 835.6,515.0 C839.1,514.5 842.0,516.2 845.2,517.4 C848.4,518.6 851.9,519.8 854.7,522.2 C857.5,524.6 860.3,528.1 861.9,531.8 C863.5,535.5 864.3,540.0 864.3,544.5 C864.3,549.0 863.5,554.9 861.9,558.9 C860.3,562.9 857.8,565.6 854.7,568.5 C851.7,571.4 846.8,574.5 843.6,576.5 C840.4,578.5 838.5,580.5 835.6,580.5 C832.7,580.5 828.7,577.4 826.0,576.5 C823.3,575.6 821.2,573.3 819.6,574.9 C818.0,576.5 817.0,582.9 816.4,586.1 C815.8,589.3 816.1,592.7 816.0,594.0" stroke="#999" stroke-width="1"/>
<path d="M460.4,330.0 C464.9,331.2 480.6,333.8 487.6,337.0 C494.7,340.2 498.4,345.0 502.7,349.0 C507.0,353.0 510.3,355.9 513.3,361.0 C516.3,366.1 518.1,372.3 520.9,379.4 C523.7,386.5 526.5,395.4 530.0,403.5 C533.5,411.6 537.5,421.1 542.0,427.7 C546.5,434.2 551.5,438.2 557.0,442.8 C562.5,447.4 570.2,452.2 575.3,455.0 C580.4,457.8 583.1,458.6 587.6,459.8 C592.1,461.0 598.3,460.5 602.0,462.2 C605.7,463.9 607.3,467.8 610.0,470.2 C612.7,472.6 614.8,475.9 618.0,476.6 C621.2,477.3 626.3,474.1 629.2,474.2 C632.1,474.3 632.9,475.8 635.6,477.4 C638.3,479.0 641.8,483.3 645.2,483.8 C648.7,484.3 652.0,482.6 656.3,480.6 C660.5,478.6 667.4,473.1 670.7,471.8 C674.0,470.5 673.9,470.1 676.3,472.6 C678.7,475.1 682.0,483.7 685.1,487.0 C688.2,490.3 692.2,491.4 694.7,492.6 C697.2,493.9 697.3,493.4 700.0,494.5 C702.7,495.6 707.3,498.6 711.0,499.0 C714.7,499.4 718.2,496.3 722.2,496.6 C726.2,496.9 730.7,498.9 735.0,500.6 C739.3,502.3 743.8,504.6 747.8,507.0 C751.8,509.4 756.3,513.8 759.0,515.0 C761.7,516.2 761.4,516.2 763.8,514.2 C766.2,512.2 770.6,504.7 773.3,503.0 C775.9,501.3 776.8,503.1 779.7,503.8 C782.6,504.5 787.4,507.3 790.9,507.0 C794.4,506.7 796.8,502.2 800.5,502.2 C804.2,502.2 809.3,507.3 813.3,507.0 C817.3,506.7 820.9,502.5 824.4,500.6 C827.9,498.7 830.3,496.3 834.0,495.8 C837.7,495.3 842.3,496.2 846.8,497.4 C851.3,498.6 857.1,500.7 861.1,503.0 C865.1,505.3 867.2,510.5 870.7,511.0 C874.2,511.5 877.6,507.2 881.9,506.2 C886.1,505.2 892.6,505.6 896.2,504.8 C899.8,504.1 900.0,502.3 903.5,501.7 C907.0,501.1 914.0,500.6 917.1,501.1 C920.2,501.6 920.8,503.4 922.0,504.8 C923.2,506.2 923.8,508.1 924.4,509.7 C925.0,511.3 924.9,513.1 925.7,514.6 C926.5,516.1 927.8,518.1 929.4,518.9 C931.0,519.7 933.5,519.7 935.5,519.5 C937.5,519.3 939.9,517.7 941.7,517.7 C943.6,517.7 945.4,518.2 946.6,519.5 C947.8,520.8 948.5,523.9 949.0,525.7 C949.5,527.6 949.9,528.6 949.7,530.6 C949.5,532.6 948.7,535.8 947.8,538.0 C946.9,540.2 946.1,542.7 944.1,544.1 C942.1,545.5 937.8,545.8 935.5,546.6 C933.2,547.4 931.9,547.4 930.6,549.0 C929.3,550.6 927.9,554.1 927.5,556.4 C927.1,558.7 927.4,561.0 928.1,562.6 C928.8,564.2 929.3,565.6 931.8,566.3 C934.3,567.0 940.2,566.3 942.9,566.9 C945.6,567.5 946.1,568.3 947.8,570.0 C949.5,571.7 951.4,576.9 953.3,577.3 C955.1,577.7 957.1,573.0 958.9,572.4 C960.6,571.8 962.7,571.8 963.8,573.6 C964.9,575.5 965.2,580.1 965.6,583.5 C966.0,586.9 966.2,592.2 966.3,594.0" stroke="#999" stroke-width="1"/>
<path d="M525.4,330.0 C527.2,334.2 532.2,346.5 536.0,355.2 C539.8,363.9 544.5,375.3 548.0,382.4 C551.5,389.4 554.1,393.2 557.1,397.5 C560.1,401.8 562.7,404.5 566.2,408.0 C569.7,411.5 574.8,415.7 578.3,418.7 C581.8,421.7 583.9,424.2 587.4,426.2 C590.9,428.2 596.4,429.2 599.5,430.7 C602.6,432.2 603.4,432.8 606.0,435.3 C608.6,437.8 612.6,443.6 615.1,445.9 C617.6,448.2 618.7,448.5 621.2,448.9 C623.7,449.3 627.7,447.6 630.2,448.1 C632.7,448.6 633.8,449.8 636.3,451.9 C638.8,454.0 642.8,459.4 645.3,461.0 C647.8,462.6 648.9,461.9 651.4,461.7 C653.9,461.4 657.1,461.3 660.4,459.5 C663.7,457.7 668.2,452.4 671.0,451.1 C673.8,449.8 675.2,450.2 677.1,451.9 C679.0,453.5 680.6,458.0 682.4,461.0 C684.1,464.0 685.5,467.5 687.6,470.0 C689.7,472.5 692.4,474.2 695.0,475.8 C697.6,477.4 700.3,479.5 703.0,479.8 C705.7,480.1 708.1,478.7 711.0,477.4 C713.9,476.1 717.1,471.9 720.6,471.8 C724.1,471.7 728.3,475.1 731.8,476.6 C735.3,478.1 738.5,478.9 741.4,480.6 C744.3,482.3 746.7,485.3 749.4,487.0 C752.1,488.7 755.0,491.1 757.4,491.0 C759.8,490.9 761.7,488.1 763.8,486.2 C765.9,484.3 767.8,480.2 770.2,479.8 C772.6,479.4 774.9,482.3 778.1,483.8 C781.3,485.3 785.6,488.3 789.3,488.6 C793.0,488.9 796.1,485.0 800.4,485.4 C804.6,485.8 811.1,490.7 814.8,491.0 C818.5,491.3 819.6,489.1 822.8,487.0 C826.0,484.9 830.5,479.9 834.0,478.7 C837.5,477.5 840.4,478.9 843.6,479.8 C846.8,480.7 850.2,483.0 853.1,483.8 C856.0,484.6 858.2,482.9 861.1,484.6 C864.0,486.3 867.5,492.9 870.7,494.2 C873.9,495.4 877.4,492.2 880.3,492.1 C883.2,492.0 885.6,493.6 888.3,493.4 C891.0,493.2 893.9,491.9 896.3,491.0 C898.7,490.1 899.1,488.7 902.7,488.2 C906.3,487.7 913.4,486.2 917.9,488.2 C922.4,490.2 926.2,498.3 929.9,500.3 C933.6,502.3 937.0,500.1 940.0,500.1 C943.0,500.2 945.9,500.1 948.0,500.6 C950.1,501.1 950.1,502.5 952.8,503.0 C955.5,503.5 961.3,503.0 964.0,503.8 C966.7,504.6 967.1,505.8 968.8,507.8 C970.5,509.8 972.9,512.6 974.4,515.8 C975.9,519.0 976.8,523.3 977.6,527.0 C978.4,530.7 978.5,534.2 979.2,538.2 C979.9,542.2 980.9,547.3 981.6,551.0 C982.3,554.7 982.9,553.4 983.2,560.6 C983.5,567.8 983.2,588.4 983.2,594.0" stroke="#000" stroke-width="2"/>
<path d="M1028.0,594.0 C1028.0,587.4 1027.6,563.2 1028.0,554.2 C1028.4,545.2 1029.1,543.9 1030.4,539.8 C1031.7,535.7 1034.2,529.7 1035.7,529.4 C1037.2,529.1 1038.2,534.9 1039.2,538.2 C1040.2,541.5 1041.1,540.1 1041.6,549.4 C1042.1,558.7 1042.3,586.6 1042.4,594.0" stroke="#000" stroke-width="2"/>
<path d="M1033.2,594.0 C1033.2,589.7 1033.2,574.8 1033.5,568.0 C1033.8,561.2 1034.7,553.0 1035.2,553.0 C1035.8,553.0 1036.5,561.2 1036.8,568.0 C1037.1,574.8 1037.1,589.7 1037.2,594.0" stroke="#999" stroke-width="1"/>
<path d="M543.5,330.0 C545.8,334.2 552.7,347.3 557.0,355.0 C561.3,362.7 564.7,370.3 569.2,376.4 C573.8,382.5 579.2,387.0 584.3,391.5 C589.3,396.0 595.4,399.7 599.5,403.5 C603.6,407.3 606.0,410.7 609.1,414.1 C612.2,417.5 614.6,422.2 618.1,424.0 C621.6,425.8 626.7,423.1 630.2,424.7 C633.7,426.3 636.3,431.1 639.3,433.8 C642.3,436.5 645.1,439.5 648.4,440.6 C651.7,441.7 655.9,441.7 658.9,440.6 C661.9,439.5 664.0,436.0 666.5,433.8 C669.0,431.6 672.2,428.6 674.0,427.7 C675.8,426.8 675.1,425.2 677.1,428.5 C679.1,431.8 683.1,442.5 686.1,447.4 C689.1,452.3 692.4,455.7 695.2,458.0 C698.0,460.3 700.1,462.5 702.7,461.0 C705.3,459.5 708.6,451.7 711.0,448.9 C713.4,446.1 715.1,444.3 717.1,444.3 C719.1,444.3 720.1,447.5 723.1,448.9 C726.1,450.3 732.4,451.8 735.2,452.7 C738.0,453.6 737.9,452.4 740.0,454.2 C742.1,456.0 745.2,461.2 748.1,463.4 C751.0,465.6 754.0,467.7 757.3,467.5 C760.6,467.3 763.9,462.1 767.7,462.3 C771.5,462.5 776.6,467.0 780.3,468.6 C783.9,470.2 786.0,471.9 789.6,472.1 C793.2,472.3 798.2,469.8 802.2,469.8 C806.2,469.8 810.3,472.4 813.8,472.1 C817.3,471.8 819.7,469.4 823.0,468.0 C826.3,466.6 829.9,463.6 833.4,463.4 C836.9,463.2 839.9,465.6 843.7,466.9 C847.5,468.1 852.9,469.8 856.4,470.9 C859.9,472.0 862.0,472.2 864.5,473.8 C867.0,475.4 868.7,480.1 871.4,480.7 C874.1,481.3 877.7,477.4 880.6,477.3 C883.5,477.2 885.5,480.2 888.7,480.1 C891.9,480.0 893.8,475.4 900.0,476.5 C906.2,477.6 917.7,484.4 926.2,486.7 C934.7,489.0 943.1,489.1 950.9,490.3 C958.6,491.5 967.9,493.1 972.7,494.0 C977.5,494.9 977.5,493.2 979.9,495.4 C982.3,497.6 985.5,502.9 987.2,507.0 C988.9,511.1 988.2,516.0 990.1,520.1 C992.0,524.2 995.4,529.5 998.8,531.7 C1002.2,533.9 1007.6,531.2 1010.5,533.2 C1013.4,535.2 1014.6,540.0 1016.3,543.4 C1018.0,546.8 1019.2,554.4 1020.6,553.5 C1022.0,552.6 1023.3,543.2 1024.5,538.0 C1025.7,532.8 1026.4,525.8 1028.0,522.0 C1029.6,518.2 1032.0,515.7 1034.0,515.0 C1036.0,514.3 1038.3,514.7 1040.0,518.0 C1041.7,521.3 1043.1,528.0 1044.0,535.0 C1044.9,542.0 1045.0,550.2 1045.2,560.0 C1045.5,569.8 1045.5,588.3 1045.5,594.0" stroke="#999" stroke-width="1"/>
<path d="M563.2,330.0 C565.7,334.2 573.3,348.5 578.3,355.2 C583.3,361.9 589.8,366.9 593.4,370.3 C597.0,373.7 597.6,372.6 600.0,375.6 C602.4,378.6 604.6,384.2 607.6,388.4 C610.6,392.5 614.3,398.2 618.1,400.5 C621.9,402.8 626.7,400.2 630.2,402.0 C633.7,403.8 636.0,408.0 639.3,411.1 C642.6,414.2 646.6,419.5 649.9,420.9 C653.2,422.3 656.4,420.8 658.9,419.4 C661.4,418.0 663.0,415.1 665.0,412.6 C667.0,410.1 669.2,405.8 671.0,404.3 C672.8,402.8 673.5,401.2 675.5,403.6 C677.5,406.0 680.6,413.6 683.1,418.7 C685.6,423.8 688.4,430.9 690.7,434.5 C693.0,438.1 694.7,440.2 696.7,440.6 C698.7,441.0 700.3,440.5 702.7,436.8 C705.1,433.1 708.9,422.0 711.0,418.7 C713.1,415.4 714.1,416.9 715.6,417.2 C717.1,417.4 717.8,418.1 720.1,420.2 C722.4,422.3 726.4,428.1 729.2,430.0 C732.0,431.9 734.9,430.7 736.7,431.5 C738.5,432.3 737.5,432.0 740.0,434.6 C742.5,437.2 748.4,444.9 751.5,447.3 C754.6,449.7 755.3,448.9 758.4,449.0 C761.5,449.1 766.4,447.3 770.0,447.9 C773.6,448.5 776.8,451.1 780.3,452.5 C783.8,453.9 787.1,456.7 790.7,456.5 C794.4,456.3 798.4,451.7 802.2,451.3 C806.1,450.9 810.3,454.0 813.8,454.2 C817.3,454.4 819.9,453.3 823.0,452.5 C826.1,451.7 828.8,449.5 832.2,449.6 C835.7,449.7 839.9,452.1 843.7,453.1 C847.6,454.2 852.2,454.9 855.3,455.9 C858.4,456.8 859.5,457.0 862.2,458.8 C864.9,460.6 868.5,466.0 871.4,466.9 C874.3,467.8 876.6,464.1 879.5,464.0 C882.4,463.9 885.3,466.4 888.7,466.3 C892.1,466.2 895.2,463.5 900.0,463.4 C904.8,463.3 913.0,464.1 917.4,465.6 C921.8,467.1 920.9,470.4 926.2,472.2 C931.5,474.0 942.9,475.3 949.4,476.5 C955.9,477.7 959.1,477.7 965.4,479.4 C971.7,481.1 981.2,484.8 987.2,486.7 C993.2,488.6 997.1,489.1 1001.7,491.0 C1006.3,492.9 1011.6,493.5 1014.8,498.3 C1017.9,503.1 1018.7,518.9 1020.6,520.0 C1022.5,521.1 1023.9,508.3 1026.0,505.0 C1028.1,501.7 1030.7,500.0 1033.0,500.0 C1035.3,500.0 1038.0,501.7 1040.0,505.0 C1042.0,508.3 1043.8,512.5 1045.0,520.0 C1046.2,527.5 1047.0,537.7 1047.5,550.0 C1048.0,562.3 1047.9,586.7 1048.0,594.0" stroke="#999" stroke-width="1"/>
<path d="M587.4,330.0 C589.5,332.6 596.4,340.3 600.0,345.4 C603.6,350.5 606.1,355.3 609.1,360.5 C612.1,365.7 615.6,373.2 618.1,376.4 C620.6,379.5 621.6,378.9 624.2,379.4 C626.9,379.9 631.2,378.1 634.0,379.4 C636.8,380.7 638.1,383.6 640.8,387.0 C643.4,390.4 647.4,397.6 649.9,399.8 C652.4,402.1 653.6,401.9 655.9,400.5 C658.2,399.1 661.0,395.4 663.5,391.5 C666.0,387.6 669.0,379.6 671.0,377.1 C673.0,374.6 673.7,374.2 675.5,376.4 C677.3,378.5 679.3,384.5 681.6,390.0 C683.9,395.5 686.7,404.9 689.2,409.6 C691.7,414.3 694.7,417.0 696.7,418.0 C698.7,419.0 699.4,418.5 701.2,415.6 C703.0,412.7 705.7,404.3 707.3,400.5 C708.9,396.7 709.9,394.5 711.0,393.0 C712.1,391.5 712.8,391.2 714.1,391.5 C715.4,391.8 716.3,391.5 718.6,394.5 C720.9,397.5 724.7,406.3 727.7,409.6 C730.7,412.9 733.9,411.8 736.7,414.1 C739.5,416.4 741.8,420.6 744.3,423.2 C746.8,425.8 747.4,428.2 751.5,430.0 C755.6,431.8 764.0,433.4 768.8,434.0 C773.6,434.6 776.6,433.1 780.3,433.5 C783.9,433.9 787.1,436.5 790.7,436.3 C794.4,436.1 799.1,433.1 802.2,432.3 C805.3,431.5 806.3,430.4 809.2,431.7 C812.1,433.0 815.9,439.9 819.5,440.4 C823.1,440.9 827.5,434.8 831.1,434.6 C834.8,434.4 838.1,438.9 841.4,439.2 C844.7,439.5 847.2,435.7 850.7,436.3 C854.2,436.9 858.9,439.9 862.2,442.7 C865.5,445.5 867.6,451.7 870.3,453.1 C873.0,454.5 875.2,451.1 878.3,451.3 C881.4,451.5 885.1,454.3 888.7,454.2 C892.3,454.1 895.7,451.1 900.0,450.7 C904.3,450.3 910.4,450.4 914.5,451.8 C918.6,453.2 921.6,457.2 924.7,459.1 C927.9,461.0 929.3,461.8 933.4,463.4 C937.5,465.0 943.3,466.8 949.4,468.5 C955.5,470.2 964.5,471.8 969.8,473.6 C975.1,475.4 977.3,477.2 981.4,479.4 C985.5,481.6 989.6,484.9 994.5,486.7 C999.4,488.5 1006.1,487.9 1010.5,490.3 C1014.9,492.7 1017.7,500.6 1020.6,501.2 C1023.5,501.8 1025.4,496.2 1027.9,494.0 C1030.5,491.8 1033.7,487.4 1035.9,488.1 C1038.1,488.8 1039.3,493.0 1041.0,498.3 C1042.7,503.6 1044.6,511.4 1046.0,520.0 C1047.4,528.6 1048.7,537.7 1049.5,550.0 C1050.3,562.3 1050.8,586.7 1051.0,594.0" stroke="#999" stroke-width="1"/>
<path d="M690.0,330.0 C691.1,330.5 694.5,333.0 696.7,333.0 C698.9,333.0 702.0,330.5 703.0,330.0" stroke="#999" stroke-width="1"/>
<path d="M726.9,330.0 C728.0,332.2 731.3,337.8 733.7,343.1 C736.1,348.4 739.0,358.0 741.3,362.0 C743.6,366.0 745.3,365.8 747.3,367.3 C749.3,368.8 750.8,369.3 753.4,371.1 C756.0,372.9 760.4,377.8 763.2,377.9 C766.0,378.0 767.9,374.3 770.0,371.8 C772.1,369.3 774.0,364.6 776.0,363.1 C778.0,361.7 779.6,361.5 782.1,363.1 C784.6,364.7 788.2,369.5 791.1,372.6 C794.0,375.7 797.1,380.1 799.4,381.6 C801.7,383.1 803.1,381.1 804.7,381.6 C806.4,382.1 807.6,382.3 809.3,384.7 C811.0,387.1 813.2,393.0 815.0,396.0 C816.8,399.0 818.8,404.0 820.1,402.7 C821.5,401.4 821.5,392.9 823.1,388.4 C824.7,383.9 826.9,376.6 829.9,375.6 C832.9,374.6 838.7,381.5 841.2,382.4 C843.7,383.3 843.5,380.1 845.0,380.8 C846.5,381.6 848.5,384.2 850.3,386.9 C852.1,389.5 853.1,393.7 855.6,396.7 C858.1,399.7 862.8,402.5 865.4,405.0 C868.0,407.5 868.6,411.4 871.4,411.8 C874.2,412.2 879.2,406.9 882.0,407.3 C884.8,407.7 886.0,412.9 888.0,414.1 C890.0,415.4 891.1,415.4 894.1,414.8 C897.1,414.2 902.4,410.4 906.2,410.3 C910.0,410.2 913.4,411.5 916.7,414.1 C920.0,416.7 923.5,423.5 925.8,426.1 C928.1,428.8 925.1,427.9 930.5,430.0 C935.9,432.1 950.6,435.8 958.1,438.7 C965.6,441.6 970.8,444.0 975.6,447.4 C980.5,450.8 982.9,456.0 987.2,459.1 C991.6,462.2 996.1,463.6 1001.7,466.3 C1007.3,469.0 1014.9,474.6 1020.6,475.1 C1026.3,475.6 1032.4,469.0 1035.9,469.2 C1039.4,469.4 1040.0,473.0 1041.7,476.5 C1043.4,480.0 1044.7,485.6 1046.0,490.0 C1047.3,494.4 1048.6,496.0 1049.7,502.7 C1050.8,509.4 1051.8,520.5 1052.5,530.0 C1053.2,539.5 1053.7,549.3 1054.0,560.0 C1054.3,570.7 1054.2,588.3 1054.3,594.0" stroke="#999" stroke-width="1"/>
<path d="M866.2,330.0 C867.0,333.2 868.6,345.8 870.7,349.1 C872.8,352.4 876.9,349.4 879.0,349.9 C881.1,350.4 881.7,350.9 883.5,352.2 C885.3,353.4 888.1,356.5 889.6,357.4 C891.1,358.3 890.5,359.5 892.6,357.4 C894.7,355.3 899.9,346.0 902.4,344.6 C904.9,343.2 905.3,346.1 907.7,349.1 C910.1,352.1 913.7,355.9 916.7,362.7 C919.7,369.5 923.8,385.1 925.8,389.9 C927.8,394.7 927.3,391.5 928.8,391.4 C930.3,391.3 933.5,389.7 935.0,389.2 C936.5,388.7 936.0,387.3 938.0,388.4 C940.0,389.5 943.7,394.0 947.1,396.0 C950.5,398.0 954.9,398.2 958.4,400.5 C961.9,402.8 964.8,406.6 968.2,409.6 C971.6,412.6 975.3,415.6 978.8,418.6 C982.3,421.6 986.1,425.2 989.4,427.7 C992.7,430.2 995.0,430.8 998.5,433.7 C1002.0,436.6 1006.5,441.1 1010.5,445.0 C1014.5,448.9 1019.6,455.7 1022.6,457.1 C1025.6,458.5 1026.5,454.9 1028.7,453.4 C1030.9,451.9 1033.5,447.4 1035.5,448.1 C1037.5,448.9 1038.8,454.1 1040.7,457.9 C1042.6,461.7 1044.8,466.9 1046.8,470.7 C1048.8,474.5 1051.1,476.0 1052.6,480.9 C1054.0,485.8 1054.8,491.8 1055.5,500.0 C1056.2,508.2 1056.7,520.0 1057.0,530.0 C1057.3,540.0 1057.4,549.3 1057.5,560.0 C1057.6,570.7 1057.6,588.3 1057.6,594.0" stroke="#999" stroke-width="1"/>
<path d="M950.1,330.0 C950.7,331.2 952.5,335.9 953.9,337.1 C955.3,338.3 956.8,337.7 958.4,337.1 C960.0,336.5 962.1,331.0 963.7,333.3 C965.3,335.6 966.8,346.3 968.2,350.7 C969.6,355.1 970.2,357.4 972.0,359.7 C973.8,361.9 976.1,358.9 978.8,364.2 C981.4,369.5 983.9,383.8 987.9,391.4 C991.9,399.0 999.5,406.2 1003.0,409.6 C1006.5,413.0 1006.5,410.3 1009.0,411.8 C1011.5,413.3 1015.3,416.7 1018.1,418.6 C1020.9,420.5 1022.7,423.7 1025.6,423.2 C1028.5,422.7 1033.0,416.1 1035.5,415.6 C1038.0,415.1 1039.5,417.6 1040.7,420.1 C1042.0,422.6 1042.2,426.6 1043.0,430.7 C1043.8,434.8 1043.9,439.3 1045.3,444.5 C1046.7,449.7 1049.2,457.1 1051.2,462.0 C1053.2,466.9 1055.5,469.2 1057.0,473.6 C1058.5,478.0 1059.2,483.7 1059.9,488.1 C1060.6,492.5 1060.8,497.9 1061.0,499.8" stroke="#999" stroke-width="1"/>
<path d="M583.6,594.0 C583.6,593.2 583.5,591.9 583.6,589.3 C583.7,586.6 583.2,582.1 584.4,578.1 C585.6,574.1 588.4,569.2 590.8,565.3 C593.2,561.4 596.5,555.8 598.8,554.5 C601.1,553.2 602.7,554.7 604.4,557.3 C606.1,559.9 607.9,565.0 609.2,570.1 C610.5,575.2 611.9,583.7 612.4,587.7 C612.9,591.7 612.5,593.0 612.5,594.0" stroke="#2828c0" stroke-width="1"/>
<path d="M620.4,594.0 C620.5,592.1 620.4,587.4 621.2,582.9 C622.0,578.4 623.6,571.3 625.2,566.9 C626.8,562.5 629.1,558.6 630.8,556.5 C632.5,554.4 634.0,554.5 635.6,554.1 C637.2,553.7 638.8,554.6 640.4,554.1 C642.0,553.6 643.6,552.6 645.2,551.0 C646.8,549.4 648.5,546.8 650.0,544.5 C651.5,542.2 652.4,539.7 654.0,537.3 C655.6,534.9 657.5,532.6 659.5,530.2 C661.5,527.8 664.0,524.7 665.9,523.0 C667.8,521.3 669.1,520.5 670.7,520.2 C672.3,519.9 673.9,520.0 675.5,521.4 C677.1,522.8 678.8,526.3 680.3,528.6 C681.8,530.9 681.9,534.2 684.3,535.0 C686.7,535.8 692.1,533.6 694.7,533.3 C697.3,533.0 697.6,532.8 699.8,533.3 C702.0,533.8 704.6,535.0 707.8,536.5 C711.0,538.0 714.2,541.5 719.0,542.6 C723.8,543.7 732.6,542.4 736.6,543.0 C740.6,543.6 739.8,544.1 743.0,546.1 C746.2,548.1 752.3,552.6 755.8,554.9 C759.3,557.2 761.4,557.7 763.8,559.7 C766.2,561.7 768.3,564.5 770.2,567.0 C772.1,569.5 773.8,572.2 775.0,574.9 C776.2,577.5 776.8,579.7 777.3,582.9 C777.8,586.1 778.0,592.1 778.1,594.0" stroke="#2828c0" stroke-width="1"/>
<path d="M832.6,547.4 C832.6,545.4 832.6,542.8 833.5,541.5 C834.4,540.2 836.3,539.4 837.7,539.4 C839.1,539.4 841.1,540.2 842.0,541.5 C842.9,542.8 842.9,545.4 842.9,547.4 C842.9,549.4 842.9,552.0 842.0,553.3 C841.1,554.6 839.1,555.4 837.7,555.4 C836.3,555.4 834.4,554.6 833.5,553.3 C832.6,552.0 832.6,549.4 832.6,547.4Z" stroke="#2828c0" stroke-width="1"/>
<path d="M659.5,594.0 C659.8,591.9 660.0,586.3 661.1,581.3 C662.2,576.2 664.3,567.7 665.9,563.7 C667.5,559.7 669.1,558.1 670.7,557.3 C672.3,556.4 673.9,556.5 675.5,558.6 C677.1,560.7 679.0,566.3 680.3,570.1 C681.6,573.9 682.8,577.3 683.5,581.3 C684.2,585.3 684.2,591.9 684.3,594.0" stroke="#a0a0a0" stroke-width="1" stroke-dasharray="3,2"/>
<path d="M688.3,594.0 C688.8,590.5 689.9,578.3 691.5,573.3 C693.1,568.2 696.0,565.8 697.9,563.7 C699.8,561.6 700.8,560.0 703.0,560.5 C705.2,561.0 708.6,564.3 711.0,567.0 C713.4,569.7 715.5,574.0 717.4,576.5 C719.3,579.0 720.3,581.6 722.2,582.1 C724.1,582.6 725.9,581.0 728.6,579.7 C731.3,578.4 735.5,574.6 738.2,574.1 C740.9,573.6 742.5,574.5 744.6,576.5 C746.7,578.5 749.5,583.2 751.0,586.1 C752.5,589.0 753.0,592.7 753.4,594.0" stroke="#a0a0a0" stroke-width="1" stroke-dasharray="3,2"/>
<path d="M856.0,594.0 C856.2,592.1 855.9,585.9 857.1,582.9 C858.3,579.9 860.7,577.5 863.0,576.0 C865.3,574.5 868.5,573.9 870.7,574.1 C872.9,574.3 874.7,575.5 876.0,577.0 C877.3,578.5 878.0,580.1 878.7,582.9 C879.4,585.7 880.0,592.1 880.3,594.0" stroke="#999" stroke-width="1"/>
<path d="M901.1,594.0 C901.3,592.6 901.4,588.1 902.3,585.9 C903.2,583.7 905.0,582.8 906.6,581.0 C908.2,579.2 910.4,576.1 912.1,574.9 C913.9,573.7 915.9,572.6 917.1,573.6 C918.3,574.6 918.8,578.5 919.5,581.0 C920.2,583.5 921.0,586.2 921.4,588.4 C921.8,590.6 921.9,593.1 922.0,594.0" stroke="#999" stroke-width="1"/>
<path d="M893.7,530.6 C893.9,527.7 894.8,525.2 896.2,523.2 C897.6,521.2 899.8,519.6 902.3,518.9 C904.8,518.2 908.3,518.9 910.9,518.9 C913.5,518.9 916.2,517.6 917.7,518.9 C919.2,520.2 919.7,524.1 920.1,526.9 C920.5,529.7 920.3,532.6 920.1,535.5 C919.9,538.4 919.5,542.0 918.9,544.1 C918.3,546.2 918.1,548.0 916.4,548.4 C914.7,548.8 911.0,546.8 908.5,546.6 C906.0,546.4 903.4,548.2 901.1,547.2 C898.8,546.2 896.1,543.2 894.9,540.4 C893.7,537.6 893.5,533.5 893.7,530.6Z" stroke="#999" stroke-width="1"/>
</g>
<rect x="39" y="536" width="1022" height="1" fill="#000"/>
<rect x="804" y="330" width="1" height="528" fill="#000"/>
</svg>
<text x="29.5" y="334.0" text-anchor="end">90°</text>
<text x="29.5" y="422.0" text-anchor="end">60°</text>
<text x="29.5" y="510.0" text-anchor="end">30°</text>
<text x="29.5" y="598.0" text-anchor="end">0°</text>
<text x="29.5" y="686.0" text-anchor="end">-30°</text>
<text x="29.5" y="774.0" text-anchor="end">-60°</text>
<text x="29.5" y="862.0" text-anchor="end">-90°</text>
<text x="37" y="880.2" text-anchor="middle">20.0</text>
<text x="254" y="880.2" text-anchor="middle">Frequency (Hz)</text>
<text x="378.5" y="880.2" text-anchor="middle">200.0</text>
<text x="719.5" y="880.2" text-anchor="middle">2.0 k</text>
<text x="1056" y="880.2" text-anchor="middle">20.0</text>
<g fill="none" stroke="#a0a0a0" stroke-width="1">
<path d="M1105,556.4 A38.1,38.1 0 0 1 1105,632.6"/>
<line x1="1100" y1="556.4" x2="1105" y2="556.4"/>
<line x1="1100" y1="632.6" x2="1105" y2="632.6"/>
<path d="M1105,518.3 A76.2,76.2 0 0 1 1105,670.7"/>
<line x1="1100" y1="518.3" x2="1105" y2="518.3"/>
<line x1="1100" y1="670.7" x2="1105" y2="670.7"/>
<path d="M1105,480.2 A114.3,114.3 0 0 1 1105,708.8"/>
<line x1="1100" y1="480.2" x2="1105" y2="480.2"/>
<line x1="1100" y1="708.8" x2="1105" y2="708.8"/>
<path d="M1105,442.1 A152.4,152.4 0 0 1 1105,746.9"/>
<line x1="1100" y1="442.1" x2="1105" y2="442.1"/>
<line x1="1100" y1="746.9" x2="1105" y2="746.9"/>
<path d="M1105,404.0 A190.5,190.5 0 0 1 1105,785.0"/>
<line x1="1100" y1="404.0" x2="1105" y2="404.0"/>
<line x1="1100" y1="785.0" x2="1105" y2="785.0"/>
<path d="M1105,365.9 A228.6,228.6 0 0 1 1105,823.1"/>
<line x1="1100" y1="365.9" x2="1105" y2="365.9"/>
<line x1="1100" y1="823.1" x2="1105" y2="823.1"/>
<path d="M1105,327.8 A266.7,266.7 0 0 1 1105,861.2"/>
<line x1="1100" y1="327.8" x2="1105" y2="327.8"/>
<line x1="1100" y1="861.2" x2="1105" y2="861.2"/>
<line x1="1105.5" y1="320" x2="1105.5" y2="872"/>
<line x1="1138" y1="594.5" x2="1381" y2="594.5"/>
<line x1="1136.9" y1="586.0" x2="1371.6" y2="523.1" stroke-dasharray="1,2" stroke="#777"/>
<line x1="1133.6" y1="578.0" x2="1344.0" y2="456.5" stroke-dasharray="1,2" stroke="#777"/>
<line x1="1121.5" y1="565.9" x2="1243.0" y2="355.5" stroke-dasharray="1,2" stroke="#777"/>
<line x1="1113.5" y1="562.6" x2="1176.4" y2="327.9" stroke-dasharray="1,2" stroke="#777"/>
<line x1="1136.9" y1="603.0" x2="1371.6" y2="665.9" stroke-dasharray="1,2" stroke="#777"/>
<line x1="1133.6" y1="611.0" x2="1344.0" y2="732.5" stroke-dasharray="1,2" stroke="#777"/>
<line x1="1121.5" y1="623.1" x2="1243.0" y2="833.5" stroke-dasharray="1,2" stroke="#777"/>
<line x1="1113.5" y1="626.4" x2="1176.4" y2="861.1" stroke-dasharray="1,2" stroke="#777"/>
<line x1="1128.3" y1="571.2" x2="1304.4" y2="395.1"/>
<line x1="1128.3" y1="617.8" x2="1304.4" y2="793.9"/>
</g>
<text x="1101.5" y="331.8" text-anchor="end">6</text>
<text x="1101.5" y="369.9" text-anchor="end">0</text>
<text x="1101.5" y="408.0" text-anchor="end">-6</text>
<text x="1101.5" y="446.1" text-anchor="end">-12</text>
<text x="1101.5" y="484.2" text-anchor="end">-18</text>
<text x="1101.5" y="522.3" text-anchor="end">-24</text>
<text x="1101.5" y="560.4" text-anchor="end">-30</text>
<text x="1304" y="395">45</text>
<text x="1304" y="801">-45</text>
<text x="1108" y="882.7">-90</text>
<path d="M1105.6,509.4 C1107.8,507.5 1113.6,502.0 1119.0,498.3 C1124.4,494.6 1131.7,490.6 1138.1,487.1 C1144.5,483.6 1150.8,480.1 1157.2,477.5 C1163.6,474.9 1169.5,473.0 1176.4,471.8 C1183.3,470.6 1191.3,470.3 1198.7,470.5 C1206.1,470.7 1213.6,471.9 1221.0,472.8 C1228.4,473.7 1236.9,474.8 1243.3,476.0 C1249.7,477.2 1253.3,478.0 1259.2,480.1 C1265.1,482.2 1273.1,485.9 1278.4,488.7 C1283.7,491.5 1287.1,493.8 1291.1,496.7 C1295.1,499.6 1299.0,502.5 1302.3,506.2 C1305.6,509.9 1308.2,513.7 1310.9,519.0 C1313.6,524.3 1315.9,530.7 1318.2,538.1 C1320.5,545.5 1323.0,555.1 1324.6,563.6 C1326.2,572.1 1327.0,581.7 1327.6,589.1 C1328.1,596.5 1328.1,602.0 1327.9,608.1 C1327.7,614.2 1327.4,618.7 1326.2,625.7 C1325.0,632.7 1323.5,642.6 1320.9,650.2 C1318.3,657.8 1314.5,665.1 1310.4,671.3 C1306.3,677.4 1301.6,682.7 1296.3,687.1 C1291.0,691.5 1285.7,694.5 1278.7,697.7 C1271.7,700.9 1263.0,703.9 1254.2,706.4 C1245.4,708.9 1235.5,711.0 1226.1,712.8 C1216.7,714.6 1205.6,716.6 1198.0,717.0 C1190.4,717.4 1187.4,717.0 1180.4,715.2 C1173.4,713.4 1164.0,709.9 1155.8,706.4 C1147.6,702.9 1139.6,698.8 1131.2,694.2 C1122.8,689.6 1109.9,681.5 1105.6,679.0" fill="none" stroke="#000" stroke-width="2" stroke-linejoin="round"/>
<line x1="1135.9" y1="583.4" x2="1358.7" y2="502.4" stroke="#f00" stroke-width="1"/>
<circle cx="1310.9" cy="519" r="3" fill="none" stroke="#000" stroke-width="1"/>
</svg>
</body></html>
